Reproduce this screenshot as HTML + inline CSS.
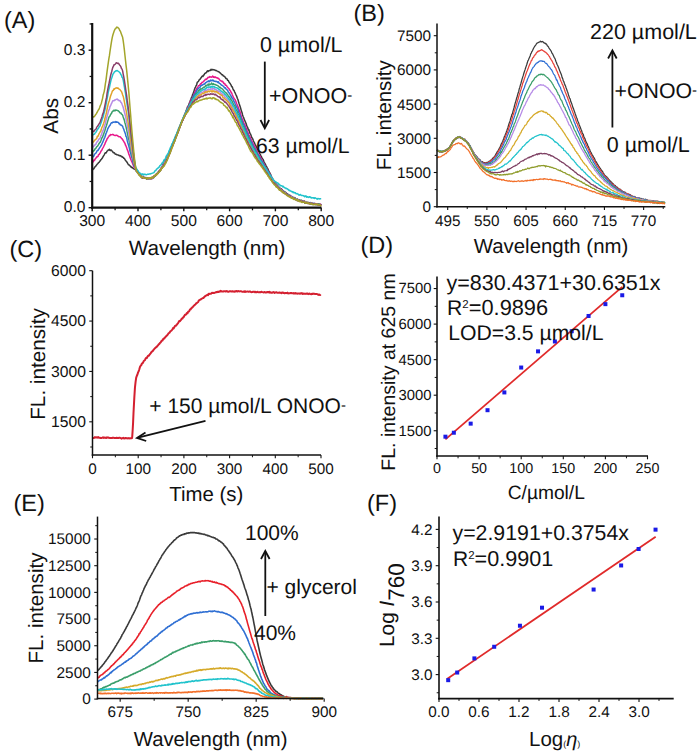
<!DOCTYPE html><html><head><meta charset="utf-8"><style>html,body{margin:0;padding:0;background:#fff;}svg{display:block;font-family:"Liberation Sans",sans-serif;}</style></head><body><svg width="700" height="756" viewBox="0 0 700 756" font-family="&quot;Liberation Sans&quot;, sans-serif" fill="#111" text-rendering="geometricPrecision">
<rect width="700" height="756" fill="#fff"/>
<path d="M92.2,170.32 L92.77,169.47 L93.35,168.93 L93.92,168.75 L94.5,167.36 L95.07,166.81 L95.64,166.42 L96.22,165.38 L96.79,164.75 L97.37,164.08 L97.94,163.47 L98.51,162.61 L99.09,162.32 L99.66,161.45 L100.24,160.85 L100.81,159.8 L101.38,159.19 L101.96,158.45 L102.53,157.72 L103.1,156.64 L103.68,155.63 L104.25,154.81 L104.83,153.43 L105.4,152.68 L105.97,153.08 L106.55,152.14 L107.12,151.01 L107.7,150.62 L108.27,150.08 L108.84,149.91 L109.42,149.3 L109.99,150.43 L110.57,150.41 L111.14,149.95 L111.71,150.75 L112.29,151.16 L112.86,151.99 L113.44,152.81 L114.01,152.7 L114.58,153.17 L115.16,154.01 L115.73,154.21 L116.31,154.32 L116.88,154.87 L117.45,154.85 L118.03,155.02 L118.6,155.26 L119.17,155.65 L119.75,155.53 L120.32,155.67 L120.9,156.1 L121.47,156.74 L122.04,156.55 L122.62,157.28 L123.19,157.25 L123.77,158.37 L124.34,158.36 L124.91,159.35 L125.49,160.5 L126.06,161 L126.64,161.71 L127.21,162.47 L127.78,163.67 L128.36,164.47 L128.93,164.77 L129.51,165.6 L130.08,165.92 L130.65,166.24 L131.23,167.46 L131.8,167.29 L132.38,167.39 L132.95,168.26 L133.52,168.82 L134.1,168.72 L134.67,169.27 L135.25,169.49 L135.82,170.32 L136.39,171.15 L136.97,171.25 L137.54,171.95 L138.11,172.22 L138.69,173.08 L139.26,174.34 L139.84,174.88 L140.41,174.88 L140.98,175.55 L141.56,176.5 L142.13,176.76 L142.71,176.96 L143.28,177.19 L143.85,177.27 L144.43,177.67 L145,177.97 L145.58,178.19 L146.15,177.94 L146.72,179.13 L147.3,178.59 L147.87,178.64 L148.45,179.18 L149.02,178.69 L149.59,179.03 L150.17,178.54 L150.74,178.77 L151.32,178.35 L151.89,177.92 L152.46,177.87 L153.04,177.88 L153.61,177.64 L154.18,176.12 L154.76,176.18 L155.33,175.79 L155.91,174.94 L156.48,174.42 L157.05,173.46 L157.63,173.08 L158.2,172.45 L158.78,172.04 L159.35,170.95 L159.92,170.62 L160.5,169.2 L161.07,167.98 L161.65,167.92 L162.22,167.15 L162.79,165.08 L163.37,163.34 L163.94,163.31 L164.52,162.24 L165.09,160.51 L165.66,159.83 L166.24,158.57 L166.81,157.34 L167.39,155.85 L167.96,154.91 L168.53,153.44 L169.11,152.3 L169.68,151.21 L170.26,149.73 L170.83,148.6 L171.4,146.96 L171.98,145.96 L172.55,144.58 L173.12,142.41 L173.7,141.51 L174.27,140.12 L174.85,138.56 L175.42,137.47 L175.99,136.03 L176.57,134.45 L177.14,133.12 L177.72,132.21 L178.29,130.2 L178.86,129.26 L179.44,128 L180.01,126.53 L180.59,124.95 L181.16,122.88 L181.73,122.33 L182.31,120.47 L182.88,119.75 L183.46,117.64 L184.03,115.91 L184.6,114.83 L185.18,113.51 L185.75,111.81 L186.33,110.23 L186.9,108.83 L187.47,107 L188.05,106.16 L188.62,105.03 L189.19,103.5 L189.77,102.1 L190.34,100.61 L190.92,99.18 L191.49,97.61 L192.06,96.66 L192.64,94.33 L193.21,93.24 L193.79,91.9 L194.36,89.84 L194.93,88.16 L195.51,87 L196.08,85.74 L196.66,84.79 L197.23,82.38 L197.8,81.89 L198.38,81.5 L198.95,80.47 L199.53,79.41 L200.1,79.26 L200.67,78.07 L201.25,77.63 L201.82,76.46 L202.4,75.93 L202.97,76.48 L203.54,75.02 L204.12,74.97 L204.69,73.56 L205.27,73.32 L205.84,72.7 L206.41,72.73 L206.99,71.37 L207.56,70.89 L208.13,71.48 L208.71,70.69 L209.28,70.71 L209.86,70.24 L210.43,70.42 L211,69.26 L211.58,70.02 L212.15,69.74 L212.73,69.47 L213.3,69.86 L213.87,69.81 L214.45,70.03 L215.02,70.05 L215.6,70.57 L216.17,70.58 L216.74,70.78 L217.32,71.12 L217.89,71.33 L218.47,71.8 L219.04,71.85 L219.61,72.6 L220.19,72.97 L220.76,73.59 L221.34,74.01 L221.91,74.72 L222.48,74.65 L223.06,75.68 L223.63,76.06 L224.21,76.23 L224.78,76.74 L225.35,77.51 L225.93,78.56 L226.5,78.39 L227.07,79.09 L227.65,80.33 L228.22,80.4 L228.8,81.67 L229.37,82.66 L229.94,83.18 L230.52,84.2 L231.09,85.07 L231.67,86.65 L232.24,86.63 L232.81,88.48 L233.39,89.89 L233.96,90.35 L234.54,91.83 L235.11,92.81 L235.68,94.23 L236.26,95.39 L236.83,96.67 L237.41,98.49 L237.98,99.67 L238.55,101.75 L239.13,103.67 L239.7,105.21 L240.28,106.97 L240.85,109.06 L241.42,111.12 L242,112.48 L242.57,114.99 L243.14,116.45 L243.72,117.7 L244.29,119.65 L244.87,120.69 L245.44,122.18 L246.01,123.32 L246.59,125.32 L247.16,126.63 L247.74,127.71 L248.31,129.96 L248.88,129.56 L249.46,132.09 L250.03,133.42 L250.61,134.23 L251.18,135.8 L251.75,137.63 L252.33,138.14 L252.9,139.32 L253.48,140.98 L254.05,142.16 L254.62,143.14 L255.2,144.8 L255.77,145.57 L256.35,146.82 L256.92,148.26 L257.49,149.64 L258.07,150.4 L258.64,151.73 L259.22,152.26 L259.79,153.63 L260.36,154.53 L260.94,155.82 L261.51,156.87 L262.08,158.28 L262.66,158.9 L263.23,159.63 L263.81,161.36 L264.38,162.53 L264.95,163.48 L265.53,164.67 L266.1,165.85 L266.68,166.72 L267.25,168.01 L267.82,168.64 L268.4,170.27 L268.97,171.34 L269.55,172.32 L270.12,173.88 L270.69,174.48 L271.27,176.25 L271.84,177.4 L272.42,178.33 L272.99,179.27 L273.56,180.66 L274.14,181.15 L274.71,182.53 L275.29,182.38 L275.86,183.58 L276.43,184.44 L277.01,185.19 L277.58,185.67 L278.15,186.24 L278.73,187.1 L279.3,187.64 L279.88,187.97 L280.45,188.62 L281.02,188.68 L281.6,189.13 L282.17,189.98 L282.75,190.31 L283.32,191.35 L283.89,191.18 L284.47,191.83 L285.04,192.09 L285.62,192.16 L286.19,193.79 L286.76,193.38 L287.34,194.2 L287.91,194.05 L288.49,195.03 L289.06,195.14 L289.63,195.28 L290.21,195.5 L290.78,196.01 L291.36,196.62 L291.93,196.87 L292.5,196.73 L293.08,197.32 L293.65,198.15 L294.23,197.64 L294.8,198.05 L295.37,198.17 L295.95,198.81 L296.52,198.69 L297.09,199.52 L297.67,199.23 L298.24,199.78 L298.82,199.63 L299.39,199.74 L299.96,200.49 L300.54,200.48 L301.11,200.65 L301.69,200.48 L302.26,200.82 L302.83,201.61 L303.41,201.26 L303.98,201.34 L304.56,201.07 L305.13,202.43 L305.7,202.22 L306.28,201.78 L306.85,202.77 L307.43,202.86 L308,202.45 L308.57,202.42 L309.15,203.07 L309.72,202.8 L310.3,203.04 L310.87,202.7 L311.44,203.29 L312.02,203.07 L312.59,203.77 L313.16,203.64 L313.74,203.71 L314.31,203.41 L314.89,203.67 L315.46,204.18 L316.03,203.81 L316.61,203.86 L317.18,204.21 L317.76,204.32 L318.33,204.37 L318.9,204.9 L319.48,204.36 L320.05,204.39 L320.63,204.78 L321.2,204.32" fill="none" stroke="#3a3a3a" stroke-width="1.5" stroke-linejoin="round"/>
<path d="M92.2,163.01 L92.77,162.15 L93.35,161.49 L93.92,160.07 L94.5,160.53 L95.07,159.16 L95.64,158.34 L96.22,157.8 L96.79,156.82 L97.37,156.78 L97.94,156.44 L98.51,154.73 L99.09,154.6 L99.66,153.56 L100.24,153.03 L100.81,151.47 L101.38,150.59 L101.96,150.06 L102.53,148.46 L103.1,147.58 L103.68,146.5 L104.25,145.27 L104.83,144.13 L105.4,142.6 L105.97,141.43 L106.55,140.4 L107.12,138.82 L107.7,138.28 L108.27,137.11 L108.84,136.37 L109.42,135.47 L109.99,135.62 L110.57,134.53 L111.14,134.73 L111.71,134.65 L112.29,134.71 L112.86,134.33 L113.44,134.62 L114.01,135.18 L114.58,135.38 L115.16,135.39 L115.73,135.6 L116.31,135.2 L116.88,135.3 L117.45,135.68 L118.03,136.09 L118.6,136.61 L119.17,136.76 L119.75,136.84 L120.32,136.82 L120.9,137.61 L121.47,138.44 L122.04,138.83 L122.62,139.58 L123.19,140.5 L123.77,141.36 L124.34,142.48 L124.91,143.3 L125.49,145.24 L126.06,146.24 L126.64,147.59 L127.21,149.65 L127.78,150.71 L128.36,152.54 L128.93,154.42 L129.51,155.77 L130.08,157.4 L130.65,159.02 L131.23,160.48 L131.8,161.73 L132.38,162.9 L132.95,164.6 L133.52,165.61 L134.1,167.34 L134.67,167.95 L135.25,168.89 L135.82,169.93 L136.39,170.59 L136.97,171.11 L137.54,172.17 L138.11,172.72 L138.69,173.19 L139.26,173.73 L139.84,174.59 L140.41,174.55 L140.98,175.96 L141.56,176.13 L142.13,176.47 L142.71,177.24 L143.28,177.67 L143.85,177.97 L144.43,177.73 L145,177.6 L145.58,178.02 L146.15,178.2 L146.72,178.5 L147.3,178.32 L147.87,179.26 L148.45,178.59 L149.02,178.7 L149.59,179.17 L150.17,178.05 L150.74,179.08 L151.32,178.82 L151.89,178.61 L152.46,177.57 L153.04,177.83 L153.61,176.91 L154.18,176.45 L154.76,176.04 L155.33,175.98 L155.91,175.18 L156.48,173.86 L157.05,174.18 L157.63,173.41 L158.2,172.58 L158.78,171.66 L159.35,171.15 L159.92,170.23 L160.5,169.96 L161.07,168.43 L161.65,167.59 L162.22,167.26 L162.79,165.24 L163.37,163.93 L163.94,163.81 L164.52,162.45 L165.09,160.93 L165.66,160.74 L166.24,159.78 L166.81,158.39 L167.39,156.96 L167.96,155.72 L168.53,154.08 L169.11,152.88 L169.68,152.03 L170.26,150.11 L170.83,148.34 L171.4,147.17 L171.98,145.85 L172.55,144.76 L173.12,143.06 L173.7,142.29 L174.27,140.36 L174.85,139.22 L175.42,137.43 L175.99,136.23 L176.57,135.3 L177.14,133.49 L177.72,131.73 L178.29,131.04 L178.86,129.42 L179.44,128.05 L180.01,126.83 L180.59,124.62 L181.16,123.08 L181.73,121.81 L182.31,120.57 L182.88,119.27 L183.46,117.8 L184.03,116.75 L184.6,114.91 L185.18,113.54 L185.75,112.26 L186.33,111.41 L186.9,109.91 L187.47,108.7 L188.05,106.81 L188.62,106.05 L189.19,105.45 L189.77,103.48 L190.34,101.74 L190.92,100.81 L191.49,99.44 L192.06,98.38 L192.64,97.7 L193.21,96.35 L193.79,94.89 L194.36,93.29 L194.93,91.95 L195.51,90.67 L196.08,89.9 L196.66,88.46 L197.23,87.88 L197.8,87.11 L198.38,85.8 L198.95,85.62 L199.53,85.55 L200.1,84.47 L200.67,83.57 L201.25,84.04 L201.82,82.67 L202.4,82.15 L202.97,82 L203.54,81.53 L204.12,80.74 L204.69,80.32 L205.27,79.32 L205.84,79.19 L206.41,79.42 L206.99,78.83 L207.56,78 L208.13,77.32 L208.71,77.52 L209.28,77.3 L209.86,76.6 L210.43,77.02 L211,76.98 L211.58,77.23 L212.15,76.89 L212.73,76.04 L213.3,77.22 L213.87,76.85 L214.45,77.43 L215.02,77.12 L215.6,77.09 L216.17,77.69 L216.74,77.66 L217.32,77.97 L217.89,78.4 L218.47,78.37 L219.04,79.05 L219.61,79.81 L220.19,80.36 L220.76,80.87 L221.34,80.92 L221.91,81.66 L222.48,81.19 L223.06,81.97 L223.63,83.13 L224.21,83.69 L224.78,83.57 L225.35,85.22 L225.93,85.31 L226.5,85.46 L227.07,86.69 L227.65,87.26 L228.22,87.98 L228.8,88.46 L229.37,89.48 L229.94,90.29 L230.52,91.16 L231.09,92.31 L231.67,92.97 L232.24,94.59 L232.81,95.89 L233.39,97.09 L233.96,98.16 L234.54,98.96 L235.11,99.63 L235.68,101.08 L236.26,102.52 L236.83,103.97 L237.41,105.2 L237.98,106.64 L238.55,108.24 L239.13,110.12 L239.7,111.45 L240.28,112.64 L240.85,115.31 L241.42,116.37 L242,118.6 L242.57,119.48 L243.14,121.31 L243.72,123.21 L244.29,123.93 L244.87,124.79 L245.44,126.71 L246.01,127.74 L246.59,129.48 L247.16,131.47 L247.74,131.96 L248.31,133.55 L248.88,135.16 L249.46,135.73 L250.03,137.14 L250.61,138.63 L251.18,139.42 L251.75,141.17 L252.33,141.89 L252.9,143.56 L253.48,144.26 L254.05,145.92 L254.62,146.25 L255.2,147.76 L255.77,148.5 L256.35,150.31 L256.92,151.28 L257.49,151.93 L258.07,154.12 L258.64,154.63 L259.22,155.01 L259.79,156.21 L260.36,157.07 L260.94,158.49 L261.51,159.23 L262.08,160.64 L262.66,161.85 L263.23,162.96 L263.81,163.6 L264.38,164.61 L264.95,165.64 L265.53,167.57 L266.1,168.12 L266.68,168.72 L267.25,169.53 L267.82,170.89 L268.4,172.08 L268.97,173.62 L269.55,173.35 L270.12,175.41 L270.69,175.6 L271.27,176.68 L271.84,178.11 L272.42,179.36 L272.99,180.1 L273.56,181.42 L274.14,181.84 L274.71,182.74 L275.29,183.34 L275.86,183.91 L276.43,184.32 L277.01,185.63 L277.58,185.8 L278.15,186.98 L278.73,187.59 L279.3,188.07 L279.88,188.73 L280.45,188.64 L281.02,189.17 L281.6,189.56 L282.17,190.46 L282.75,190.83 L283.32,191.56 L283.89,192.18 L284.47,192.11 L285.04,192.58 L285.62,193.42 L286.19,193.29 L286.76,194.41 L287.34,194.3 L287.91,194.81 L288.49,195.15 L289.06,195.68 L289.63,195.39 L290.21,195.86 L290.78,196 L291.36,196.66 L291.93,197.43 L292.5,197.45 L293.08,198.01 L293.65,197.78 L294.23,197.83 L294.8,198.37 L295.37,198.93 L295.95,199.11 L296.52,199.16 L297.09,199.91 L297.67,199.63 L298.24,199.82 L298.82,200.27 L299.39,200.43 L299.96,200.44 L300.54,200.95 L301.11,201.14 L301.69,200.82 L302.26,201.17 L302.83,200.89 L303.41,201.9 L303.98,202.32 L304.56,201.62 L305.13,201.77 L305.7,202.45 L306.28,202.83 L306.85,202.52 L307.43,203.19 L308,202.87 L308.57,203.57 L309.15,203.08 L309.72,203.78 L310.3,203.29 L310.87,202.84 L311.44,203.51 L312.02,203.28 L312.59,203.82 L313.16,204 L313.74,204.28 L314.31,203.57 L314.89,204.01 L315.46,203.56 L316.03,204.53 L316.61,204.3 L317.18,204.28 L317.76,203.93 L318.33,203.87 L318.9,204.71 L319.48,204.92 L320.05,205.16 L320.63,204.23 L321.2,204.72" fill="none" stroke="#e8198b" stroke-width="1.5" stroke-linejoin="round"/>
<path d="M92.2,157.18 L92.77,156.45 L93.35,156.66 L93.92,155.78 L94.5,154.29 L95.07,153.78 L95.64,153.15 L96.22,152.78 L96.79,151.53 L97.37,150.4 L97.94,150.57 L98.51,149.4 L99.09,148.75 L99.66,147.68 L100.24,146.9 L100.81,146 L101.38,145.17 L101.96,143.75 L102.53,142.71 L103.1,141.27 L103.68,139.92 L104.25,138.34 L104.83,137.27 L105.4,135.61 L105.97,133.54 L106.55,132.32 L107.12,130.77 L107.7,128.96 L108.27,127.86 L108.84,126.84 L109.42,125.84 L109.99,125.4 L110.57,124.05 L111.14,123.06 L111.71,122.7 L112.29,122.92 L112.86,122.04 L113.44,122.3 L114.01,122.08 L114.58,121.98 L115.16,122.41 L115.73,121.65 L116.31,122.16 L116.88,122.01 L117.45,122.26 L118.03,122.29 L118.6,122.65 L119.17,123.86 L119.75,123.8 L120.32,124.95 L120.9,124.94 L121.47,125.15 L122.04,125.72 L122.62,126.37 L123.19,128.01 L123.77,129.24 L124.34,130.98 L124.91,132.41 L125.49,134.13 L126.06,136.6 L126.64,137.25 L127.21,140.46 L127.78,142.65 L128.36,144.45 L128.93,146.52 L129.51,148.82 L130.08,151.49 L130.65,153.11 L131.23,155.75 L131.8,157.3 L132.38,159.22 L132.95,161.98 L133.52,163.82 L134.1,165.69 L134.67,167.02 L135.25,168.58 L135.82,169.74 L136.39,170.95 L136.97,171.23 L137.54,171.63 L138.11,173.21 L138.69,173.56 L139.26,174.12 L139.84,174.91 L140.41,175.56 L140.98,175.5 L141.56,176.15 L142.13,176.69 L142.71,177.51 L143.28,176.76 L143.85,177.53 L144.43,177.99 L145,178.07 L145.58,178.26 L146.15,177.57 L146.72,178.3 L147.3,178.44 L147.87,179.23 L148.45,178.38 L149.02,179 L149.59,179.04 L150.17,178.49 L150.74,178.87 L151.32,178.17 L151.89,177.84 L152.46,178.45 L153.04,177.56 L153.61,177.58 L154.18,176.64 L154.76,175.82 L155.33,175.99 L155.91,174.43 L156.48,174.5 L157.05,174.17 L157.63,173.23 L158.2,172.34 L158.78,172.42 L159.35,171.32 L159.92,171.01 L160.5,169.38 L161.07,168.84 L161.65,168.1 L162.22,166.67 L162.79,166.4 L163.37,165.08 L163.94,163.32 L164.52,162.88 L165.09,161.34 L165.66,160.63 L166.24,159.8 L166.81,158.5 L167.39,157.19 L167.96,156.09 L168.53,154.94 L169.11,153.61 L169.68,152.49 L170.26,150.62 L170.83,149.15 L171.4,147.64 L171.98,147.04 L172.55,144.8 L173.12,143.66 L173.7,142.7 L174.27,140.83 L174.85,139.2 L175.42,137.87 L175.99,136.37 L176.57,134.86 L177.14,133.43 L177.72,132.27 L178.29,131.46 L178.86,129.59 L179.44,127.77 L180.01,126.58 L180.59,124.76 L181.16,123.29 L181.73,122.11 L182.31,120.13 L182.88,119.66 L183.46,117.71 L184.03,116.85 L184.6,115.67 L185.18,113.98 L185.75,113.1 L186.33,111.38 L186.9,110.78 L187.47,109.17 L188.05,108.23 L188.62,106.84 L189.19,105.7 L189.77,104.76 L190.34,103 L190.92,102.38 L191.49,101.08 L192.06,99.28 L192.64,98.05 L193.21,96.96 L193.79,95.91 L194.36,94.18 L194.93,94.21 L195.51,93.04 L196.08,92.15 L196.66,90.66 L197.23,90.01 L197.8,88.97 L198.38,88.29 L198.95,88.02 L199.53,87.64 L200.1,87.2 L200.67,85.71 L201.25,85.64 L201.82,85.29 L202.4,85.13 L202.97,84.65 L203.54,84.27 L204.12,83.85 L204.69,84.11 L205.27,82.99 L205.84,82.73 L206.41,82.18 L206.99,81.89 L207.56,81.39 L208.13,81.4 L208.71,80.9 L209.28,81.74 L209.86,81.1 L210.43,80.06 L211,80.87 L211.58,80.49 L212.15,80.14 L212.73,80.64 L213.3,80.19 L213.87,80.96 L214.45,81.25 L215.02,81.24 L215.6,81.56 L216.17,81.29 L216.74,81.67 L217.32,81.78 L217.89,82.55 L218.47,81.8 L219.04,83.02 L219.61,83.43 L220.19,83.71 L220.76,84.38 L221.34,84.97 L221.91,85.23 L222.48,85.47 L223.06,86.05 L223.63,86.48 L224.21,87.47 L224.78,88.06 L225.35,87.71 L225.93,88.95 L226.5,89.31 L227.07,89.88 L227.65,90.37 L228.22,91.99 L228.8,92.52 L229.37,93.35 L229.94,94.2 L230.52,95.8 L231.09,96.03 L231.67,97.91 L232.24,97.94 L232.81,98.92 L233.39,99.99 L233.96,101.67 L234.54,102.12 L235.11,103.83 L235.68,105.11 L236.26,106.21 L236.83,107.43 L237.41,108.45 L237.98,109.65 L238.55,112.04 L239.13,113.05 L239.7,114.12 L240.28,115.89 L240.85,117.36 L241.42,119.55 L242,120.33 L242.57,122.64 L243.14,123.55 L243.72,124.6 L244.29,125.8 L244.87,127.58 L245.44,128.81 L246.01,130.6 L246.59,131.88 L247.16,132.66 L247.74,134.31 L248.31,135.62 L248.88,137.28 L249.46,138.03 L250.03,139.09 L250.61,140.75 L251.18,141.85 L251.75,142.36 L252.33,143.95 L252.9,145.23 L253.48,146.62 L254.05,147.56 L254.62,148.54 L255.2,149.12 L255.77,150.81 L256.35,151.1 L256.92,153 L257.49,153.85 L258.07,154.48 L258.64,155.83 L259.22,157.01 L259.79,157.78 L260.36,158.58 L260.94,160.23 L261.51,160.74 L262.08,161.67 L262.66,162.73 L263.23,163.34 L263.81,164.71 L264.38,165.62 L264.95,166.46 L265.53,167.22 L266.1,168.52 L266.68,168.99 L267.25,170.78 L267.82,171.13 L268.4,172.86 L268.97,173.69 L269.55,174.57 L270.12,175.07 L270.69,176.46 L271.27,177.87 L271.84,178.32 L272.42,179.75 L272.99,180.85 L273.56,181.34 L274.14,182.29 L274.71,182.82 L275.29,184.03 L275.86,184.42 L276.43,184.99 L277.01,185.73 L277.58,186.43 L278.15,187.23 L278.73,187.3 L279.3,188.1 L279.88,188.52 L280.45,189.31 L281.02,189.71 L281.6,190.53 L282.17,190.66 L282.75,190.91 L283.32,191.57 L283.89,191.77 L284.47,192.37 L285.04,192.45 L285.62,193.35 L286.19,194.2 L286.76,193.93 L287.34,194.49 L287.91,195.11 L288.49,194.96 L289.06,195.44 L289.63,195.73 L290.21,196.32 L290.78,196.48 L291.36,196.79 L291.93,196.63 L292.5,197.71 L293.08,197.79 L293.65,197.96 L294.23,198.9 L294.8,199.13 L295.37,198.2 L295.95,199.69 L296.52,199.18 L297.09,199.86 L297.67,200.04 L298.24,200.63 L298.82,200.5 L299.39,200.17 L299.96,201.05 L300.54,200.61 L301.11,200.88 L301.69,200.53 L302.26,201.49 L302.83,201.11 L303.41,201.4 L303.98,201.93 L304.56,202.52 L305.13,201.67 L305.7,202.72 L306.28,202.58 L306.85,202.29 L307.43,202.35 L308,203.09 L308.57,202.96 L309.15,203.14 L309.72,202.8 L310.3,202.48 L310.87,203.95 L311.44,203.19 L312.02,204.48 L312.59,203.67 L313.16,204.12 L313.74,203.24 L314.31,203.9 L314.89,204.27 L315.46,204.28 L316.03,204.39 L316.61,204.22 L317.18,204.4 L317.76,204.22 L318.33,204 L318.9,204.33 L319.48,204.99 L320.05,205.17 L320.63,204.94 L321.2,204.42" fill="none" stroke="#2f6fd3" stroke-width="1.5" stroke-linejoin="round"/>
<path d="M92.2,152.08 L92.77,151.7 L93.35,150.91 L93.92,150.81 L94.5,150.09 L95.07,148.89 L95.64,148.44 L96.22,147.74 L96.79,146.73 L97.37,146.23 L97.94,145.45 L98.51,144.57 L99.09,143.41 L99.66,142.72 L100.24,142.16 L100.81,140.84 L101.38,139.37 L101.96,137.72 L102.53,137.32 L103.1,135.42 L103.68,134.14 L104.25,132.28 L104.83,130.72 L105.4,128.55 L105.97,126.9 L106.55,125.27 L107.12,123.33 L107.7,121.21 L108.27,119.57 L108.84,117.54 L109.42,116.45 L109.99,116.09 L110.57,114.41 L111.14,113.85 L111.71,112.99 L112.29,111.46 L112.86,110.94 L113.44,111.11 L114.01,110.1 L114.58,110.77 L115.16,110.7 L115.73,110.04 L116.31,110.14 L116.88,110.33 L117.45,110.49 L118.03,110.66 L118.6,111.12 L119.17,111.55 L119.75,112.58 L120.32,112.97 L120.9,112.97 L121.47,114.07 L122.04,114.43 L122.62,115.14 L123.19,117.03 L123.77,118.62 L124.34,120.12 L124.91,122.76 L125.49,124.62 L126.06,126.95 L126.64,129.57 L127.21,132.31 L127.78,135.09 L128.36,137.77 L128.93,139.91 L129.51,142.74 L130.08,145.88 L130.65,148.51 L131.23,151.81 L131.8,153.88 L132.38,156.63 L132.95,159.14 L133.52,161.63 L134.1,164.07 L134.67,165.46 L135.25,168.67 L135.82,169.62 L136.39,170.29 L136.97,171.19 L137.54,172.25 L138.11,172.35 L138.69,173.96 L139.26,174.74 L139.84,174.82 L140.41,176.07 L140.98,176.91 L141.56,176.36 L142.13,176.79 L142.71,177.09 L143.28,177.66 L143.85,177.61 L144.43,178.13 L145,177.42 L145.58,177.85 L146.15,177.99 L146.72,178.95 L147.3,178.17 L147.87,178.04 L148.45,178.19 L149.02,178.36 L149.59,178.63 L150.17,178.73 L150.74,178.35 L151.32,178.26 L151.89,178.07 L152.46,177.93 L153.04,176.94 L153.61,177.42 L154.18,176.6 L154.76,176.27 L155.33,175.23 L155.91,174.54 L156.48,174.02 L157.05,173.58 L157.63,173.66 L158.2,171.97 L158.78,171.87 L159.35,171.42 L159.92,170.66 L160.5,169.99 L161.07,168.9 L161.65,168.05 L162.22,167.32 L162.79,167.05 L163.37,165.25 L163.94,164.06 L164.52,163.01 L165.09,162.18 L165.66,160.93 L166.24,159.65 L166.81,158.97 L167.39,157.15 L167.96,156.98 L168.53,155.47 L169.11,154.03 L169.68,153.15 L170.26,151.31 L170.83,149.2 L171.4,147.79 L171.98,146.72 L172.55,144.79 L173.12,143.83 L173.7,142.66 L174.27,141.03 L174.85,139.74 L175.42,138.03 L175.99,137.28 L176.57,135.03 L177.14,134.02 L177.72,132.13 L178.29,131.4 L178.86,129.57 L179.44,127.93 L180.01,126.2 L180.59,125.41 L181.16,123.06 L181.73,122.02 L182.31,120.95 L182.88,119.05 L183.46,118.09 L184.03,116.49 L184.6,114.91 L185.18,114.2 L185.75,113.41 L186.33,112.18 L186.9,110.68 L187.47,109.61 L188.05,108.81 L188.62,107.62 L189.19,106.08 L189.77,104.44 L190.34,104.89 L190.92,102.71 L191.49,101.89 L192.06,100.47 L192.64,99.35 L193.21,98.54 L193.79,97.85 L194.36,96.98 L194.93,96.19 L195.51,94.32 L196.08,93.95 L196.66,93.29 L197.23,92.49 L197.8,92.15 L198.38,91.02 L198.95,90.14 L199.53,89.7 L200.1,90.12 L200.67,88.78 L201.25,89.04 L201.82,89 L202.4,88.39 L202.97,87.92 L203.54,87.25 L204.12,87.21 L204.69,87.02 L205.27,86.3 L205.84,85.3 L206.41,85.83 L206.99,85.19 L207.56,85.06 L208.13,84.02 L208.71,85.25 L209.28,84.12 L209.86,84.72 L210.43,84.37 L211,84.12 L211.58,83.01 L212.15,84.22 L212.73,84.59 L213.3,83.64 L213.87,84.42 L214.45,84.37 L215.02,84.49 L215.6,84.67 L216.17,85.01 L216.74,85.16 L217.32,85.44 L217.89,85.64 L218.47,86.42 L219.04,86.92 L219.61,87.44 L220.19,87.35 L220.76,88.01 L221.34,88.3 L221.91,88.79 L222.48,88.93 L223.06,89.9 L223.63,90.24 L224.21,91.38 L224.78,91.86 L225.35,92.14 L225.93,92.96 L226.5,92.95 L227.07,94.23 L227.65,94.49 L228.22,96.04 L228.8,96.41 L229.37,97.01 L229.94,97.87 L230.52,99.28 L231.09,99.65 L231.67,100.37 L232.24,101.49 L232.81,102.96 L233.39,104.01 L233.96,105.29 L234.54,105.84 L235.11,106.71 L235.68,108.47 L236.26,110 L236.83,110.62 L237.41,111.75 L237.98,114.16 L238.55,114.64 L239.13,115.4 L239.7,117.24 L240.28,118.77 L240.85,120.28 L241.42,121.53 L242,123.62 L242.57,125.02 L243.14,126.02 L243.72,127.72 L244.29,128.74 L244.87,130.73 L245.44,131.19 L246.01,132.45 L246.59,133.98 L247.16,135.2 L247.74,136 L248.31,138.09 L248.88,139.26 L249.46,140.52 L250.03,141.5 L250.61,142.85 L251.18,143.68 L251.75,145.02 L252.33,146.39 L252.9,147.51 L253.48,147.72 L254.05,149.18 L254.62,150.29 L255.2,151.25 L255.77,152.3 L256.35,153.05 L256.92,154.11 L257.49,155.45 L258.07,156.5 L258.64,157.55 L259.22,158.56 L259.79,158.67 L260.36,160.34 L260.94,161.63 L261.51,162.19 L262.08,163.1 L262.66,163.68 L263.23,164.99 L263.81,165.47 L264.38,166.45 L264.95,167.11 L265.53,167.76 L266.1,168.51 L266.68,169.95 L267.25,171.74 L267.82,172.5 L268.4,173.3 L268.97,173.73 L269.55,175.17 L270.12,175.99 L270.69,177.41 L271.27,178.13 L271.84,179.03 L272.42,180.32 L272.99,180.82 L273.56,181.57 L274.14,182.77 L274.71,183.17 L275.29,183.69 L275.86,184.86 L276.43,185.51 L277.01,186.22 L277.58,186.92 L278.15,187.25 L278.73,187.99 L279.3,188.51 L279.88,189.19 L280.45,189.94 L281.02,190.25 L281.6,190.34 L282.17,191.29 L282.75,191.59 L283.32,191.31 L283.89,191.91 L284.47,192.9 L285.04,192.91 L285.62,193.7 L286.19,193.37 L286.76,194.45 L287.34,194.61 L287.91,194.56 L288.49,195.62 L289.06,195.3 L289.63,196.31 L290.21,196.32 L290.78,196.81 L291.36,197.07 L291.93,197.3 L292.5,197.68 L293.08,198.27 L293.65,197.96 L294.23,198.28 L294.8,198.37 L295.37,198.59 L295.95,199.69 L296.52,199.1 L297.09,199.32 L297.67,200.1 L298.24,199.81 L298.82,199.88 L299.39,200.7 L299.96,201.16 L300.54,201.02 L301.11,200.21 L301.69,201.2 L302.26,201.82 L302.83,201.69 L303.41,202.09 L303.98,202.06 L304.56,202.05 L305.13,203.04 L305.7,202.26 L306.28,202.07 L306.85,202.71 L307.43,202.89 L308,202.55 L308.57,203.41 L309.15,203.52 L309.72,203.67 L310.3,203.39 L310.87,203.32 L311.44,203.57 L312.02,203.47 L312.59,203.48 L313.16,203.68 L313.74,204.18 L314.31,204.1 L314.89,203.71 L315.46,204.52 L316.03,204.35 L316.61,204.47 L317.18,204.47 L317.76,204.83 L318.33,204.98 L318.9,203.81 L319.48,204.37 L320.05,204.95 L320.63,204.79 L321.2,204.6" fill="none" stroke="#3a9e6a" stroke-width="1.5" stroke-linejoin="round"/>
<path d="M92.2,147.52 L92.77,146.79 L93.35,146.68 L93.92,146.03 L94.5,145.33 L95.07,144.77 L95.64,144.69 L96.22,143.15 L96.79,142.29 L97.37,141.41 L97.94,141.04 L98.51,139.78 L99.09,138.97 L99.66,138.68 L100.24,137.8 L100.81,135.83 L101.38,135.03 L101.96,133.04 L102.53,131.21 L103.1,130.52 L103.68,128.94 L104.25,127.06 L104.83,124.97 L105.4,123.44 L105.97,120.46 L106.55,118.25 L107.12,116.09 L107.7,114.31 L108.27,111.88 L108.84,110.19 L109.42,109.21 L109.99,106.56 L110.57,105.77 L111.14,104.13 L111.71,103.13 L112.29,101.76 L112.86,100.69 L113.44,100.78 L114.01,100.72 L114.58,100.03 L115.16,100.04 L115.73,99.67 L116.31,99.36 L116.88,99.36 L117.45,99.1 L118.03,100.1 L118.6,100.04 L119.17,100.78 L119.75,100.75 L120.32,101.02 L120.9,102.43 L121.47,102.79 L122.04,104.33 L122.62,105.74 L123.19,107.28 L123.77,109.48 L124.34,111.71 L124.91,114.07 L125.49,116.2 L126.06,118.94 L126.64,121.76 L127.21,124.92 L127.78,127.99 L128.36,130.81 L128.93,133.89 L129.51,137.22 L130.08,140.72 L130.65,144.43 L131.23,148.44 L131.8,151.33 L132.38,154.14 L132.95,156.36 L133.52,160.05 L134.1,162.61 L134.67,165.02 L135.25,167.66 L135.82,169.66 L136.39,170.77 L136.97,171.79 L137.54,172.15 L138.11,172.65 L138.69,173.57 L139.26,174.21 L139.84,174.89 L140.41,175.09 L140.98,176.46 L141.56,176.67 L142.13,176.87 L142.71,176.98 L143.28,178.31 L143.85,177.86 L144.43,177.91 L145,178.3 L145.58,177.83 L146.15,178.14 L146.72,178.44 L147.3,178.91 L147.87,178.89 L148.45,178.84 L149.02,178.42 L149.59,178.97 L150.17,179.23 L150.74,178.95 L151.32,178.52 L151.89,177.57 L152.46,177.01 L153.04,177.59 L153.61,176.73 L154.18,176.13 L154.76,175.67 L155.33,175.58 L155.91,175.4 L156.48,174.58 L157.05,174.43 L157.63,173.18 L158.2,172.43 L158.78,172.69 L159.35,171.49 L159.92,170.68 L160.5,169.63 L161.07,168.78 L161.65,168.1 L162.22,167.67 L162.79,166.64 L163.37,165.19 L163.94,164.78 L164.52,163.6 L165.09,162.08 L165.66,161.51 L166.24,160.91 L166.81,159.42 L167.39,157.93 L167.96,156.93 L168.53,155.21 L169.11,153.82 L169.68,153.06 L170.26,151.6 L170.83,150.05 L171.4,148.96 L171.98,147.02 L172.55,145.75 L173.12,144.01 L173.7,143.03 L174.27,141.72 L174.85,139.44 L175.42,138.84 L175.99,137.28 L176.57,135.83 L177.14,134.19 L177.72,132.87 L178.29,131.09 L178.86,129.78 L179.44,128.18 L180.01,126.45 L180.59,124.87 L181.16,123.5 L181.73,122.47 L182.31,120.75 L182.88,119.59 L183.46,118.32 L184.03,117.63 L184.6,115.74 L185.18,114.87 L185.75,113.17 L186.33,112.4 L186.9,111.85 L187.47,110.84 L188.05,108.98 L188.62,108.56 L189.19,107.04 L189.77,106.34 L190.34,104.57 L190.92,104.21 L191.49,102.77 L192.06,101.87 L192.64,101.5 L193.21,100.56 L193.79,99.12 L194.36,98.77 L194.93,98.28 L195.51,96.92 L196.08,95.85 L196.66,96.09 L197.23,95.09 L197.8,95.07 L198.38,94.11 L198.95,94.17 L199.53,93.28 L200.1,93.18 L200.67,93.07 L201.25,92.6 L201.82,92.52 L202.4,92.39 L202.97,92.06 L203.54,91.45 L204.12,91.48 L204.69,90.73 L205.27,90.44 L205.84,90.22 L206.41,90.29 L206.99,89.9 L207.56,89.73 L208.13,89.13 L208.71,89.64 L209.28,89.37 L209.86,89.2 L210.43,89.08 L211,89.2 L211.58,89.11 L212.15,88.57 L212.73,89.11 L213.3,88.69 L213.87,88.45 L214.45,88.84 L215.02,90 L215.6,89.42 L216.17,89.77 L216.74,90.05 L217.32,91.05 L217.89,90.66 L218.47,91.62 L219.04,91.27 L219.61,91.76 L220.19,91.74 L220.76,93.13 L221.34,93.96 L221.91,93.64 L222.48,94.2 L223.06,95.1 L223.63,95.07 L224.21,95.8 L224.78,96.94 L225.35,97.17 L225.93,97.73 L226.5,98.21 L227.07,98.76 L227.65,99.74 L228.22,100.33 L228.8,100.88 L229.37,101.93 L229.94,102.88 L230.52,103.81 L231.09,104.7 L231.67,106.25 L232.24,106.61 L232.81,108.03 L233.39,108.73 L233.96,110.31 L234.54,110.65 L235.11,111.97 L235.68,113.59 L236.26,114.22 L236.83,115.7 L237.41,116.1 L237.98,117.75 L238.55,119.41 L239.13,120.36 L239.7,121.71 L240.28,122.62 L240.85,124.2 L241.42,125.47 L242,127.31 L242.57,128.03 L243.14,128.91 L243.72,130.65 L244.29,132.11 L244.87,133.3 L245.44,134.89 L246.01,135.77 L246.59,137.4 L247.16,138.26 L247.74,139.6 L248.31,140.93 L248.88,141.66 L249.46,143.48 L250.03,144.16 L250.61,145.69 L251.18,145.8 L251.75,146.84 L252.33,148.25 L252.9,148.96 L253.48,150.39 L254.05,151.41 L254.62,152.71 L255.2,153.83 L255.77,154.48 L256.35,155.64 L256.92,156.54 L257.49,157.11 L258.07,158.29 L258.64,159.65 L259.22,160.13 L259.79,161.2 L260.36,161.94 L260.94,163.08 L261.51,163.23 L262.08,163.89 L262.66,165.72 L263.23,166.04 L263.81,166.94 L264.38,168.34 L264.95,168.86 L265.53,169.33 L266.1,170.42 L266.68,171.09 L267.25,172.91 L267.82,173.71 L268.4,174.33 L268.97,175.26 L269.55,176.3 L270.12,177.37 L270.69,178.3 L271.27,179.27 L271.84,179.82 L272.42,181.7 L272.99,181.17 L273.56,182.64 L274.14,183.7 L274.71,183.81 L275.29,185.12 L275.86,185.2 L276.43,186.06 L277.01,186.34 L277.58,186.86 L278.15,187.27 L278.73,188.38 L279.3,188.85 L279.88,189.29 L280.45,190.24 L281.02,190.1 L281.6,190.72 L282.17,191.65 L282.75,191.3 L283.32,191.7 L283.89,192.97 L284.47,192.79 L285.04,192.98 L285.62,193.51 L286.19,194.47 L286.76,194.97 L287.34,194.93 L287.91,195.41 L288.49,195.61 L289.06,195.98 L289.63,196.12 L290.21,196.8 L290.78,197 L291.36,196.33 L291.93,197.61 L292.5,197.64 L293.08,198.07 L293.65,198.37 L294.23,199 L294.8,198.8 L295.37,199.23 L295.95,199.2 L296.52,199.04 L297.09,199.84 L297.67,199.87 L298.24,200.63 L298.82,200.46 L299.39,200.2 L299.96,200.9 L300.54,201.26 L301.11,201.17 L301.69,201.46 L302.26,201.65 L302.83,201.85 L303.41,201.27 L303.98,202.32 L304.56,202.32 L305.13,202.52 L305.7,202.09 L306.28,202.7 L306.85,202.33 L307.43,202.81 L308,202.99 L308.57,203.56 L309.15,202.83 L309.72,203.15 L310.3,203.3 L310.87,203.56 L311.44,203.76 L312.02,204.12 L312.59,203.52 L313.16,203.83 L313.74,204.12 L314.31,204.29 L314.89,204.14 L315.46,204.29 L316.03,203.83 L316.61,204.18 L317.18,204.68 L317.76,204.91 L318.33,204.7 L318.9,204.98 L319.48,204.73 L320.05,204.68 L320.63,204.65 L321.2,204.77" fill="none" stroke="#b58ae6" stroke-width="1.5" stroke-linejoin="round"/>
<path d="M92.2,142.64 L92.77,142.02 L93.35,142.03 L93.92,141.23 L94.5,140.35 L95.07,139.85 L95.64,139.62 L96.22,138.82 L96.79,138.16 L97.37,136.24 L97.94,136.44 L98.51,135.12 L99.09,133.61 L99.66,132.89 L100.24,131.73 L100.81,131.09 L101.38,129.35 L101.96,127.14 L102.53,126.52 L103.1,124.7 L103.68,123.17 L104.25,121.25 L104.83,119.04 L105.4,116.36 L105.97,114.54 L106.55,112.08 L107.12,109.01 L107.7,106.44 L108.27,103.75 L108.84,101.94 L109.42,100.39 L109.99,98.05 L110.57,95.96 L111.14,94.42 L111.71,93 L112.29,91.29 L112.86,90.51 L113.44,90.25 L114.01,88.75 L114.58,89.11 L115.16,88.4 L115.73,88.08 L116.31,87.89 L116.88,87.84 L117.45,88.35 L118.03,88.02 L118.6,88.58 L119.17,89.1 L119.75,89.4 L120.32,90.11 L120.9,90.85 L121.47,91.58 L122.04,92.99 L122.62,94.84 L123.19,96.19 L123.77,98.69 L124.34,101.48 L124.91,104.67 L125.49,107.71 L126.06,110.16 L126.64,113.26 L127.21,117.22 L127.78,120.13 L128.36,123.89 L128.93,127.58 L129.51,131.19 L130.08,135.58 L130.65,139.94 L131.23,143.81 L131.8,148.17 L132.38,151.15 L132.95,154.67 L133.52,158.54 L134.1,161.48 L134.67,164.58 L135.25,167.52 L135.82,169.44 L136.39,170.46 L136.97,171.18 L137.54,172.57 L138.11,173.01 L138.69,173.55 L139.26,174.59 L139.84,175.48 L140.41,176.08 L140.98,176.46 L141.56,177.13 L142.13,176.53 L142.71,177.6 L143.28,177.47 L143.85,177.67 L144.43,177.66 L145,178.1 L145.58,178.5 L146.15,177.68 L146.72,178.32 L147.3,178.33 L147.87,178.37 L148.45,178.09 L149.02,178.28 L149.59,178.17 L150.17,178.27 L150.74,178.4 L151.32,178.21 L151.89,178.29 L152.46,178.37 L153.04,177.48 L153.61,177.34 L154.18,175.73 L154.76,175.57 L155.33,175.17 L155.91,175.17 L156.48,173.79 L157.05,174.4 L157.63,173.67 L158.2,172.96 L158.78,172.45 L159.35,171.49 L159.92,170.79 L160.5,169.51 L161.07,169.01 L161.65,168.11 L162.22,167.49 L162.79,166.76 L163.37,165.99 L163.94,165.29 L164.52,164.1 L165.09,162.95 L165.66,161.58 L166.24,161.28 L166.81,160.03 L167.39,158.33 L167.96,157.47 L168.53,155.72 L169.11,154.6 L169.68,153.32 L170.26,152.08 L170.83,150.25 L171.4,149 L171.98,147.51 L172.55,146.06 L173.12,144.35 L173.7,142.94 L174.27,142.13 L174.85,140.21 L175.42,138.58 L175.99,136.89 L176.57,135.46 L177.14,134.12 L177.72,133.03 L178.29,131.38 L178.86,129.32 L179.44,128.31 L180.01,126.27 L180.59,124.72 L181.16,124.01 L181.73,122.13 L182.31,120.94 L182.88,118.96 L183.46,118.09 L184.03,117.34 L184.6,115.94 L185.18,115.27 L185.75,113.94 L186.33,112.75 L186.9,111.71 L187.47,110.6 L188.05,109.95 L188.62,109.23 L189.19,107.76 L189.77,106.95 L190.34,105.93 L190.92,104.08 L191.49,103.46 L192.06,102.98 L192.64,102.5 L193.21,101.62 L193.79,100.31 L194.36,99.34 L194.93,99.08 L195.51,98.31 L196.08,97.7 L196.66,96.94 L197.23,97.39 L197.8,96.3 L198.38,95.8 L198.95,95.24 L199.53,95.06 L200.1,95.21 L200.67,94.74 L201.25,94.74 L201.82,93.9 L202.4,93.62 L202.97,93.24 L203.54,93.44 L204.12,93.24 L204.69,92.16 L205.27,92.35 L205.84,91.64 L206.41,91.84 L206.99,92.25 L207.56,91.37 L208.13,91.07 L208.71,91.47 L209.28,91.81 L209.86,90.89 L210.43,91.06 L211,90.87 L211.58,91.76 L212.15,90.75 L212.73,91.79 L213.3,91.27 L213.87,90.83 L214.45,91.84 L215.02,92.04 L215.6,91.83 L216.17,91.43 L216.74,91.74 L217.32,92.77 L217.89,92.62 L218.47,93.13 L219.04,93.63 L219.61,94.03 L220.19,94.82 L220.76,94.8 L221.34,95.19 L221.91,95.17 L222.48,96.23 L223.06,97.8 L223.63,97.92 L224.21,97.96 L224.78,98.56 L225.35,99.69 L225.93,99.68 L226.5,100.34 L227.07,100.89 L227.65,101.61 L228.22,102.03 L228.8,102.65 L229.37,103.73 L229.94,105.18 L230.52,106.02 L231.09,106.91 L231.67,107.7 L232.24,108.82 L232.81,109.83 L233.39,111.07 L233.96,111.55 L234.54,112.67 L235.11,113.74 L235.68,115.17 L236.26,116.12 L236.83,117.7 L237.41,118.9 L237.98,119.95 L238.55,120.8 L239.13,122.25 L239.7,123.78 L240.28,124.63 L240.85,125.78 L241.42,127.13 L242,128.66 L242.57,129.7 L243.14,131.11 L243.72,132.33 L244.29,133.48 L244.87,134.44 L245.44,135.32 L246.01,136.62 L246.59,138.12 L247.16,139.64 L247.74,140.8 L248.31,141.96 L248.88,142.67 L249.46,145.05 L250.03,145.22 L250.61,147.04 L251.18,147.5 L251.75,148.14 L252.33,149.88 L252.9,151.32 L253.48,151.19 L254.05,152.11 L254.62,153.39 L255.2,154.11 L255.77,155.7 L256.35,156.01 L256.92,156.76 L257.49,157.99 L258.07,159 L258.64,159.57 L259.22,160.5 L259.79,161.97 L260.36,162.17 L260.94,163.23 L261.51,164.27 L262.08,164.77 L262.66,165.74 L263.23,166.66 L263.81,167.91 L264.38,168.35 L264.95,169.82 L265.53,170.38 L266.1,171.76 L266.68,172.66 L267.25,172.89 L267.82,173.98 L268.4,174.85 L268.97,175.61 L269.55,176.6 L270.12,177.9 L270.69,178.5 L271.27,179.43 L271.84,180.44 L272.42,181.16 L272.99,182.06 L273.56,182.93 L274.14,183.59 L274.71,184.13 L275.29,184.24 L275.86,185.78 L276.43,185.96 L277.01,187.17 L277.58,186.79 L278.15,187.95 L278.73,188.35 L279.3,188.52 L279.88,189.13 L280.45,190.41 L281.02,190.26 L281.6,190.98 L282.17,191.18 L282.75,191.78 L283.32,192.03 L283.89,192.6 L284.47,193.15 L285.04,193.14 L285.62,194.39 L286.19,194.42 L286.76,194.95 L287.34,195.06 L287.91,195.5 L288.49,195.77 L289.06,196.22 L289.63,196.55 L290.21,197.25 L290.78,197.06 L291.36,197.27 L291.93,197.86 L292.5,198.17 L293.08,198.46 L293.65,198 L294.23,198.74 L294.8,198.94 L295.37,199.4 L295.95,199.7 L296.52,200.05 L297.09,199.5 L297.67,200.72 L298.24,200.29 L298.82,200.58 L299.39,200.85 L299.96,201.44 L300.54,201.52 L301.11,200.99 L301.69,201.69 L302.26,201.36 L302.83,201.59 L303.41,201.77 L303.98,201.86 L304.56,202.63 L305.13,202.54 L305.7,202.31 L306.28,203.06 L306.85,202.27 L307.43,203.09 L308,203.05 L308.57,203.47 L309.15,203.14 L309.72,203.59 L310.3,203.54 L310.87,203.93 L311.44,203.29 L312.02,204.28 L312.59,203.72 L313.16,203.88 L313.74,203.91 L314.31,204.46 L314.89,203.89 L315.46,204 L316.03,204.33 L316.61,204.36 L317.18,204.58 L317.76,204.4 L318.33,204.93 L318.9,204.56 L319.48,204.66 L320.05,205.29 L320.63,205.72 L321.2,204.98" fill="none" stroke="#e0a22a" stroke-width="1.5" stroke-linejoin="round"/>
<path d="M92.2,135.48 L92.77,134.75 L93.35,134.72 L93.92,134.4 L94.5,134.09 L95.07,133.03 L95.64,132.46 L96.22,131.84 L96.79,130.7 L97.37,129.45 L97.94,128.86 L98.51,128.29 L99.09,126.92 L99.66,126.35 L100.24,125.31 L100.81,123.32 L101.38,122.15 L101.96,119.98 L102.53,118.46 L103.1,116.93 L103.68,114.64 L104.25,112.24 L104.83,110.31 L105.4,107.83 L105.97,104.7 L106.55,101.63 L107.12,98.6 L107.7,95.6 L108.27,92.24 L108.84,89.51 L109.42,87.5 L109.99,84.63 L110.57,82.13 L111.14,79.54 L111.71,77.99 L112.29,76.18 L112.86,74.44 L113.44,73.48 L114.01,72.67 L114.58,71.65 L115.16,71.57 L115.73,70.86 L116.31,70.9 L116.88,70.52 L117.45,70.79 L118.03,71.1 L118.6,71.37 L119.17,72.02 L119.75,72.47 L120.32,73.17 L120.9,74.83 L121.47,75.07 L122.04,77.2 L122.62,77.85 L123.19,79.96 L123.77,83.3 L124.34,86.5 L124.91,90.2 L125.49,93.15 L126.06,97.92 L126.64,100.94 L127.21,105.14 L127.78,108.53 L128.36,112.37 L128.93,116.73 L129.51,121.62 L130.08,126.78 L130.65,132.19 L131.23,136.48 L131.8,141.16 L132.38,145.74 L132.95,150.16 L133.52,154.26 L134.1,157.84 L134.67,161.52 L135.25,164.56 L135.82,167.68 L136.39,168.94 L136.97,169.2 L137.54,170.33 L138.11,170.88 L138.69,172.2 L139.26,172.51 L139.84,172.94 L140.41,173.52 L140.98,173.93 L141.56,174.62 L142.13,173.81 L142.71,174.4 L143.28,174.94 L143.85,174.15 L144.43,174.48 L145,174.27 L145.58,174.55 L146.15,174.72 L146.72,174.69 L147.3,174.32 L147.87,174.15 L148.45,174.19 L149.02,174.09 L149.59,173.85 L150.17,174.05 L150.74,173.68 L151.32,173.43 L151.89,173.4 L152.46,173.17 L153.04,172.89 L153.61,172.7 L154.18,172.33 L154.76,170.93 L155.33,170.81 L155.91,170.44 L156.48,169.21 L157.05,168.84 L157.63,168.57 L158.2,167.72 L158.78,167.56 L159.35,166.81 L159.92,165.71 L160.5,165.26 L161.07,164.94 L161.65,163.86 L162.22,162.89 L162.79,162.44 L163.37,161.66 L163.94,160.03 L164.52,159.79 L165.09,159.18 L165.66,157.77 L166.24,156.09 L166.81,155.55 L167.39,154.32 L167.96,154.13 L168.53,152.4 L169.11,150.59 L169.68,149.81 L170.26,147.96 L170.83,146.9 L171.4,145.59 L171.98,143.85 L172.55,143.2 L173.12,141.85 L173.7,140.36 L174.27,139.02 L174.85,138.31 L175.42,136.04 L175.99,134.99 L176.57,133.72 L177.14,132.08 L177.72,130.99 L178.29,129.07 L178.86,128.02 L179.44,126.4 L180.01,125.5 L180.59,123.93 L181.16,122.36 L181.73,121.43 L182.31,120.04 L182.88,118.58 L183.46,116.99 L184.03,115.93 L184.6,114.77 L185.18,113.86 L185.75,112.56 L186.33,111.26 L186.9,110.6 L187.47,109.44 L188.05,108.32 L188.62,108.08 L189.19,106.44 L189.77,105.26 L190.34,104.12 L190.92,103.43 L191.49,102 L192.06,101.51 L192.64,100.38 L193.21,98.84 L193.79,98.87 L194.36,97.59 L194.93,96.78 L195.51,95.99 L196.08,95.41 L196.66,94.39 L197.23,94.32 L197.8,93.82 L198.38,92.72 L198.95,92.76 L199.53,91.84 L200.1,91.56 L200.67,91.42 L201.25,90.95 L201.82,90.51 L202.4,89.99 L202.97,89.99 L203.54,89.53 L204.12,89.6 L204.69,88.94 L205.27,89.17 L205.84,88.3 L206.41,88.18 L206.99,87.14 L207.56,87.17 L208.13,87.42 L208.71,86.9 L209.28,86.95 L209.86,87.27 L210.43,87.56 L211,86.36 L211.58,86.53 L212.15,87.24 L212.73,86.45 L213.3,86.42 L213.87,87.03 L214.45,86.72 L215.02,87.7 L215.6,87.45 L216.17,87.63 L216.74,87.68 L217.32,88.13 L217.89,88.53 L218.47,88.81 L219.04,89.59 L219.61,89.34 L220.19,90.35 L220.76,90.46 L221.34,91.18 L221.91,91.75 L222.48,91.98 L223.06,92.54 L223.63,92.77 L224.21,93.37 L224.78,94.41 L225.35,94.6 L225.93,95.26 L226.5,96.13 L227.07,96.87 L227.65,97.14 L228.22,98.14 L228.8,99.21 L229.37,99.64 L229.94,100.43 L230.52,101.39 L231.09,102.75 L231.67,103.55 L232.24,103.95 L232.81,105.67 L233.39,106.6 L233.96,106.86 L234.54,108.58 L235.11,109.96 L235.68,111.55 L236.26,111.98 L236.83,113.7 L237.41,114.52 L237.98,116.07 L238.55,117.63 L239.13,117.91 L239.7,119.81 L240.28,120.85 L240.85,122.29 L241.42,124.14 L242,125.26 L242.57,126.77 L243.14,127.7 L243.72,129.18 L244.29,130.71 L244.87,131.35 L245.44,132.97 L246.01,134.25 L246.59,135.89 L247.16,136.75 L247.74,138.57 L248.31,139.17 L248.88,140.81 L249.46,141.64 L250.03,142.94 L250.61,143.93 L251.18,145.01 L251.75,146.24 L252.33,147.32 L252.9,148.83 L253.48,150 L254.05,150.03 L254.62,151.25 L255.2,152.9 L255.77,152.82 L256.35,154.61 L256.92,155.18 L257.49,156.14 L258.07,157.17 L258.64,157.93 L259.22,159.46 L259.79,159.94 L260.36,160.9 L260.94,161.67 L261.51,162.66 L262.08,163.64 L262.66,164.53 L263.23,164.88 L263.81,166.28 L264.38,166.74 L264.95,167.59 L265.53,168.58 L266.1,169.27 L266.68,170.1 L267.25,171.31 L267.82,171.9 L268.4,172.28 L268.97,174.07 L269.55,174.67 L270.12,175.65 L270.69,175.59 L271.27,177.44 L271.84,177.75 L272.42,178.18 L272.99,179.43 L273.56,179.85 L274.14,180.64 L274.71,181.4 L275.29,181.51 L275.86,181.8 L276.43,182.51 L277.01,182.76 L277.58,183 L278.15,183.23 L278.73,184.39 L279.3,184.18 L279.88,184.94 L280.45,185.71 L281.02,185.72 L281.6,185.63 L282.17,186.08 L282.75,186.87 L283.32,186.36 L283.89,187.08 L284.47,187.56 L285.04,188.04 L285.62,188.07 L286.19,188.65 L286.76,188.49 L287.34,189.06 L287.91,189.28 L288.49,189.88 L289.06,190.56 L289.63,190.24 L290.21,191.03 L290.78,191.05 L291.36,191.31 L291.93,191.84 L292.5,191.6 L293.08,192.6 L293.65,191.95 L294.23,192.87 L294.8,192.63 L295.37,192.77 L295.95,193.68 L296.52,193.86 L297.09,193.54 L297.67,193.98 L298.24,194.21 L298.82,195 L299.39,195.13 L299.96,194.63 L300.54,194.53 L301.11,195.38 L301.69,195.6 L302.26,195.43 L302.83,195.51 L303.41,195.64 L303.98,196.11 L304.56,196.73 L305.13,195.81 L305.7,196.56 L306.28,196.15 L306.85,197.29 L307.43,196.68 L308,197.07 L308.57,197.37 L309.15,196.84 L309.72,196.85 L310.3,197.54 L310.87,197.25 L311.44,197.89 L312.02,197.85 L312.59,197.83 L313.16,197.95 L313.74,197.74 L314.31,198.4 L314.89,197.81 L315.46,197.89 L316.03,198.34 L316.61,198.72 L317.18,199.17 L317.76,198.51 L318.33,198.78 L318.9,198.59 L319.48,199.01 L320.05,198.73 L320.63,198.8 L321.2,198.82" fill="none" stroke="#22c3cc" stroke-width="1.5" stroke-linejoin="round"/>
<path d="M92.2,132.1 L92.77,131.85 L93.35,131.27 L93.92,131.34 L94.5,130.3 L95.07,129.82 L95.64,129.27 L96.22,128.66 L96.79,127.04 L97.37,126.54 L97.94,125.85 L98.51,124.72 L99.09,123.79 L99.66,122.9 L100.24,121.93 L100.81,120.06 L101.38,118.59 L101.96,116.91 L102.53,114.66 L103.1,113.4 L103.68,111.22 L104.25,108.71 L104.83,105.97 L105.4,103.11 L105.97,99.87 L106.55,97.43 L107.12,93.22 L107.7,89.97 L108.27,86.84 L108.84,84.55 L109.42,81.47 L109.99,78.57 L110.57,75.68 L111.14,73.51 L111.71,71.64 L112.29,69.14 L112.86,67.29 L113.44,66.14 L114.01,64.85 L114.58,64.7 L115.16,64.24 L115.73,63.55 L116.31,62.76 L116.88,63.07 L117.45,63.26 L118.03,63.5 L118.6,63.33 L119.17,64.27 L119.75,65.22 L120.32,65.76 L120.9,66.83 L121.47,68.47 L122.04,69.13 L122.62,70.87 L123.19,74.04 L123.77,76.94 L124.34,80.11 L124.91,83.87 L125.49,87.89 L126.06,91.89 L126.64,95.53 L127.21,100.41 L127.78,104.08 L128.36,108.87 L128.93,113.55 L129.51,118.92 L130.08,123.97 L130.65,130.55 L131.23,135.5 L131.8,139.99 L132.38,144.94 L132.95,149 L133.52,154.09 L134.1,159.02 L134.67,162.58 L135.25,166.46 L135.82,168.91 L136.39,170.86 L136.97,171.8 L137.54,172.29 L138.11,173.32 L138.69,174.37 L139.26,175.13 L139.84,175.3 L140.41,175.53 L140.98,176.84 L141.56,176.77 L142.13,178.21 L142.71,177.96 L143.28,177.46 L143.85,177.29 L144.43,177.87 L145,177.82 L145.58,177.99 L146.15,177.84 L146.72,178.57 L147.3,178.09 L147.87,178.48 L148.45,178.49 L149.02,178.41 L149.59,178.49 L150.17,178.65 L150.74,178.42 L151.32,178.48 L151.89,177.5 L152.46,177.45 L153.04,177.45 L153.61,176.43 L154.18,176.09 L154.76,175.87 L155.33,175.68 L155.91,174.9 L156.48,174.26 L157.05,173.45 L157.63,173.38 L158.2,172.95 L158.78,171.51 L159.35,171.2 L159.92,170.89 L160.5,170.57 L161.07,169.39 L161.65,168.4 L162.22,167.68 L162.79,166.79 L163.37,166.13 L163.94,164.86 L164.52,164.45 L165.09,163.42 L165.66,162.44 L166.24,161.42 L166.81,159.47 L167.39,159.39 L167.96,157.51 L168.53,156.56 L169.11,155.27 L169.68,153.43 L170.26,152.51 L170.83,150.58 L171.4,148.36 L171.98,147.63 L172.55,145.98 L173.12,144.93 L173.7,143.08 L174.27,142.28 L174.85,140.32 L175.42,138.95 L175.99,136.73 L176.57,135.91 L177.14,134.45 L177.72,132.96 L178.29,131.61 L178.86,129.45 L179.44,127.7 L180.01,126.75 L180.59,124.93 L181.16,123.82 L181.73,122.18 L182.31,120.82 L182.88,120.12 L183.46,118.7 L184.03,117.03 L184.6,116.86 L185.18,115.22 L185.75,114.3 L186.33,113.46 L186.9,112.14 L187.47,111.06 L188.05,110 L188.62,110.03 L189.19,107.74 L189.77,107.5 L190.34,106.12 L190.92,105.61 L191.49,104.91 L192.06,103.94 L192.64,102.15 L193.21,101.92 L193.79,101.84 L194.36,101.02 L194.93,100.16 L195.51,99.81 L196.08,99.52 L196.66,99.21 L197.23,99.12 L197.8,98.19 L198.38,97.75 L198.95,97.08 L199.53,97.67 L200.1,97.02 L200.67,96.98 L201.25,96.32 L201.82,96.5 L202.4,96.44 L202.97,96.54 L203.54,95.57 L204.12,95.53 L204.69,95.03 L205.27,95.37 L205.84,94.2 L206.41,95.08 L206.99,94.54 L207.56,94.44 L208.13,94.09 L208.71,94.38 L209.28,94.53 L209.86,94.47 L210.43,93.84 L211,94.02 L211.58,93.91 L212.15,94.27 L212.73,94 L213.3,94.05 L213.87,94.05 L214.45,94.86 L215.02,94.84 L215.6,94.29 L216.17,95.23 L216.74,95.44 L217.32,95.87 L217.89,96.57 L218.47,96.82 L219.04,96.77 L219.61,97.53 L220.19,97.13 L220.76,98.7 L221.34,99.32 L221.91,99.32 L222.48,100.08 L223.06,99.78 L223.63,100.86 L224.21,101.09 L224.78,102.22 L225.35,102.08 L225.93,102.62 L226.5,103.02 L227.07,103.98 L227.65,104.59 L228.22,105.44 L228.8,106 L229.37,107.25 L229.94,107.83 L230.52,109.09 L231.09,109.64 L231.67,110.93 L232.24,112.05 L232.81,113.08 L233.39,113.45 L233.96,115.47 L234.54,116.52 L235.11,116.94 L235.68,118.55 L236.26,119.47 L236.83,120.6 L237.41,120.85 L237.98,122.91 L238.55,124.06 L239.13,125.09 L239.7,126.01 L240.28,127.07 L240.85,128.86 L241.42,129.44 L242,130.15 L242.57,132.53 L243.14,132.98 L243.72,134.11 L244.29,135.49 L244.87,136.78 L245.44,138.65 L246.01,138.71 L246.59,140.37 L247.16,141.5 L247.74,142.2 L248.31,144.47 L248.88,144.89 L249.46,145.8 L250.03,146.86 L250.61,147.97 L251.18,148.57 L251.75,150.15 L252.33,150.92 L252.9,151.98 L253.48,153.65 L254.05,154.37 L254.62,154.4 L255.2,156.06 L255.77,156.9 L256.35,158.18 L256.92,158.75 L257.49,159.93 L258.07,160.57 L258.64,161.05 L259.22,162.34 L259.79,163.11 L260.36,163.32 L260.94,164.43 L261.51,165.24 L262.08,165.91 L262.66,167.22 L263.23,168 L263.81,169.35 L264.38,169.3 L264.95,170.43 L265.53,171.2 L266.1,172.39 L266.68,172.72 L267.25,173.59 L267.82,174.61 L268.4,176.05 L268.97,176.7 L269.55,177.33 L270.12,178.45 L270.69,178.93 L271.27,179.58 L271.84,180.97 L272.42,181.6 L272.99,182.55 L273.56,182.77 L274.14,183.55 L274.71,183.69 L275.29,185.19 L275.86,186.1 L276.43,186.27 L277.01,187.05 L277.58,187.48 L278.15,187.7 L278.73,188.72 L279.3,188.92 L279.88,190.33 L280.45,189.83 L281.02,190.6 L281.6,191.19 L282.17,191.73 L282.75,191.58 L283.32,192.62 L283.89,192.48 L284.47,193.45 L285.04,193.68 L285.62,193.97 L286.19,193.82 L286.76,194.74 L287.34,195.11 L287.91,195.55 L288.49,195.97 L289.06,196.41 L289.63,195.98 L290.21,196.41 L290.78,197.41 L291.36,197.45 L291.93,198.18 L292.5,197.8 L293.08,198.17 L293.65,198.63 L294.23,199.18 L294.8,198.94 L295.37,199.23 L295.95,199.72 L296.52,199.65 L297.09,200.52 L297.67,200.48 L298.24,200.79 L298.82,200.64 L299.39,200.34 L299.96,201.03 L300.54,200.86 L301.11,201.4 L301.69,201.69 L302.26,201.4 L302.83,201.71 L303.41,201.58 L303.98,201.87 L304.56,202.58 L305.13,203.26 L305.7,202.55 L306.28,203.1 L306.85,203.3 L307.43,203.44 L308,203.29 L308.57,203.27 L309.15,203.31 L309.72,202.77 L310.3,203.9 L310.87,203.63 L311.44,204.11 L312.02,204.13 L312.59,203.89 L313.16,203.87 L313.74,204.5 L314.31,203.83 L314.89,204.56 L315.46,204.05 L316.03,204.45 L316.61,204.23 L317.18,204.41 L317.76,204.75 L318.33,204.57 L318.9,205.21 L319.48,205.26 L320.05,205.01 L320.63,204.52 L321.2,205.24" fill="none" stroke="#8a3f6a" stroke-width="1.5" stroke-linejoin="round"/>
<path d="M92.2,117.59 L92.77,116.79 L93.35,117.06 L93.92,116.68 L94.5,116.49 L95.07,115.5 L95.64,114.59 L96.22,113.96 L96.79,112.8 L97.37,111.97 L97.94,110.74 L98.51,109.76 L99.09,109.01 L99.66,107.5 L100.24,105.76 L100.81,104.57 L101.38,103.19 L101.96,100.68 L102.53,98.58 L103.1,95.32 L103.68,93.39 L104.25,91.33 L104.83,87.86 L105.4,83.6 L105.97,80.29 L106.55,75.7 L107.12,71.1 L107.7,66.79 L108.27,62.83 L108.84,58.89 L109.42,55.64 L109.99,51.52 L110.57,47.69 L111.14,43.9 L111.71,40.47 L112.29,37.36 L112.86,34.97 L113.44,33.16 L114.01,31.55 L114.58,30.09 L115.16,28.92 L115.73,28.65 L116.31,27.56 L116.88,27.09 L117.45,27.48 L118.03,27.58 L118.6,28.36 L119.17,28.97 L119.75,30.55 L120.32,31.1 L120.9,32.72 L121.47,34.25 L122.04,35.69 L122.62,37.31 L123.19,40.58 L123.77,45 L124.34,49.59 L124.91,55.03 L125.49,60.24 L126.06,65.38 L126.64,70.07 L127.21,75.66 L127.78,81.41 L128.36,87.44 L128.93,93.35 L129.51,100.96 L130.08,108.36 L130.65,115.08 L131.23,122.75 L131.8,129.79 L132.38,136.48 L132.95,142.52 L133.52,148.82 L134.1,154.9 L134.67,160.4 L135.25,165.23 L135.82,168.31 L136.39,171.06 L136.97,171.89 L137.54,173.02 L138.11,173.48 L138.69,174.49 L139.26,175.03 L139.84,175.89 L140.41,175.28 L140.98,176.69 L141.56,177.51 L142.13,177.55 L142.71,177.85 L143.28,177.58 L143.85,177.59 L144.43,177.85 L145,178.09 L145.58,178.3 L146.15,177.64 L146.72,177.84 L147.3,179.15 L147.87,178.24 L148.45,178.55 L149.02,178.42 L149.59,177.77 L150.17,178.65 L150.74,178.55 L151.32,177.3 L151.89,178.01 L152.46,177.65 L153.04,176.89 L153.61,177.03 L154.18,176.44 L154.76,175.92 L155.33,175.07 L155.91,175.52 L156.48,174.75 L157.05,174 L157.63,173.14 L158.2,173.1 L158.78,172.23 L159.35,171.98 L159.92,171.34 L160.5,170.16 L161.07,169.94 L161.65,168.2 L162.22,168.24 L162.79,167.19 L163.37,166.46 L163.94,166.3 L164.52,165.38 L165.09,163.79 L165.66,163.31 L166.24,162.08 L166.81,160.86 L167.39,159.82 L167.96,157.85 L168.53,156.62 L169.11,155.4 L169.68,153.83 L170.26,152.81 L170.83,150.75 L171.4,149.78 L171.98,147.51 L172.55,146.71 L173.12,145.2 L173.7,143.2 L174.27,141.95 L174.85,141 L175.42,139.02 L175.99,137.68 L176.57,136.12 L177.14,134.35 L177.72,132.77 L178.29,131.06 L178.86,129.65 L179.44,128.14 L180.01,126.74 L180.59,124.75 L181.16,124.01 L181.73,121.77 L182.31,120.35 L182.88,119.1 L183.46,118.65 L184.03,116.85 L184.6,116.16 L185.18,115.21 L185.75,113.54 L186.33,113.56 L186.9,112.49 L187.47,112.13 L188.05,111.52 L188.62,109.83 L189.19,108.92 L189.77,107.99 L190.34,107.31 L190.92,107.26 L191.49,105.77 L192.06,104.84 L192.64,104.05 L193.21,104.24 L193.79,103.68 L194.36,103.12 L194.93,102.67 L195.51,102.61 L196.08,102 L196.66,101.04 L197.23,101.64 L197.8,101.67 L198.38,100.95 L198.95,100.81 L199.53,100.23 L200.1,100.47 L200.67,100.1 L201.25,100.12 L201.82,99.98 L202.4,99.38 L202.97,99.3 L203.54,99.19 L204.12,98.86 L204.69,99.15 L205.27,98.75 L205.84,98.57 L206.41,98.14 L206.99,99.01 L207.56,98.43 L208.13,98.1 L208.71,98.35 L209.28,98.08 L209.86,97.84 L210.43,97.87 L211,98.54 L211.58,98.36 L212.15,98.87 L212.73,97.82 L213.3,98.04 L213.87,97.81 L214.45,98.39 L215.02,98.97 L215.6,98.51 L216.17,99.54 L216.74,99.43 L217.32,99.83 L217.89,99.88 L218.47,100.23 L219.04,101.06 L219.61,101.59 L220.19,101.83 L220.76,102.46 L221.34,102.46 L221.91,103.13 L222.48,103.31 L223.06,103.44 L223.63,105.06 L224.21,105.49 L224.78,105.67 L225.35,106.22 L225.93,106.99 L226.5,108 L227.07,107.3 L227.65,108.77 L228.22,109.91 L228.8,111.09 L229.37,110.72 L229.94,111.93 L230.52,112.94 L231.09,114.22 L231.67,114.89 L232.24,115.97 L232.81,117.66 L233.39,117.06 L233.96,118.81 L234.54,120.12 L235.11,121.39 L235.68,122.35 L236.26,122.46 L236.83,124.17 L237.41,125.78 L237.98,126.13 L238.55,127.29 L239.13,128.31 L239.7,129.52 L240.28,130.56 L240.85,131.49 L241.42,132.69 L242,134.16 L242.57,135.14 L243.14,135.93 L243.72,137.57 L244.29,138.24 L244.87,139.43 L245.44,140.24 L246.01,141.56 L246.59,142.84 L247.16,143.97 L247.74,144.86 L248.31,145.81 L248.88,147.54 L249.46,148.77 L250.03,149.58 L250.61,151.12 L251.18,151.65 L251.75,152.12 L252.33,153.04 L252.9,153.79 L253.48,155.17 L254.05,156.04 L254.62,157.16 L255.2,158.01 L255.77,158.61 L256.35,159.25 L256.92,160.24 L257.49,161.84 L258.07,161.86 L258.64,162.82 L259.22,163.81 L259.79,164.37 L260.36,164.93 L260.94,165.95 L261.51,167.01 L262.08,166.5 L262.66,168.55 L263.23,168.98 L263.81,169.52 L264.38,170.98 L264.95,171.32 L265.53,172.56 L266.1,173.18 L266.68,174.16 L267.25,174.19 L267.82,176.02 L268.4,176.25 L268.97,177.24 L269.55,178.71 L270.12,178.36 L270.69,179.91 L271.27,180.62 L271.84,181.26 L272.42,182.38 L272.99,183.09 L273.56,183.59 L274.14,184.55 L274.71,184.91 L275.29,185.18 L275.86,186.5 L276.43,187.26 L277.01,187.36 L277.58,187.75 L278.15,188.2 L278.73,189.29 L279.3,190.2 L279.88,189.68 L280.45,190.22 L281.02,190.44 L281.6,191.69 L282.17,191.66 L282.75,191.96 L283.32,193.3 L283.89,192.8 L284.47,193.09 L285.04,193.75 L285.62,194.15 L286.19,194.46 L286.76,195.14 L287.34,195.86 L287.91,196.05 L288.49,196.15 L289.06,196.7 L289.63,196.43 L290.21,197.21 L290.78,197.43 L291.36,198.26 L291.93,197.88 L292.5,198.51 L293.08,198.09 L293.65,199.39 L294.23,199 L294.8,199.49 L295.37,199.71 L295.95,199.29 L296.52,199.75 L297.09,200.53 L297.67,200.01 L298.24,200.85 L298.82,200.58 L299.39,201.56 L299.96,201.29 L300.54,201.45 L301.11,201.63 L301.69,202.19 L302.26,202.44 L302.83,202 L303.41,201.95 L303.98,202.28 L304.56,202.53 L305.13,203.04 L305.7,202.78 L306.28,203 L306.85,203.17 L307.43,203.01 L308,203.12 L308.57,203.16 L309.15,203.48 L309.72,203.76 L310.3,203.67 L310.87,203.8 L311.44,204.32 L312.02,204.01 L312.59,204.52 L313.16,204.71 L313.74,204.44 L314.31,204.47 L314.89,204.13 L315.46,204.53 L316.03,204.34 L316.61,204.13 L317.18,204.62 L317.76,204.61 L318.33,205.02 L318.9,204.61 L319.48,204.91 L320.05,204.96 L320.63,205.39 L321.2,205.38" fill="none" stroke="#a3a52a" stroke-width="1.5" stroke-linejoin="round"/>
<line x1="92.2" y1="23" x2="92.2" y2="208.8" stroke="#111" stroke-width="2.2"/>
<line x1="91.1" y1="207.7" x2="321.5" y2="207.7" stroke="#111" stroke-width="2.2"/>
<line x1="92.2" y1="207.7" x2="92.2" y2="211.3" stroke="#111" stroke-width="1.4"/>
<line x1="138" y1="207.7" x2="138" y2="211.3" stroke="#111" stroke-width="1.4"/>
<line x1="183.8" y1="207.7" x2="183.8" y2="211.3" stroke="#111" stroke-width="1.4"/>
<line x1="229.6" y1="207.7" x2="229.6" y2="211.3" stroke="#111" stroke-width="1.4"/>
<line x1="275.4" y1="207.7" x2="275.4" y2="211.3" stroke="#111" stroke-width="1.4"/>
<line x1="321.2" y1="207.7" x2="321.2" y2="211.3" stroke="#111" stroke-width="1.4"/>
<line x1="115.1" y1="207.7" x2="115.1" y2="210.3" stroke="#111" stroke-width="1.26"/>
<line x1="160.9" y1="207.7" x2="160.9" y2="210.3" stroke="#111" stroke-width="1.26"/>
<line x1="206.7" y1="207.7" x2="206.7" y2="210.3" stroke="#111" stroke-width="1.26"/>
<line x1="252.5" y1="207.7" x2="252.5" y2="210.3" stroke="#111" stroke-width="1.26"/>
<line x1="298.3" y1="207.7" x2="298.3" y2="210.3" stroke="#111" stroke-width="1.26"/>
<line x1="92.2" y1="207.7" x2="88.6" y2="207.7" stroke="#111" stroke-width="1.4"/>
<line x1="92.2" y1="155.2" x2="88.6" y2="155.2" stroke="#111" stroke-width="1.4"/>
<line x1="92.2" y1="102.7" x2="88.6" y2="102.7" stroke="#111" stroke-width="1.4"/>
<line x1="92.2" y1="50.2" x2="88.6" y2="50.2" stroke="#111" stroke-width="1.4"/>
<line x1="92.2" y1="181.45" x2="89.6" y2="181.45" stroke="#111" stroke-width="1.26"/>
<line x1="92.2" y1="128.95" x2="89.6" y2="128.95" stroke="#111" stroke-width="1.26"/>
<line x1="92.2" y1="76.45" x2="89.6" y2="76.45" stroke="#111" stroke-width="1.26"/>
<line x1="92.2" y1="23.95" x2="89.6" y2="23.95" stroke="#111" stroke-width="1.26"/>
<text x="85.5" y="212.3" font-size="15.6" text-anchor="end" >0.0</text>
<text x="85.5" y="159.8" font-size="15.6" text-anchor="end" >0.1</text>
<text x="85.5" y="107.3" font-size="15.6" text-anchor="end" >0.2</text>
<text x="85.5" y="54.8" font-size="15.6" text-anchor="end" >0.3</text>
<text x="92.2" y="226.3" font-size="15.6" text-anchor="middle" >300</text>
<text x="138" y="226.3" font-size="15.6" text-anchor="middle" >400</text>
<text x="183.8" y="226.3" font-size="15.6" text-anchor="middle" >500</text>
<text x="229.6" y="226.3" font-size="15.6" text-anchor="middle" >600</text>
<text x="275.4" y="226.3" font-size="15.6" text-anchor="middle" >700</text>
<text x="321.2" y="226.3" font-size="15.6" text-anchor="middle" >800</text>
<text x="207" y="255.2" font-size="20.7" text-anchor="middle" >Wavelength (nm)</text>
<text transform="translate(57.9,115.8) rotate(-90)" font-size="20.7" text-anchor="middle">Abs</text>
<text x="4" y="27.5" font-size="23.5" text-anchor="start" >(A)</text>
<text x="260" y="51.9" font-size="21.4" text-anchor="start" >0 µmol/L</text>
<text x="269" y="103.3" font-size="21.5" text-anchor="start" >+ONOO<tspan font-size="15" dy="-3">-</tspan></text>
<text x="256" y="152.9" font-size="21.2" text-anchor="start" >63 µmol/L</text>
<line x1="264.8" y1="61.6" x2="264.8" y2="127" stroke="#111" stroke-width="1.8"/>
<path d="M260.5,120 L264.8,128.3 L269.1,120" fill="none" stroke="#111" stroke-width="1.8"/>
<path d="M437,150.34 L437.57,150.52 L438.14,150.58 L438.71,151.56 L439.29,151.46 L439.86,151.6 L440.43,150.99 L441,151.71 L441.57,151.8 L442.14,151.4 L442.71,151.8 L443.29,151.21 L443.86,151.63 L444.43,150.39 L445,150.69 L445.57,150.49 L446.14,150.4 L446.71,149.71 L447.29,149.25 L447.86,149.04 L448.43,148.06 L449,148 L449.57,147.3 L450.14,146.42 L450.71,145.13 L451.29,144.52 L451.86,143.29 L452.43,142.2 L453,141.23 L453.57,141.22 L454.14,139.79 L454.71,139.54 L455.29,139.15 L455.86,138.45 L456.43,138.51 L457,137.82 L457.57,137.27 L458.14,136.77 L458.71,137.08 L459.29,136.96 L459.86,137.23 L460.43,137.06 L461,137.61 L461.57,137.65 L462.14,138.18 L462.71,138.7 L463.29,139.1 L463.86,139.42 L464.43,139.35 L465,139.24 L465.57,140.61 L466.14,141.2 L466.71,141.31 L467.29,141.9 L467.86,142.85 L468.43,142.96 L469,144.1 L469.57,145 L470.14,146.22 L470.71,147.21 L471.29,148.02 L471.86,149.71 L472.43,150.6 L473,151.38 L473.57,152.8 L474.14,152.9 L474.71,154.41 L475.29,155.17 L475.86,155.68 L476.43,156.02 L477,157.1 L477.57,157.94 L478.14,158.63 L478.71,158.93 L479.29,159.75 L479.86,159.51 L480.43,160.35 L481,162.05 L481.57,161.88 L482.14,161.92 L482.71,161.71 L483.29,163.15 L483.86,162.91 L484.43,162.56 L485,163.11 L485.57,162.83 L486.14,162.87 L486.71,162.39 L487.29,162.67 L487.86,162.11 L488.43,162.23 L489,161.24 L489.57,160.98 L490.14,160.75 L490.71,160.29 L491.29,159.8 L491.86,159.38 L492.43,158.67 L493,158 L493.57,157.46 L494.14,156.9 L494.71,156.1 L495.29,155.32 L495.86,154.23 L496.43,153.43 L497,152.01 L497.57,151.62 L498.14,150.53 L498.71,149.66 L499.29,148.37 L499.86,147.39 L500.43,146.33 L501,144.84 L501.57,143.2 L502.14,142.59 L502.71,141.21 L503.29,139.68 L503.86,138.2 L504.43,136.47 L505,135.53 L505.57,133.87 L506.14,132.5 L506.71,130.94 L507.29,129.2 L507.86,127.72 L508.43,125.6 L509,123.7 L509.57,122.37 L510.14,120.63 L510.71,118.25 L511.29,116.82 L511.86,114.47 L512.43,113.76 L513,111.08 L513.57,109.35 L514.14,107.24 L514.71,104.88 L515.29,102.8 L515.86,101.12 L516.43,98.8 L517,97.34 L517.57,94.94 L518.14,93.03 L518.71,91.44 L519.29,88.71 L519.86,87.14 L520.43,84.85 L521,83.2 L521.57,80.98 L522.14,78.93 L522.71,77.18 L523.29,75.42 L523.86,73.26 L524.43,71.53 L525,69.91 L525.57,68.02 L526.14,66.33 L526.71,64.71 L527.29,62.73 L527.86,60.91 L528.43,59.99 L529,58.39 L529.57,57.17 L530.14,55.89 L530.71,53.87 L531.29,53.08 L531.86,51.57 L532.43,50.87 L533,49.56 L533.57,48.21 L534.14,47.23 L534.71,46.38 L535.29,45.49 L535.86,44.77 L536.43,43.87 L537,43.06 L537.57,42.83 L538.14,42.55 L538.71,42.42 L539.29,41.97 L539.86,41.71 L540.43,41.1 L541,41.87 L541.57,41.69 L542.14,41.84 L542.71,41.48 L543.29,42.14 L543.86,42.75 L544.43,43.17 L545,42.95 L545.57,43.97 L546.14,43.78 L546.71,44.4 L547.29,45.66 L547.86,46.17 L548.43,46.85 L549,48.09 L549.57,48.9 L550.14,49.67 L550.71,50.48 L551.29,51.42 L551.86,53.07 L552.43,53.6 L553,54.84 L553.57,56.07 L554.14,57.34 L554.72,58.19 L555.29,59.33 L555.86,61.2 L556.43,62.47 L557,64.23 L557.57,65.31 L558.14,66.43 L558.72,68.09 L559.29,69.43 L559.86,71.03 L560.43,72.47 L561,73.83 L561.57,75.32 L562.14,77.6 L562.72,78.67 L563.29,80.97 L563.86,81.74 L564.43,83.48 L565,85.09 L565.57,86.11 L566.14,88.05 L566.72,89.47 L567.29,91.23 L567.86,92.58 L568.43,94.74 L569,96.38 L569.57,97.97 L570.14,98.92 L570.72,101.34 L571.29,102.85 L571.86,104.11 L572.43,105.85 L573,107.86 L573.57,108.86 L574.14,110.81 L574.72,112.14 L575.29,113.95 L575.86,115.48 L576.43,117.46 L577,118.41 L577.57,120.53 L578.14,121.84 L578.72,123.07 L579.29,124.96 L579.86,126.31 L580.43,127.8 L581,129.21 L581.57,130.52 L582.14,132.51 L582.72,133.65 L583.29,134.34 L583.86,136.82 L584.43,137.82 L585,138.78 L585.57,140.84 L586.14,141.89 L586.72,143.18 L587.29,143.82 L587.86,145.76 L588.43,146.6 L589,148.19 L589.57,149.23 L590.14,150.75 L590.72,152.02 L591.29,152.92 L591.86,154.31 L592.43,155.11 L593,156.14 L593.57,157.16 L594.14,157.92 L594.72,159.01 L595.29,160.73 L595.86,161.65 L596.43,161.97 L597,163.42 L597.57,164.47 L598.14,165 L598.72,166.38 L599.29,166.84 L599.86,168.05 L600.43,168.47 L601,169.71 L601.57,170.27 L602.14,171.01 L602.72,171.65 L603.29,173.08 L603.86,173.73 L604.43,174.76 L605,175.58 L605.57,175.96 L606.14,176.48 L606.72,176.86 L607.29,177.99 L607.86,178.01 L608.43,179.13 L609,179.57 L609.57,180.49 L610.14,181.37 L610.72,181.18 L611.29,182.27 L611.86,182.45 L612.43,183.4 L613,183.67 L613.57,184.4 L614.14,184.96 L614.72,185.41 L615.29,185.66 L615.86,186.65 L616.43,187.05 L617,186.97 L617.57,187.87 L618.14,188.05 L618.72,188.89 L619.29,188.98 L619.86,189.02 L620.43,189.69 L621,190.03 L621.57,190.57 L622.14,190.8 L622.72,191.66 L623.29,191.97 L623.86,191.75 L624.43,192.67 L625,192.15 L625.57,192.59 L626.14,193.46 L626.72,194.02 L627.29,194.38 L627.86,193.92 L628.43,194.3 L629,194.18 L629.57,194.68 L630.14,194.64 L630.72,195.07 L631.29,195.81 L631.86,195.84 L632.43,196.25 L633,196.32 L633.57,196.59 L634.14,196.73 L634.72,196.49 L635.29,197.22 L635.86,197.58 L636.43,197.61 L637,197.75 L637.57,197.96 L638.14,198.01 L638.72,198.25 L639.29,197.98 L639.86,198.19 L640.43,198.8 L641,198.47 L641.57,198.5 L642.14,199.02 L642.72,199.39 L643.29,199.17 L643.86,199.44 L644.43,199.45 L645,199.95 L645.57,199.2 L646.14,199.95 L646.72,199.86 L647.29,200.28 L647.86,200.18 L648.43,200.95 L649,200.78 L649.57,201.2 L650.14,200.36 L650.72,201.1 L651.29,201.24 L651.86,200.6 L652.43,201.14 L653,201.14 L653.57,200.88 L654.14,201.13 L654.72,201.26 L655.29,201.25 L655.86,202.04 L656.43,201.23 L657,201.3 L657.57,201.23 L658.14,202.38 L658.72,202.11 L659.29,202.1 L659.86,201.55 L660.43,201.93 L661,201.67 L661.57,202.09 L662.14,202.45 L662.72,202.69 L663.29,202.56 L663.86,202.08 L664.43,202.75 L665,203.06" fill="none" stroke="#3a3a3a" stroke-width="1.25" stroke-linejoin="round"/>
<path d="M437,150.06 L437.57,150.16 L438.14,150.2 L438.71,150.79 L439.29,151.08 L439.86,151.99 L440.43,151.7 L441,151.75 L441.57,151.6 L442.14,151.84 L442.71,151.27 L443.29,151 L443.86,151.13 L444.43,151.01 L445,150.61 L445.57,150.26 L446.14,149.81 L446.71,149.89 L447.29,148.86 L447.86,148.82 L448.43,148.43 L449,147.71 L449.57,147.51 L450.14,146.25 L450.71,144.91 L451.29,144.29 L451.86,143.25 L452.43,142.41 L453,140.98 L453.57,140.4 L454.14,140.52 L454.71,139.24 L455.29,139.14 L455.86,138.77 L456.43,138.01 L457,137.8 L457.57,137.02 L458.14,137.5 L458.71,137.43 L459.29,137.34 L459.86,137.2 L460.43,137.15 L461,137.83 L461.57,138 L462.14,138.55 L462.71,138.53 L463.29,139.14 L463.86,138.68 L464.43,139.19 L465,140.42 L465.57,140.57 L466.14,140.94 L466.71,141.67 L467.29,142.2 L467.86,142.61 L468.43,143.64 L469,144.5 L469.57,145.36 L470.14,145.99 L470.71,147.43 L471.29,148.29 L471.86,149.39 L472.43,150.32 L473,151.6 L473.57,152.69 L474.14,153.7 L474.71,154.35 L475.29,155.2 L475.86,156.04 L476.43,156.58 L477,156.67 L477.57,157.76 L478.14,159.14 L478.71,158.92 L479.29,159.85 L479.86,160.75 L480.43,160.66 L481,161.56 L481.57,161.73 L482.14,162.58 L482.71,162.48 L483.29,163.13 L483.86,163.01 L484.43,163.18 L485,163.77 L485.57,163.32 L486.14,163.21 L486.71,163.23 L487.29,163.53 L487.86,162.76 L488.43,162.68 L489,161.98 L489.57,162.28 L490.14,161.36 L490.71,161.19 L491.29,160.1 L491.86,160.59 L492.43,159.54 L493,159.38 L493.57,158.9 L494.14,157.7 L494.71,157.14 L495.29,156.29 L495.86,156.25 L496.43,155.32 L497,153.97 L497.57,153.46 L498.14,151.92 L498.71,150.85 L499.29,150.32 L499.86,149.23 L500.43,148.14 L501,147.11 L501.57,145.88 L502.14,144.74 L502.71,143.33 L503.29,142.27 L503.86,141.02 L504.43,139.62 L505,138.33 L505.57,136.78 L506.14,135.16 L506.71,133.27 L507.29,132.76 L507.86,131.15 L508.43,129.21 L509,127.57 L509.57,125.95 L510.14,123.75 L510.71,123.06 L511.29,120.87 L511.86,119.42 L512.43,117.37 L513,115.33 L513.57,114.04 L514.14,111.51 L514.71,110.16 L515.29,108.34 L515.86,106.62 L516.43,104.47 L517,102.59 L517.57,100.26 L518.14,99.03 L518.71,96.65 L519.29,94.6 L519.86,93.03 L520.43,90.89 L521,89.44 L521.57,87.31 L522.14,85.7 L522.71,83.22 L523.29,82.12 L523.86,80.38 L524.43,78.48 L525,77.05 L525.57,75.31 L526.14,73.55 L526.71,71.83 L527.29,70.7 L527.86,69.03 L528.43,67.65 L529,66.02 L529.57,64.64 L530.14,63.45 L530.71,62.24 L531.29,60.61 L531.86,60.19 L532.43,58.4 L533,57.66 L533.57,57.25 L534.14,55.87 L534.71,55.44 L535.29,54.29 L535.86,54.09 L536.43,52.68 L537,52.52 L537.57,51.34 L538.14,51.55 L538.71,50.98 L539.29,51.08 L539.86,50.54 L540.43,50.37 L541,50.19 L541.57,49.67 L542.14,49.98 L542.71,50.37 L543.29,50.88 L543.86,51.15 L544.43,51.5 L545,52.04 L545.57,52.09 L546.14,52.8 L546.71,53.21 L547.29,54.05 L547.86,54.56 L548.43,54.91 L549,56.07 L549.57,56.74 L550.14,58.1 L550.71,58.83 L551.29,59.85 L551.86,60.61 L552.43,61.71 L553,63.05 L553.57,63.88 L554.14,65.09 L554.72,66.74 L555.29,67.53 L555.86,68.43 L556.43,70.27 L557,71.02 L557.57,72.44 L558.14,73.92 L558.72,75.2 L559.29,76.92 L559.86,77.9 L560.43,79.89 L561,81.22 L561.57,82.2 L562.14,84.09 L562.72,84.7 L563.29,86.62 L563.86,87.94 L564.43,89.42 L565,91.3 L565.57,92.7 L566.14,94.09 L566.72,95.75 L567.29,96.85 L567.86,98.54 L568.43,100.3 L569,101.56 L569.57,103.43 L570.14,104.78 L570.72,106.49 L571.29,108.15 L571.86,109.87 L572.43,111.34 L573,112.65 L573.57,114.07 L574.14,116.28 L574.72,117.32 L575.29,118.54 L575.86,120.23 L576.43,121.96 L577,123.4 L577.57,124.11 L578.14,126.45 L578.72,127.53 L579.29,128.62 L579.86,130.79 L580.43,131.44 L581,133.41 L581.57,134.06 L582.14,134.95 L582.72,137.35 L583.29,138.34 L583.86,139.52 L584.43,141.07 L585,142.04 L585.57,143.65 L586.14,144.86 L586.72,146.16 L587.29,147.17 L587.86,148.23 L588.43,149.28 L589,150.75 L589.57,152.17 L590.14,153.15 L590.72,154.28 L591.29,155.35 L591.86,156.17 L592.43,157.44 L593,158.43 L593.57,159.47 L594.14,160.53 L594.72,161.63 L595.29,162.28 L595.86,163.47 L596.43,164.42 L597,165.62 L597.57,166.41 L598.14,167.26 L598.72,167.81 L599.29,169.29 L599.86,169.44 L600.43,170.41 L601,171.44 L601.57,172.26 L602.14,172.65 L602.72,173.49 L603.29,174.82 L603.86,175.19 L604.43,175.96 L605,176.42 L605.57,177.26 L606.14,177.62 L606.72,178.54 L607.29,179.12 L607.86,179.33 L608.43,180.34 L609,181.01 L609.57,181.45 L610.14,182.39 L610.72,183.03 L611.29,183.15 L611.86,183.83 L612.43,184.58 L613,184.45 L613.57,185.01 L614.14,185.63 L614.72,186.31 L615.29,186.68 L615.86,187.23 L616.43,187.28 L617,188.34 L617.57,188.29 L618.14,188.76 L618.72,189.47 L619.29,189.38 L619.86,190.02 L620.43,189.79 L621,190.34 L621.57,191.03 L622.14,191.46 L622.72,191.88 L623.29,192.22 L623.86,192.26 L624.43,193.05 L625,192.7 L625.57,193.07 L626.14,193.59 L626.72,193.64 L627.29,193.49 L627.86,194.31 L628.43,194.18 L629,194.99 L629.57,195.32 L630.14,195.13 L630.72,196.16 L631.29,195.61 L631.86,196.1 L632.43,196.45 L633,196.5 L633.57,196.7 L634.14,196.59 L634.72,196.9 L635.29,197.26 L635.86,197.56 L636.43,197.94 L637,197.79 L637.57,198.72 L638.14,197.91 L638.72,198.34 L639.29,198.94 L639.86,198.48 L640.43,199.03 L641,199.05 L641.57,199.55 L642.14,199.4 L642.72,199.28 L643.29,199.47 L643.86,199.49 L644.43,199.89 L645,199.65 L645.57,200.32 L646.14,200.18 L646.72,200.86 L647.29,200.33 L647.86,200.5 L648.43,200.5 L649,200.39 L649.57,200.28 L650.14,201.06 L650.72,200.9 L651.29,201.46 L651.86,200.51 L652.43,200.75 L653,201.06 L653.57,200.94 L654.14,201.12 L654.72,201.61 L655.29,201.32 L655.86,201.27 L656.43,201.44 L657,201.76 L657.57,201.92 L658.14,201.23 L658.72,201.88 L659.29,201.87 L659.86,202.47 L660.43,201.96 L661,202.15 L661.57,202.51 L662.14,201.99 L662.72,202.4 L663.29,202.28 L663.86,202.39 L664.43,202.76 L665,202.54" fill="none" stroke="#e8413a" stroke-width="1.25" stroke-linejoin="round"/>
<path d="M437,149.77 L437.57,150.85 L438.14,151.16 L438.71,151.39 L439.29,151.15 L439.86,151.63 L440.43,151.53 L441,151.34 L441.57,151.96 L442.14,151.19 L442.71,151.49 L443.29,151.4 L443.86,150.75 L444.43,150.81 L445,151.03 L445.57,150.39 L446.14,150.25 L446.71,149.6 L447.29,149.4 L447.86,148.94 L448.43,148.13 L449,148.38 L449.57,147.25 L450.14,146.56 L450.71,145.42 L451.29,145.07 L451.86,143.58 L452.43,142.4 L453,140.95 L453.57,141.07 L454.14,140.43 L454.71,139.58 L455.29,138.88 L455.86,138.63 L456.43,137.99 L457,138.09 L457.57,136.89 L458.14,137.27 L458.71,137.07 L459.29,136.37 L459.86,137.35 L460.43,137.69 L461,137.83 L461.57,137.38 L462.14,138.21 L462.71,138.73 L463.29,138.92 L463.86,139.34 L464.43,139.49 L465,140.02 L465.57,140.57 L466.14,140.99 L466.71,141.82 L467.29,142.52 L467.86,142.76 L468.43,143.51 L469,144.48 L469.57,145.38 L470.14,146.28 L470.71,147.79 L471.29,148.63 L471.86,149.84 L472.43,151.18 L473,151.57 L473.57,152.79 L474.14,153.59 L474.71,154.44 L475.29,155.7 L475.86,155.8 L476.43,156.81 L477,157.31 L477.57,157.8 L478.14,159.07 L478.71,159.77 L479.29,160.19 L479.86,160.55 L480.43,161.12 L481,162.5 L481.57,162.06 L482.14,163.02 L482.71,163.15 L483.29,163.96 L483.86,164.09 L484.43,163.92 L485,164.59 L485.57,163.89 L486.14,164.21 L486.71,163.91 L487.29,163.81 L487.86,163.84 L488.43,163.14 L489,162.62 L489.57,162.82 L490.14,163.16 L490.71,162.32 L491.29,162.03 L491.86,161.31 L492.43,161.08 L493,160.02 L493.57,159.89 L494.14,159.34 L494.71,158.99 L495.29,158.48 L495.86,157.57 L496.43,156.76 L497,155.91 L497.57,155.17 L498.14,154.45 L498.71,153.47 L499.29,152.69 L499.86,151.88 L500.43,150.86 L501,149.47 L501.57,148.36 L502.14,147.53 L502.71,146.39 L503.29,145.06 L503.86,144.06 L504.43,141.95 L505,141.52 L505.57,140.41 L506.14,139.45 L506.71,137.55 L507.29,135.95 L507.86,134.83 L508.43,133.04 L509,132.07 L509.57,130.43 L510.14,128.92 L510.71,127.52 L511.29,126.14 L511.86,124.39 L512.43,123.01 L513,120.63 L513.57,119.2 L514.14,117.49 L514.71,115.91 L515.29,113.77 L515.86,112.54 L516.43,110.11 L517,108.54 L517.57,107.3 L518.14,105.43 L518.71,103.47 L519.29,101.58 L519.86,100.42 L520.43,98.63 L521,96.12 L521.57,94.87 L522.14,93.22 L522.71,91.29 L523.29,90.08 L523.86,88.73 L524.43,87.5 L525,85.25 L525.57,84.29 L526.14,82.32 L526.71,81.6 L527.29,79.78 L527.86,78.29 L528.43,77.31 L529,75.83 L529.57,74.68 L530.14,73.22 L530.71,72.45 L531.29,71.07 L531.86,69.56 L532.43,68.55 L533,67.45 L533.57,66.95 L534.14,66.33 L534.71,65.34 L535.29,64.51 L535.86,63.95 L536.43,63.03 L537,63.07 L537.57,62.47 L538.14,62.43 L538.71,61.79 L539.29,61.07 L539.86,61.2 L540.43,60.89 L541,60.93 L541.57,60.8 L542.14,61.36 L542.71,61.12 L543.29,61.28 L543.86,61.4 L544.43,61.65 L545,62.53 L545.57,63.21 L546.14,63.47 L546.71,63.46 L547.29,64.67 L547.86,65.41 L548.43,66.06 L549,66.78 L549.57,66.99 L550.14,68.2 L550.71,69.01 L551.29,69.42 L551.86,70.4 L552.43,71.38 L553,72.83 L553.57,74.11 L554.14,74.61 L554.72,75.32 L555.29,77.02 L555.86,78.14 L556.43,80.13 L557,79.96 L557.57,81.7 L558.14,83.36 L558.72,84.15 L559.29,85.57 L559.86,86.52 L560.43,87.41 L561,89.53 L561.57,90.59 L562.14,92.07 L562.72,93.49 L563.29,94.54 L563.86,95.61 L564.43,97.29 L565,98.92 L565.57,100.06 L566.14,101.54 L566.72,102.8 L567.29,104.59 L567.86,105.83 L568.43,106.84 L569,108.71 L569.57,109.88 L570.14,111.58 L570.72,112.99 L571.29,114.64 L571.86,115.08 L572.43,116.95 L573,118.37 L573.57,119.78 L574.14,121.78 L574.72,123.1 L575.29,124.33 L575.86,126.11 L576.43,127.27 L577,128.15 L577.57,130.31 L578.14,131.3 L578.72,132.41 L579.29,133.71 L579.86,134.99 L580.43,136.47 L581,137.28 L581.57,139.43 L582.14,139.91 L582.72,141.67 L583.29,142.68 L583.86,143.71 L584.43,144.45 L585,146.33 L585.57,147.65 L586.14,148.15 L586.72,149.59 L587.29,150.7 L587.86,151.67 L588.43,152.66 L589,153.98 L589.57,155.68 L590.14,156.22 L590.72,157.2 L591.29,158.56 L591.86,159.53 L592.43,160.08 L593,161.17 L593.57,162.45 L594.14,162.99 L594.72,164.04 L595.29,165.35 L595.86,165.96 L596.43,167.13 L597,167.87 L597.57,168.39 L598.14,169.64 L598.72,170.45 L599.29,170.79 L599.86,171.94 L600.43,172.5 L601,173.24 L601.57,173.94 L602.14,174.51 L602.72,175.43 L603.29,176.22 L603.86,176.81 L604.43,177.02 L605,177.74 L605.57,178.64 L606.14,178.91 L606.72,179.66 L607.29,180.75 L607.86,180.63 L608.43,180.85 L609,182.07 L609.57,183.17 L610.14,182.85 L610.72,183.61 L611.29,184.32 L611.86,185.35 L612.43,185.31 L613,185.84 L613.57,186.31 L614.14,186.8 L614.72,186.86 L615.29,187.68 L615.86,187.87 L616.43,188.92 L617,189.07 L617.57,189.19 L618.14,189.82 L618.72,189.93 L619.29,190.32 L619.86,190.61 L620.43,191.1 L621,191.18 L621.57,192.06 L622.14,192.12 L622.72,191.91 L623.29,192.75 L623.86,192.52 L624.43,193.14 L625,193.59 L625.57,193.78 L626.14,193.64 L626.72,194.43 L627.29,194.91 L627.86,194.72 L628.43,194.91 L629,195.12 L629.57,196.01 L630.14,195.71 L630.72,196.02 L631.29,196.33 L631.86,196.6 L632.43,196.55 L633,196.9 L633.57,197.09 L634.14,196.72 L634.72,197.43 L635.29,197.95 L635.86,198.05 L636.43,198.18 L637,198.57 L637.57,197.99 L638.14,197.94 L638.72,198.77 L639.29,198.49 L639.86,199.08 L640.43,199.2 L641,199.63 L641.57,199.29 L642.14,199.07 L642.72,199.18 L643.29,199.5 L643.86,199.83 L644.43,199.54 L645,199.51 L645.57,200.3 L646.14,200.12 L646.72,200.31 L647.29,200.57 L647.86,200.82 L648.43,200.82 L649,200.65 L649.57,200.71 L650.14,200.83 L650.72,200.61 L651.29,201.23 L651.86,201.47 L652.43,201.54 L653,201.19 L653.57,201.52 L654.14,201.91 L654.72,201.28 L655.29,201.23 L655.86,201.63 L656.43,201.58 L657,202.21 L657.57,202.28 L658.14,201.92 L658.72,201.97 L659.29,202.15 L659.86,202.24 L660.43,202.39 L661,201.89 L661.57,202.58 L662.14,202.44 L662.72,202.18 L663.29,202.8 L663.86,202.53 L664.43,202.66 L665,202.51" fill="none" stroke="#2f6fd3" stroke-width="1.25" stroke-linejoin="round"/>
<path d="M437,150.82 L437.57,150.62 L438.14,151.09 L438.71,150.84 L439.29,151.37 L439.86,151.66 L440.43,151.36 L441,151.48 L441.57,151.37 L442.14,151.3 L442.71,151.29 L443.29,151.51 L443.86,151.09 L444.43,150.86 L445,150.58 L445.57,150.28 L446.14,150.01 L446.71,149.79 L447.29,149.29 L447.86,149.12 L448.43,148.64 L449,147.72 L449.57,147.42 L450.14,146.48 L450.71,145.66 L451.29,144.88 L451.86,143.44 L452.43,141.86 L453,141.45 L453.57,140.93 L454.14,139.94 L454.71,139.68 L455.29,139.16 L455.86,138.91 L456.43,138.5 L457,137.55 L457.57,137.34 L458.14,137.19 L458.71,136.94 L459.29,137.27 L459.86,137.22 L460.43,137.62 L461,137.84 L461.57,138.09 L462.14,137.94 L462.71,138.38 L463.29,139.24 L463.86,139.48 L464.43,139.8 L465,140.51 L465.57,140.57 L466.14,141.43 L466.71,141.78 L467.29,142.37 L467.86,143.48 L468.43,144.25 L469,144.89 L469.57,145.27 L470.14,146.44 L470.71,147.52 L471.29,148.88 L471.86,149.91 L472.43,150.85 L473,151.85 L473.57,153.38 L474.14,154.14 L474.71,155.09 L475.29,155.38 L475.86,156.66 L476.43,157.44 L477,157.7 L477.57,158.75 L478.14,159.08 L478.71,160.28 L479.29,160.16 L479.86,161.34 L480.43,161.89 L481,162.56 L481.57,163.03 L482.14,163.49 L482.71,164.01 L483.29,163.93 L483.86,165.18 L484.43,165.11 L485,165.01 L485.57,165 L486.14,164.57 L486.71,164.78 L487.29,164.86 L487.86,164.98 L488.43,164.08 L489,164.21 L489.57,163.55 L490.14,164.41 L490.71,163.26 L491.29,163.46 L491.86,163.32 L492.43,162.68 L493,162.27 L493.57,161.94 L494.14,161.77 L494.71,160.95 L495.29,160.65 L495.86,159.68 L496.43,159.44 L497,158.34 L497.57,157.81 L498.14,156.69 L498.71,156.39 L499.29,155.75 L499.86,154.93 L500.43,153.61 L501,151.72 L501.57,152.26 L502.14,151.1 L502.71,149.53 L503.29,148.77 L503.86,147.56 L504.43,146.76 L505,145.61 L505.57,144.6 L506.14,143.77 L506.71,142.22 L507.29,141.33 L507.86,139.65 L508.43,139.3 L509,137.82 L509.57,135.97 L510.14,134.56 L510.71,132.7 L511.29,132.03 L511.86,130.21 L512.43,129.44 L513,126.82 L513.57,126.7 L514.14,124.07 L514.71,123.07 L515.29,121.94 L515.86,120.07 L516.43,118.14 L517,116.88 L517.57,115.53 L518.14,113.72 L518.71,112.23 L519.29,110.45 L519.86,108.99 L520.43,107.79 L521,106.37 L521.57,104.66 L522.14,103.24 L522.71,101.67 L523.29,100.58 L523.86,98.85 L524.43,97.71 L525,95.97 L525.57,94.71 L526.14,93.53 L526.71,92.62 L527.29,90.63 L527.86,89.96 L528.43,88.68 L529,87.44 L529.57,86.21 L530.14,85.41 L530.71,84.38 L531.29,83.64 L531.86,82.02 L532.43,81.54 L533,80.68 L533.57,80.31 L534.14,79.14 L534.71,78.03 L535.29,77.33 L535.86,77.3 L536.43,76.46 L537,75.82 L537.57,75.95 L538.14,75.3 L538.71,74.7 L539.29,74.35 L539.86,74.86 L540.43,74.66 L541,73.99 L541.57,74.42 L542.14,74.28 L542.71,74.81 L543.29,74.34 L543.86,74.78 L544.43,74.78 L545,75.75 L545.57,76.02 L546.14,76.63 L546.71,77.11 L547.29,77.66 L547.86,77.81 L548.43,78.72 L549,79.13 L549.57,80 L550.14,80.44 L550.71,81.07 L551.29,81.88 L551.86,82.69 L552.43,83.83 L553,84.5 L553.57,85.69 L554.14,86.79 L554.72,87.89 L555.29,88.57 L555.86,89.51 L556.43,90.19 L557,91.84 L557.57,92.4 L558.14,94.34 L558.72,95.06 L559.29,95.54 L559.86,97.43 L560.43,98.75 L561,99.96 L561.57,100.25 L562.14,101.72 L562.72,103.42 L563.29,104.61 L563.86,106.39 L564.43,107 L565,107.77 L565.57,109.99 L566.14,110.43 L566.72,111.82 L567.29,112.84 L567.86,114.7 L568.43,115.76 L569,116.75 L569.57,118.27 L570.14,119.5 L570.72,121.07 L571.29,122.32 L571.86,123.71 L572.43,124.8 L573,126.1 L573.57,127.45 L574.14,129.23 L574.72,130.29 L575.29,131.17 L575.86,132.08 L576.43,133.88 L577,135.01 L577.57,136.09 L578.14,137.02 L578.72,138.02 L579.29,139.58 L579.86,140.83 L580.43,142.21 L581,143.02 L581.57,144.35 L582.14,145.35 L582.72,146.75 L583.29,147.32 L583.86,148.83 L584.43,150.23 L585,150.89 L585.57,152.25 L586.14,152.86 L586.72,153.68 L587.29,154.93 L587.86,156.14 L588.43,157.33 L589,158.23 L589.57,158.49 L590.14,159.75 L590.72,161.27 L591.29,162.19 L591.86,162.75 L592.43,163.74 L593,164.63 L593.57,165.37 L594.14,166.7 L594.72,167.47 L595.29,167.81 L595.86,168.81 L596.43,169.77 L597,170.51 L597.57,171.08 L598.14,171.93 L598.72,172.93 L599.29,173.78 L599.86,173.95 L600.43,175.19 L601,174.98 L601.57,176.52 L602.14,177.03 L602.72,177.2 L603.29,177.73 L603.86,178.73 L604.43,180.08 L605,179.98 L605.57,181.1 L606.14,181.23 L606.72,181.42 L607.29,181.98 L607.86,182.7 L608.43,183.19 L609,183.6 L609.57,184.38 L610.14,184.87 L610.72,184.92 L611.29,185.59 L611.86,185.85 L612.43,186.52 L613,186.96 L613.57,187.27 L614.14,187.72 L614.72,187.85 L615.29,188.56 L615.86,189.24 L616.43,189.6 L617,190.12 L617.57,190.15 L618.14,190.76 L618.72,191.27 L619.29,191.07 L619.86,191.17 L620.43,192.33 L621,191.94 L621.57,192.46 L622.14,193.09 L622.72,193.29 L623.29,193.44 L623.86,193.04 L624.43,193.88 L625,193.78 L625.57,194.64 L626.14,194.44 L626.72,194.75 L627.29,195.4 L627.86,195.61 L628.43,195.55 L629,196.34 L629.57,196.13 L630.14,196.69 L630.72,196.55 L631.29,196.63 L631.86,196.76 L632.43,197.03 L633,197.38 L633.57,197.65 L634.14,197.91 L634.72,198.02 L635.29,198.14 L635.86,198.32 L636.43,198.29 L637,198.67 L637.57,199.07 L638.14,198.59 L638.72,199.12 L639.29,199.51 L639.86,199.43 L640.43,199.4 L641,199.49 L641.57,199.49 L642.14,199.14 L642.72,200.14 L643.29,199.45 L643.86,199.95 L644.43,200.19 L645,200.82 L645.57,200.39 L646.14,200.23 L646.72,200.79 L647.29,201.01 L647.86,201.05 L648.43,200.73 L649,200.86 L649.57,200.52 L650.14,201.17 L650.72,200.9 L651.29,201.54 L651.86,201.35 L652.43,201.06 L653,201.52 L653.57,201.37 L654.14,201.94 L654.72,201.92 L655.29,201.89 L655.86,202.12 L656.43,202 L657,201.54 L657.57,202.07 L658.14,202 L658.72,201.71 L659.29,202.19 L659.86,202.3 L660.43,202.45 L661,202.07 L661.57,202.18 L662.14,201.92 L662.72,201.97 L663.29,203 L663.86,202.44 L664.43,202.12 L665,202.66" fill="none" stroke="#3a9e6a" stroke-width="1.25" stroke-linejoin="round"/>
<path d="M437,150.1 L437.57,150.86 L438.14,150.56 L438.71,151.42 L439.29,151.3 L439.86,151.6 L440.43,151.48 L441,151.77 L441.57,151.76 L442.14,151.31 L442.71,151.51 L443.29,151.1 L443.86,151.35 L444.43,150.53 L445,150.53 L445.57,150.04 L446.14,149.83 L446.71,150.1 L447.29,149.98 L447.86,148.56 L448.43,148.53 L449,148.03 L449.57,147.57 L450.14,146.66 L450.71,145.44 L451.29,144.19 L451.86,143.42 L452.43,142.91 L453,141.26 L453.57,140.67 L454.14,140.31 L454.71,139.91 L455.29,139.37 L455.86,138.15 L456.43,138.22 L457,137.35 L457.57,137.47 L458.14,136.99 L458.71,137.41 L459.29,137.52 L459.86,137.31 L460.43,137.89 L461,138.01 L461.57,137.79 L462.14,137.82 L462.71,138.56 L463.29,139.47 L463.86,139.73 L464.43,139.84 L465,140.39 L465.57,140.16 L466.14,140.77 L466.71,141.85 L467.29,141.78 L467.86,143.33 L468.43,144.13 L469,144.36 L469.57,145.99 L470.14,146.87 L470.71,147.33 L471.29,148.96 L471.86,149.56 L472.43,150.83 L473,152.21 L473.57,152.96 L474.14,153.83 L474.71,154.86 L475.29,156.19 L475.86,156.48 L476.43,158.11 L477,158.28 L477.57,158.91 L478.14,159.38 L478.71,159.97 L479.29,161.41 L479.86,161.85 L480.43,162.36 L481,163.06 L481.57,163.38 L482.14,163.8 L482.71,164.24 L483.29,164.91 L483.86,164.26 L484.43,165.71 L485,165.62 L485.57,165.22 L486.14,165.47 L486.71,165.48 L487.29,165.32 L487.86,165.66 L488.43,165.49 L489,165.09 L489.57,164.8 L490.14,165.41 L490.71,164.99 L491.29,164.6 L491.86,164.07 L492.43,164.35 L493,163.4 L493.57,163.47 L494.14,162.66 L494.71,162.35 L495.29,161.53 L495.86,161.71 L496.43,160.72 L497,160.37 L497.57,159.87 L498.14,158.76 L498.71,158.61 L499.29,157.43 L499.86,157.19 L500.43,156.47 L501,155.17 L501.57,153.96 L502.14,153.59 L502.71,153.11 L503.29,151.87 L503.86,151.13 L504.43,150.28 L505,149.06 L505.57,147.97 L506.14,146.87 L506.71,146.32 L507.29,144.51 L507.86,143.94 L508.43,143.16 L509,141.8 L509.57,140.35 L510.14,139.41 L510.71,137.89 L511.29,136.95 L511.86,135.14 L512.43,134.08 L513,132.89 L513.57,131.21 L514.14,130.39 L514.71,128.82 L515.29,127.24 L515.86,125.93 L516.43,124.63 L517,123.03 L517.57,122.03 L518.14,120.51 L518.71,119.37 L519.29,117.77 L519.86,116.71 L520.43,115.35 L521,113.69 L521.57,112.63 L522.14,110.81 L522.71,109.45 L523.29,108.26 L523.86,106.94 L524.43,105.76 L525,105.08 L525.57,103.77 L526.14,102.2 L526.71,101.44 L527.29,100.21 L527.86,98.94 L528.43,97.79 L529,97.29 L529.57,95.87 L530.14,94.69 L530.71,93.9 L531.29,92.7 L531.86,92.39 L532.43,91.1 L533,90.09 L533.57,89.75 L534.14,88.99 L534.71,88.34 L535.29,88.62 L535.86,87.67 L536.43,86.69 L537,86.89 L537.57,86.07 L538.14,85.67 L538.71,85.19 L539.29,85.35 L539.86,84.91 L540.43,85.04 L541,84.56 L541.57,85.17 L542.14,85.19 L542.71,85.04 L543.29,84.84 L543.86,85.43 L544.43,85.76 L545,86.22 L545.57,86.1 L546.14,86.97 L546.71,87.27 L547.29,87.75 L547.86,87.88 L548.43,88.97 L549,89.55 L549.57,89.89 L550.14,90.59 L550.71,91.7 L551.29,92.27 L551.86,92.96 L552.43,93.55 L553,94.61 L553.57,94.68 L554.14,96.02 L554.72,96.65 L555.29,97.81 L555.86,98.77 L556.43,99.59 L557,100.86 L557.57,102.26 L558.14,102.65 L558.72,104 L559.29,104.47 L559.86,106.13 L560.43,106.9 L561,108 L561.57,109.24 L562.14,110.28 L562.72,111.32 L563.29,112.32 L563.86,113.42 L564.43,114.6 L565,115.76 L565.57,117.51 L566.14,117.67 L566.72,119.02 L567.29,120.72 L567.86,121.77 L568.43,123.29 L569,124.69 L569.57,125.18 L570.14,125.77 L570.72,127.36 L571.29,128.52 L571.86,129.73 L572.43,130.75 L573,132.09 L573.57,133.46 L574.14,134.56 L574.72,135.36 L575.29,136.8 L575.86,138.35 L576.43,138.8 L577,140.01 L577.57,140.81 L578.14,142.25 L578.72,143.37 L579.29,144.49 L579.86,145.74 L580.43,146.51 L581,147.77 L581.57,148.95 L582.14,149.73 L582.72,150.7 L583.29,151.64 L583.86,152.56 L584.43,153.14 L585,154.8 L585.57,155.34 L586.14,156.68 L586.72,157.6 L587.29,158.36 L587.86,159.75 L588.43,160.47 L589,161.17 L589.57,162.66 L590.14,163.41 L590.72,164.15 L591.29,164.9 L591.86,165.53 L592.43,166.93 L593,167.03 L593.57,168.03 L594.14,168.85 L594.72,170.34 L595.29,170.48 L595.86,171.54 L596.43,171.86 L597,172.81 L597.57,173.62 L598.14,174.44 L598.72,174.94 L599.29,175.35 L599.86,176.63 L600.43,177.03 L601,177.52 L601.57,178.12 L602.14,178.79 L602.72,179.21 L603.29,179.82 L603.86,180.99 L604.43,180.69 L605,181.91 L605.57,181.74 L606.14,182.37 L606.72,183.58 L607.29,183.58 L607.86,183.73 L608.43,184.21 L609,185.01 L609.57,185.74 L610.14,185.66 L610.72,186.84 L611.29,187.28 L611.86,187.08 L612.43,188.04 L613,187.97 L613.57,188.81 L614.14,189.08 L614.72,188.97 L615.29,189.68 L615.86,189.84 L616.43,190.42 L617,190.84 L617.57,191.23 L618.14,191.62 L618.72,191.58 L619.29,191.88 L619.86,191.85 L620.43,192.52 L621,192.97 L621.57,193.04 L622.14,193.06 L622.72,194.13 L623.29,193.54 L623.86,194.48 L624.43,194.74 L625,194.06 L625.57,194.71 L626.14,195.39 L626.72,195.24 L627.29,195.33 L627.86,195.74 L628.43,195.84 L629,196.25 L629.57,196.41 L630.14,197.07 L630.72,197.23 L631.29,197.09 L631.86,197.69 L632.43,197.32 L633,197.7 L633.57,197.52 L634.14,197.77 L634.72,198.28 L635.29,199.06 L635.86,198.87 L636.43,198.62 L637,198.21 L637.57,198.9 L638.14,198.88 L638.72,199.17 L639.29,200.02 L639.86,199.25 L640.43,199.6 L641,200.06 L641.57,199.57 L642.14,199.89 L642.72,199.17 L643.29,200.69 L643.86,200.41 L644.43,200.27 L645,200.49 L645.57,200.3 L646.14,200.32 L646.72,200.53 L647.29,200.73 L647.86,201.02 L648.43,200.87 L649,200.76 L649.57,201.05 L650.14,201.74 L650.72,200.78 L651.29,201.46 L651.86,201.16 L652.43,201.61 L653,201.25 L653.57,201.71 L654.14,201.28 L654.72,201.4 L655.29,202 L655.86,202.69 L656.43,201.86 L657,202.29 L657.57,201.82 L658.14,202.04 L658.72,202.31 L659.29,202.53 L659.86,202.56 L660.43,201.98 L661,202.17 L661.57,202.55 L662.14,202.46 L662.72,202.35 L663.29,202.7 L663.86,203.2 L664.43,202.3 L665,202.89" fill="none" stroke="#b58ae6" stroke-width="1.25" stroke-linejoin="round"/>
<path d="M437,150.32 L437.57,150.54 L438.14,151.14 L438.71,151.44 L439.29,151.29 L439.86,151.7 L440.43,151.49 L441,151.55 L441.57,151.11 L442.14,151.67 L442.71,151.48 L443.29,151.51 L443.86,150.85 L444.43,150.81 L445,150.58 L445.57,149.86 L446.14,149.97 L446.71,149.61 L447.29,149.64 L447.86,149.34 L448.43,148.55 L449,147.91 L449.57,147.65 L450.14,146.79 L450.71,145.33 L451.29,144.61 L451.86,143.52 L452.43,142.42 L453,141.75 L453.57,140.54 L454.14,139.78 L454.71,139.3 L455.29,138.61 L455.86,139.07 L456.43,137.84 L457,137.76 L457.57,137.07 L458.14,137.45 L458.71,136.99 L459.29,136.74 L459.86,137.15 L460.43,137.45 L461,137.76 L461.57,137.85 L462.14,138.38 L462.71,139.03 L463.29,138.95 L463.86,139.1 L464.43,139.9 L465,140.19 L465.57,140.63 L466.14,141.43 L466.71,141.95 L467.29,142.76 L467.86,143.2 L468.43,143.95 L469,145.24 L469.57,146.04 L470.14,146.7 L470.71,148.24 L471.29,148.96 L471.86,150.18 L472.43,151.48 L473,152.25 L473.57,153.4 L474.14,154.62 L474.71,155.56 L475.29,156.38 L475.86,157.18 L476.43,157.96 L477,158.66 L477.57,159.76 L478.14,159.99 L478.71,161.17 L479.29,161.94 L479.86,162.25 L480.43,163.02 L481,164.47 L481.57,164.58 L482.14,164.94 L482.71,165.53 L483.29,166.6 L483.86,166.74 L484.43,167.09 L485,166.97 L485.57,167.09 L486.14,167.37 L486.71,167.59 L487.29,167.88 L487.86,167.42 L488.43,168.35 L489,167.6 L489.57,167.56 L490.14,167.59 L490.71,167.6 L491.29,167.46 L491.86,167.19 L492.43,167.4 L493,166.84 L493.57,166.83 L494.14,166.57 L494.71,167.06 L495.29,166.41 L495.86,165.79 L496.43,165.56 L497,164.76 L497.57,165.01 L498.14,163.84 L498.71,163.5 L499.29,163.19 L499.86,162.9 L500.43,162.58 L501,162.06 L501.57,161.38 L502.14,160.62 L502.71,159.85 L503.29,159.23 L503.86,158.5 L504.43,157.87 L505,157.67 L505.57,156.94 L506.14,155.79 L506.71,155.57 L507.29,154.32 L507.86,153.82 L508.43,153.42 L509,152.11 L509.57,151.34 L510.14,150.77 L510.71,150.34 L511.29,148.72 L511.86,147.77 L512.43,146.74 L513,145.92 L513.57,145.27 L514.14,144.57 L514.71,143.17 L515.29,141.89 L515.86,141.19 L516.43,140.51 L517,139.64 L517.57,138.91 L518.14,137.15 L518.71,136.09 L519.29,135.82 L519.86,134.41 L520.43,132.88 L521,132.88 L521.57,130.93 L522.14,130.07 L522.71,129.21 L523.29,128.38 L523.86,127.47 L524.43,126.53 L525,125.37 L525.57,125.26 L526.14,124.6 L526.71,123.83 L527.29,122.42 L527.86,121.42 L528.43,121.14 L529,120.1 L529.57,119.45 L530.14,118.5 L530.71,117.95 L531.29,117.4 L531.86,117.07 L532.43,116.4 L533,115.49 L533.57,115.15 L534.14,114.32 L534.71,114.38 L535.29,113.5 L535.86,113.41 L536.43,112.87 L537,113.12 L537.57,112.16 L538.14,112.34 L538.71,111.55 L539.29,111.46 L539.86,111.73 L540.43,111.06 L541,111 L541.57,110.92 L542.14,111.09 L542.71,111.59 L543.29,111.2 L543.86,112.08 L544.43,112.01 L545,112.05 L545.57,112.83 L546.14,112.35 L546.71,112.82 L547.29,113.38 L547.86,114.31 L548.43,114.32 L549,114.36 L549.57,114.87 L550.14,115.79 L550.71,116.42 L551.29,116.6 L551.86,117.49 L552.43,118.21 L553,117.99 L553.57,119.02 L554.14,119.57 L554.72,120.41 L555.29,120.77 L555.86,121.47 L556.43,122.5 L557,123.31 L557.57,124.05 L558.14,124.45 L558.72,125.43 L559.29,126.57 L559.86,126.67 L560.43,127.82 L561,128.5 L561.57,129.05 L562.14,130.12 L562.72,130.85 L563.29,131.92 L563.86,132.58 L564.43,133.34 L565,134.34 L565.57,135.33 L566.14,136.22 L566.72,137.13 L567.29,137.86 L567.86,138.95 L568.43,139.55 L569,140.72 L569.57,141.22 L570.14,142.35 L570.72,143.45 L571.29,144.05 L571.86,145.36 L572.43,145.14 L573,147.03 L573.57,147.77 L574.14,148.24 L574.72,149.65 L575.29,150.62 L575.86,151.51 L576.43,151.8 L577,153.27 L577.57,153.36 L578.14,154.5 L578.72,155.54 L579.29,156.03 L579.86,157.16 L580.43,158.05 L581,159.12 L581.57,159.96 L582.14,160.31 L582.72,161.71 L583.29,162.37 L583.86,163.14 L584.43,163.52 L585,164.65 L585.57,165.09 L586.14,165.11 L586.72,166.54 L587.29,166.81 L587.86,167.98 L588.43,169.05 L589,169.62 L589.57,170.35 L590.14,170.76 L590.72,171.38 L591.29,172.2 L591.86,173.03 L592.43,173.8 L593,174.35 L593.57,175.12 L594.14,175.72 L594.72,175.46 L595.29,176.5 L595.86,177.62 L596.43,177.92 L597,178.4 L597.57,179.07 L598.14,179.79 L598.72,180.05 L599.29,180.63 L599.86,181.05 L600.43,181.38 L601,182.33 L601.57,182.62 L602.14,183.28 L602.72,183.86 L603.29,184.23 L603.86,184.48 L604.43,185.14 L605,185.68 L605.57,186.05 L606.14,186.24 L606.72,186.31 L607.29,186.75 L607.86,187.92 L608.43,187.97 L609,188.11 L609.57,188.75 L610.14,189.05 L610.72,189.62 L611.29,189.68 L611.86,190.1 L612.43,190.63 L613,190.59 L613.57,190.77 L614.14,191.23 L614.72,191.98 L615.29,191.9 L615.86,192.05 L616.43,192.25 L617,192.5 L617.57,192.85 L618.14,193.41 L618.72,193.48 L619.29,193.69 L619.86,194.09 L620.43,194.28 L621,194.88 L621.57,194.76 L622.14,195.19 L622.72,195.33 L623.29,195.05 L623.86,195.67 L624.43,195.85 L625,196.31 L625.57,196.74 L626.14,196.87 L626.72,196.82 L627.29,196.98 L627.86,197.59 L628.43,197.46 L629,197.46 L629.57,197.85 L630.14,197.9 L630.72,197.93 L631.29,197.79 L631.86,198.18 L632.43,198.01 L633,198.94 L633.57,198.36 L634.14,198.89 L634.72,198.71 L635.29,198.57 L635.86,198.98 L636.43,199.24 L637,199.04 L637.57,199.72 L638.14,199.42 L638.72,199.7 L639.29,199.81 L639.86,200.18 L640.43,200.03 L641,200.11 L641.57,200.31 L642.14,200.31 L642.72,200.86 L643.29,200.32 L643.86,200.73 L644.43,200.68 L645,201 L645.57,201 L646.14,201.16 L646.72,200.72 L647.29,201.36 L647.86,201.41 L648.43,201.33 L649,201.68 L649.57,201.7 L650.14,201.44 L650.72,201.49 L651.29,201.43 L651.86,201.58 L652.43,202 L653,202.11 L653.57,201.61 L654.14,202.54 L654.72,201.97 L655.29,201.89 L655.86,201.82 L656.43,201.82 L657,201.96 L657.57,201.79 L658.14,202.84 L658.72,202.49 L659.29,202.37 L659.86,203.12 L660.43,202.77 L661,202.3 L661.57,202.84 L662.14,202.44 L662.72,202.59 L663.29,202.49 L663.86,202.63 L664.43,202.75 L665,202.75" fill="none" stroke="#d6aa2a" stroke-width="1.25" stroke-linejoin="round"/>
<path d="M437,150.39 L437.57,150.1 L438.14,150.94 L438.71,151.37 L439.29,151.24 L439.86,151.89 L440.43,151.05 L441,151.02 L441.57,151.33 L442.14,151.85 L442.71,151.38 L443.29,151.28 L443.86,151.32 L444.43,151.03 L445,150.56 L445.57,150.52 L446.14,150.06 L446.71,149.67 L447.29,149.63 L447.86,148.95 L448.43,148.52 L449,147.49 L449.57,147.31 L450.14,146.41 L450.71,145.47 L451.29,144.45 L451.86,143.34 L452.43,142.36 L453,142.02 L453.57,140.78 L454.14,140.35 L454.71,139.68 L455.29,139.31 L455.86,138.8 L456.43,138.11 L457,137.87 L457.57,137.46 L458.14,137.25 L458.71,137.25 L459.29,137.24 L459.86,137.53 L460.43,137.6 L461,137.61 L461.57,138.12 L462.14,138.25 L462.71,138.78 L463.29,138.94 L463.86,139.93 L464.43,140.06 L465,140.39 L465.57,141.31 L466.14,141.55 L466.71,142.01 L467.29,142.75 L467.86,143.21 L468.43,144.2 L469,145.27 L469.57,145.98 L470.14,147.15 L470.71,147.58 L471.29,149.89 L471.86,150.56 L472.43,151.76 L473,152.87 L473.57,154.52 L474.14,155.01 L474.71,156.2 L475.29,156.8 L475.86,158.15 L476.43,158.19 L477,159.47 L477.57,160.41 L478.14,161 L478.71,162.28 L479.29,162.96 L479.86,163.29 L480.43,164.28 L481,164.89 L481.57,166.2 L482.14,166.6 L482.71,167.28 L483.29,166.91 L483.86,167.88 L484.43,167.9 L485,168.66 L485.57,168.58 L486.14,169.24 L486.71,169.42 L487.29,169.51 L487.86,169.61 L488.43,170.31 L489,169.88 L489.57,170.23 L490.14,170.23 L490.71,170.17 L491.29,170.23 L491.86,170.15 L492.43,169.82 L493,169.78 L493.57,169.55 L494.14,170.12 L494.71,169.87 L495.29,169.79 L495.86,169.68 L496.43,169.23 L497,169 L497.57,169.02 L498.14,168.71 L498.71,168.17 L499.29,168.28 L499.86,167.67 L500.43,167.68 L501,167.25 L501.57,166.57 L502.14,166.88 L502.71,166.3 L503.29,165.7 L503.86,165.63 L504.43,164.92 L505,164.19 L505.57,164.08 L506.14,164.05 L506.71,163.81 L507.29,163.07 L507.86,162.8 L508.43,162.37 L509,161.46 L509.57,160.96 L510.14,161.05 L510.71,160.2 L511.29,159.77 L511.86,158.74 L512.43,158.22 L513,157.47 L513.57,157.11 L514.14,156.33 L514.71,155.65 L515.29,155.21 L515.86,154.31 L516.43,154.39 L517,152.98 L517.57,152.97 L518.14,152.06 L518.71,151.25 L519.29,150.64 L519.86,150.41 L520.43,149.39 L521,149.36 L521.57,148.21 L522.14,147.65 L522.71,146.51 L523.29,146.39 L523.86,145.92 L524.43,145.32 L525,144.78 L525.57,144 L526.14,143.38 L526.71,142.47 L527.29,142.72 L527.86,141.71 L528.43,141.75 L529,140.97 L529.57,140.13 L530.14,139.65 L530.71,139.31 L531.29,139.26 L531.86,138.44 L532.43,137.88 L533,138.28 L533.57,137.69 L534.14,137.16 L534.71,136.79 L535.29,136.46 L535.86,136.31 L536.43,136.17 L537,135.6 L537.57,135.73 L538.14,135.38 L538.71,135.04 L539.29,134.91 L539.86,134.69 L540.43,134.59 L541,134.6 L541.57,134.36 L542.14,135.13 L542.71,134.75 L543.29,134.81 L543.86,135.02 L544.43,135.08 L545,135.13 L545.57,135.49 L546.14,135.05 L546.71,135.28 L547.29,136.19 L547.86,136.05 L548.43,136.39 L549,136.86 L549.57,137.31 L550.14,137.47 L550.71,137.93 L551.29,138.51 L551.86,138.53 L552.43,139.14 L553,139.32 L553.57,140.42 L554.14,140.75 L554.72,141.85 L555.29,141.61 L555.86,142.31 L556.43,142.36 L557,142.77 L557.57,143.54 L558.14,143.86 L558.72,144.84 L559.29,145.54 L559.86,145.39 L560.43,146.06 L561,146.69 L561.57,147.55 L562.14,147.76 L562.72,148.44 L563.29,148.48 L563.86,150.5 L564.43,150.71 L565,150.76 L565.57,151.41 L566.14,152.14 L566.72,152.9 L567.29,153.66 L567.86,153.67 L568.43,154.45 L569,155.3 L569.57,155.93 L570.14,156.22 L570.72,157.6 L571.29,158.29 L571.86,158.66 L572.43,159.55 L573,159.68 L573.57,160.37 L574.14,161.01 L574.72,161.91 L575.29,162.65 L575.86,163.01 L576.43,164.32 L577,164.8 L577.57,165.29 L578.14,166.01 L578.72,166.24 L579.29,167.17 L579.86,167.28 L580.43,168.09 L581,169.1 L581.57,169.9 L582.14,169.32 L582.72,170.33 L583.29,170.88 L583.86,171.71 L584.43,172.41 L585,172.36 L585.57,173.61 L586.14,173.97 L586.72,174.42 L587.29,175.22 L587.86,175.68 L588.43,176.23 L589,176.76 L589.57,176.75 L590.14,177.68 L590.72,177.95 L591.29,178.98 L591.86,179.4 L592.43,179.93 L593,180.68 L593.57,180.74 L594.14,181.62 L594.72,182.02 L595.29,182.17 L595.86,182.55 L596.43,183.29 L597,183.48 L597.57,183.63 L598.14,183.98 L598.72,184.54 L599.29,185.27 L599.86,185.23 L600.43,186.04 L601,186.43 L601.57,186.46 L602.14,186.99 L602.72,187.32 L603.29,188.04 L603.86,188.24 L604.43,188.42 L605,188.71 L605.57,189.03 L606.14,190 L606.72,189.23 L607.29,189.94 L607.86,190.69 L608.43,190.45 L609,191.1 L609.57,191.47 L610.14,191.21 L610.72,192.24 L611.29,192.49 L611.86,192.72 L612.43,192.91 L613,192.13 L613.57,193.39 L614.14,193.79 L614.72,193.71 L615.29,193.79 L615.86,193.89 L616.43,194.69 L617,194.14 L617.57,194.84 L618.14,195.34 L618.72,195.52 L619.29,195.38 L619.86,195.7 L620.43,196.02 L621,196.05 L621.57,195.65 L622.14,196.07 L622.72,196.78 L623.29,197.02 L623.86,196.73 L624.43,197.46 L625,197.84 L625.57,197.77 L626.14,198.03 L626.72,198.23 L627.29,198.04 L627.86,198.35 L628.43,198.37 L629,198.32 L629.57,198.71 L630.14,199.1 L630.72,199.09 L631.29,198.73 L631.86,199.39 L632.43,199.52 L633,199.22 L633.57,199.71 L634.14,199.82 L634.72,199.61 L635.29,199.82 L635.86,200.04 L636.43,200.1 L637,199.79 L637.57,200.09 L638.14,200.47 L638.72,200.48 L639.29,200.02 L639.86,200.6 L640.43,200.52 L641,200.61 L641.57,200.92 L642.14,200.81 L642.72,201.19 L643.29,201.07 L643.86,200.75 L644.43,201.18 L645,200.79 L645.57,201.22 L646.14,201.2 L646.72,201.37 L647.29,201.71 L647.86,201.24 L648.43,201.2 L649,201.57 L649.57,201.71 L650.14,201.84 L650.72,201.69 L651.29,201.6 L651.86,201.7 L652.43,201.93 L653,202.05 L653.57,202.07 L654.14,202.21 L654.72,202.51 L655.29,201.72 L655.86,202.55 L656.43,202.64 L657,202.04 L657.57,202.34 L658.14,202.38 L658.72,202.72 L659.29,202.62 L659.86,202.45 L660.43,201.95 L661,202.61 L661.57,202.76 L662.14,202.66 L662.72,202.87 L663.29,203.14 L663.86,203.46 L664.43,202.87 L665,203.45" fill="none" stroke="#22c3cc" stroke-width="1.25" stroke-linejoin="round"/>
<path d="M437,149.82 L437.57,150.69 L438.14,151.01 L438.71,151.48 L439.29,151.66 L439.86,151.7 L440.43,151.54 L441,151.81 L441.57,151.71 L442.14,151.77 L442.71,151.38 L443.29,151.28 L443.86,151.07 L444.43,151.25 L445,150.93 L445.57,150.77 L446.14,149.89 L446.71,150.44 L447.29,148.9 L447.86,148.98 L448.43,148.63 L449,147.93 L449.57,147.47 L450.14,146.67 L450.71,145.48 L451.29,144.34 L451.86,143.55 L452.43,141.95 L453,141.87 L453.57,140.61 L454.14,140.17 L454.71,139.94 L455.29,138.88 L455.86,138.25 L456.43,138.61 L457,137.65 L457.57,137.57 L458.14,137.32 L458.71,137.79 L459.29,137.19 L459.86,137.14 L460.43,137.56 L461,138.06 L461.57,138.26 L462.14,138.43 L462.71,138.96 L463.29,139.71 L463.86,140.11 L464.43,140.67 L465,140.74 L465.57,140.75 L466.14,141.38 L466.71,142.33 L467.29,142.95 L467.86,143.39 L468.43,144.3 L469,145.08 L469.57,146.31 L470.14,147.6 L470.71,148.44 L471.29,149.26 L471.86,150.81 L472.43,151.48 L473,153.43 L473.57,154.4 L474.14,155.34 L474.71,156.46 L475.29,157.15 L475.86,158.2 L476.43,158.94 L477,159.54 L477.57,161.12 L478.14,161.72 L478.71,161.94 L479.29,163.4 L479.86,164.41 L480.43,165.14 L481,165.98 L481.57,166.43 L482.14,167.01 L482.71,167.63 L483.29,168.1 L483.86,168.89 L484.43,169.09 L485,169.42 L485.57,170.44 L486.14,170.63 L486.71,170.51 L487.29,171.21 L487.86,170.83 L488.43,171.5 L489,171.71 L489.57,171.68 L490.14,171.25 L490.71,172.34 L491.29,172.18 L491.86,172.49 L492.43,172.22 L493,172.5 L493.57,172.54 L494.14,172.44 L494.71,172.66 L495.29,172.59 L495.86,172.45 L496.43,172.58 L497,172.6 L497.57,172.71 L498.14,172.28 L498.71,172.28 L499.29,172.26 L499.86,172.29 L500.43,172.14 L501,172.16 L501.57,171.29 L502.14,171.46 L502.71,170.94 L503.29,171.81 L503.86,171.61 L504.43,170.92 L505,170.87 L505.57,170.75 L506.14,170.59 L506.71,170.28 L507.29,170.69 L507.86,169.08 L508.43,169.59 L509,169.3 L509.57,168.71 L510.14,168.73 L510.71,168.3 L511.29,167.89 L511.86,167.56 L512.43,167.29 L513,166.8 L513.57,166.44 L514.14,166.35 L514.71,165.87 L515.29,165.79 L515.86,165.06 L516.43,165.26 L517,164.91 L517.57,164.37 L518.14,163.65 L518.71,163.57 L519.29,163.13 L519.86,162.33 L520.43,161.86 L521,161.35 L521.57,161.27 L522.14,161.04 L522.71,160.72 L523.29,160.81 L523.86,160.13 L524.43,159.86 L525,159.22 L525.57,159.03 L526.14,159.12 L526.71,158.63 L527.29,158.1 L527.86,157.91 L528.43,157.84 L529,157.17 L529.57,157.65 L530.14,156.72 L530.71,156.85 L531.29,156.76 L531.86,156.2 L532.43,155.55 L533,156.05 L533.57,155.44 L534.14,155.17 L534.71,155.08 L535.29,154.87 L535.86,154.6 L536.43,154.33 L537,153.82 L537.57,154.81 L538.14,153.86 L538.71,153.56 L539.29,154.18 L539.86,153.44 L540.43,153.28 L541,153.6 L541.57,153.39 L542.14,153.61 L542.71,153.8 L543.29,153.64 L543.86,153.73 L544.43,153.36 L545,153.88 L545.57,153.64 L546.14,153.7 L546.71,153.76 L547.29,154.24 L547.86,154.28 L548.43,154.83 L549,155.1 L549.57,154.61 L550.14,154.98 L550.71,155.8 L551.29,156.02 L551.86,155.59 L552.43,156.25 L553,156.31 L553.57,156.52 L554.14,157.28 L554.72,157.31 L555.29,158.21 L555.86,158.24 L556.43,158.36 L557,158.55 L557.57,159.28 L558.14,159.49 L558.72,160.23 L559.29,160.12 L559.86,161.1 L560.43,161.22 L561,161.54 L561.57,162.13 L562.14,162.42 L562.72,162.72 L563.29,162.77 L563.86,163.25 L564.43,163.73 L565,164.14 L565.57,164.54 L566.14,165.33 L566.72,165.59 L567.29,165.99 L567.86,166.16 L568.43,166.71 L569,167.09 L569.57,168 L570.14,167.7 L570.72,168.75 L571.29,169.3 L571.86,169.47 L572.43,169.86 L573,170.44 L573.57,170.44 L574.14,171.44 L574.72,171.87 L575.29,172.55 L575.86,172.28 L576.43,173.18 L577,173.64 L577.57,174.47 L578.14,174.64 L578.72,174.99 L579.29,175.18 L579.86,175.46 L580.43,175.83 L581,176.75 L581.57,176.91 L582.14,176.97 L582.72,177.63 L583.29,178 L583.86,178.29 L584.43,178.91 L585,179.45 L585.57,179.2 L586.14,180.7 L586.72,180.65 L587.29,180.94 L587.86,181.5 L588.43,181.93 L589,182.44 L589.57,182.44 L590.14,183.62 L590.72,183.84 L591.29,184.3 L591.86,184.49 L592.43,184.83 L593,184.96 L593.57,185.16 L594.14,186.02 L594.72,186.14 L595.29,185.94 L595.86,186.64 L596.43,187.62 L597,187.32 L597.57,187.83 L598.14,188.16 L598.72,188.39 L599.29,188.56 L599.86,189 L600.43,189.1 L601,189.57 L601.57,189.71 L602.14,190.08 L602.72,190.75 L603.29,191.19 L603.86,190.54 L604.43,191.56 L605,191.88 L605.57,191.56 L606.14,191.8 L606.72,192.4 L607.29,192.25 L607.86,192.99 L608.43,193.18 L609,193.69 L609.57,192.99 L610.14,193.74 L610.72,193.79 L611.29,194.64 L611.86,194.29 L612.43,195.12 L613,195.02 L613.57,194.85 L614.14,194.84 L614.72,194.99 L615.29,195.62 L615.86,196.15 L616.43,195.87 L617,196.27 L617.57,196.13 L618.14,196.36 L618.72,196.18 L619.29,196.64 L619.86,197.01 L620.43,197 L621,197.37 L621.57,197.56 L622.14,197.74 L622.72,197.8 L623.29,198.04 L623.86,198.01 L624.43,198.56 L625,198.42 L625.57,198.27 L626.14,198.77 L626.72,198.97 L627.29,198.33 L627.86,199.08 L628.43,198.58 L629,199.2 L629.57,199.16 L630.14,199.17 L630.72,199.69 L631.29,199.84 L631.86,199.71 L632.43,199.85 L633,199.73 L633.57,200.16 L634.14,200.31 L634.72,200.16 L635.29,200.51 L635.86,200.65 L636.43,200.4 L637,200.67 L637.57,201.01 L638.14,200.49 L638.72,200.86 L639.29,201.48 L639.86,201.15 L640.43,200.74 L641,201.08 L641.57,201.33 L642.14,201.15 L642.72,201.46 L643.29,201.44 L643.86,201.3 L644.43,201.72 L645,201.02 L645.57,202.28 L646.14,202.05 L646.72,201.44 L647.29,201.65 L647.86,201.28 L648.43,201.67 L649,201.59 L649.57,201.76 L650.14,202.05 L650.72,202.54 L651.29,202.18 L651.86,202.03 L652.43,202.13 L653,202.5 L653.57,202.04 L654.14,202.46 L654.72,202.66 L655.29,202.42 L655.86,202.5 L656.43,202.85 L657,202.84 L657.57,202.57 L658.14,202.18 L658.72,203.38 L659.29,203.41 L659.86,202.99 L660.43,202.95 L661,202.65 L661.57,203.36 L662.14,202.88 L662.72,202.9 L663.29,202.78 L663.86,203.24 L664.43,203.32 L665,203.2" fill="none" stroke="#7d3f62" stroke-width="1.25" stroke-linejoin="round"/>
<path d="M437,150.29 L437.57,150.67 L438.14,151 L438.71,150.94 L439.29,151.42 L439.86,151.56 L440.43,151.44 L441,151.72 L441.57,151.58 L442.14,152 L442.71,151.47 L443.29,151.34 L443.86,151.34 L444.43,151.09 L445,150.91 L445.57,150.06 L446.14,150.09 L446.71,149.87 L447.29,149.46 L447.86,149.13 L448.43,148.36 L449,147.91 L449.57,147.59 L450.14,146.75 L450.71,145.49 L451.29,144.79 L451.86,143 L452.43,142.33 L453,141.64 L453.57,140.76 L454.14,140.72 L454.71,139.5 L455.29,139.26 L455.86,138.35 L456.43,137.93 L457,138.03 L457.57,137.15 L458.14,137.47 L458.71,137.41 L459.29,137.07 L459.86,137.21 L460.43,137.82 L461,137.84 L461.57,138.35 L462.14,138.79 L462.71,139.12 L463.29,139.26 L463.86,140.31 L464.43,140.24 L465,141.02 L465.57,141.38 L466.14,141.48 L466.71,142.22 L467.29,143.07 L467.86,143.25 L468.43,145.01 L469,145.51 L469.57,146.28 L470.14,147.97 L470.71,148.6 L471.29,149.94 L471.86,150.6 L472.43,151.98 L473,153.23 L473.57,154.92 L474.14,155.69 L474.71,156.22 L475.29,157.43 L475.86,158.74 L476.43,159.46 L477,160.74 L477.57,161.09 L478.14,162.26 L478.71,163.24 L479.29,163.98 L479.86,164.33 L480.43,165.78 L481,166.91 L481.57,166.33 L482.14,167.75 L482.71,168.43 L483.29,169.24 L483.86,169.19 L484.43,169.83 L485,170.25 L485.57,170.71 L486.14,170.94 L486.71,171.4 L487.29,171.86 L487.86,171.82 L488.43,172.31 L489,172.78 L489.57,172.78 L490.14,173.62 L490.71,173.28 L491.29,173.7 L491.86,174.1 L492.43,173.71 L493,173.49 L493.57,173.83 L494.14,174.13 L494.71,174.61 L495.29,174.89 L495.86,174.68 L496.43,174.84 L497,174.65 L497.57,174.29 L498.14,174.56 L498.71,174.71 L499.29,174.72 L499.86,175.25 L500.43,174.65 L501,174.8 L501.57,175.04 L502.14,174.86 L502.71,174.88 L503.29,174.64 L503.86,174.91 L504.43,174.44 L505,174.69 L505.57,174.78 L506.14,174.21 L506.71,174.58 L507.29,174.46 L507.86,174.67 L508.43,173.97 L509,174.2 L509.57,173.94 L510.14,174.05 L510.71,173.77 L511.29,174.06 L511.86,173.69 L512.43,173.76 L513,173.34 L513.57,172.88 L514.14,173.04 L514.71,172.74 L515.29,172.48 L515.86,171.89 L516.43,171.93 L517,172.4 L517.57,171.4 L518.14,172.04 L518.71,171.79 L519.29,171.14 L519.86,170.59 L520.43,171.04 L521,170.97 L521.57,170.54 L522.14,170.23 L522.71,169.72 L523.29,169.89 L523.86,169.84 L524.43,169.68 L525,169.36 L525.57,169.1 L526.14,169.34 L526.71,168.96 L527.29,168.55 L527.86,168 L528.43,168.33 L529,168.92 L529.57,168.34 L530.14,167.93 L530.71,167.99 L531.29,167.43 L531.86,167.68 L532.43,167.32 L533,167.18 L533.57,167.3 L534.14,167.17 L534.71,166.99 L535.29,167.06 L535.86,166.62 L536.43,166.69 L537,166.39 L537.57,166.57 L538.14,165.74 L538.71,165.94 L539.29,165.62 L539.86,166.1 L540.43,165.96 L541,165.68 L541.57,165.68 L542.14,165.67 L542.71,165.52 L543.29,165.62 L543.86,165.47 L544.43,165.96 L545,165.6 L545.57,166.89 L546.14,165.93 L546.71,166.18 L547.29,166.35 L547.86,166.34 L548.43,166.49 L549,166.5 L549.57,167.02 L550.14,167.07 L550.71,166.97 L551.29,167.39 L551.86,167.55 L552.43,167.48 L553,167.77 L553.57,168.18 L554.14,168.46 L554.72,168.32 L555.29,168.48 L555.86,168.75 L556.43,169.01 L557,169.46 L557.57,169.85 L558.14,169.89 L558.72,170.16 L559.29,170.54 L559.86,170.55 L560.43,170.09 L561,171.26 L561.57,171.47 L562.14,171.43 L562.72,172.08 L563.29,172.25 L563.86,172.53 L564.43,172.7 L565,172.74 L565.57,173.1 L566.14,173.92 L566.72,173.91 L567.29,174.39 L567.86,174.34 L568.43,174.87 L569,174.76 L569.57,174.84 L570.14,175.75 L570.72,175.94 L571.29,176.1 L571.86,176.82 L572.43,177.35 L573,177.15 L573.57,177.52 L574.14,178.43 L574.72,178.28 L575.29,178.72 L575.86,179.08 L576.43,179.22 L577,179.94 L577.57,180.25 L578.14,179.86 L578.72,180.34 L579.29,180.85 L579.86,181.11 L580.43,181.37 L581,181.75 L581.57,181.43 L582.14,182.53 L582.72,182.52 L583.29,183.3 L583.86,183.14 L584.43,183.15 L585,183.95 L585.57,184.46 L586.14,185 L586.72,184.58 L587.29,185.38 L587.86,185.45 L588.43,185.64 L589,186.39 L589.57,186.43 L590.14,186.39 L590.72,187.29 L591.29,187.44 L591.86,187.66 L592.43,188.4 L593,188.37 L593.57,188.3 L594.14,188.29 L594.72,189.37 L595.29,189.38 L595.86,189.57 L596.43,190.01 L597,190.36 L597.57,190.51 L598.14,190.82 L598.72,191.18 L599.29,191.26 L599.86,191.46 L600.43,192.27 L601,191.85 L601.57,192.17 L602.14,192.32 L602.72,193.1 L603.29,192.25 L603.86,192.99 L604.43,193.64 L605,193.13 L605.57,193.46 L606.14,193.98 L606.72,193.7 L607.29,194.09 L607.86,194.7 L608.43,194.8 L609,194.7 L609.57,194.56 L610.14,195.31 L610.72,194.99 L611.29,195.5 L611.86,195.92 L612.43,195.54 L613,196.31 L613.57,196.29 L614.14,196.97 L614.72,196.65 L615.29,196.49 L615.86,197.2 L616.43,197.43 L617,196.74 L617.57,197.13 L618.14,197.64 L618.72,197.6 L619.29,197.19 L619.86,198.16 L620.43,197.71 L621,197.96 L621.57,198.13 L622.14,198.38 L622.72,198.27 L623.29,198.85 L623.86,198.7 L624.43,198.47 L625,199 L625.57,199.03 L626.14,198.94 L626.72,199.74 L627.29,199.97 L627.86,199.13 L628.43,199.52 L629,199.58 L629.57,199.93 L630.14,199.89 L630.72,199.79 L631.29,200.12 L631.86,200.34 L632.43,200.52 L633,200.77 L633.57,201.11 L634.14,200.64 L634.72,200.74 L635.29,200.02 L635.86,200.94 L636.43,201.15 L637,200.4 L637.57,201.18 L638.14,201.14 L638.72,200.84 L639.29,200.9 L639.86,200.96 L640.43,201.11 L641,201.6 L641.57,201.58 L642.14,201.59 L642.72,201.34 L643.29,201.64 L643.86,201.32 L644.43,201.6 L645,201.63 L645.57,202.37 L646.14,201.77 L646.72,202.15 L647.29,201.67 L647.86,202 L648.43,201.81 L649,201.87 L649.57,202.25 L650.14,202.34 L650.72,201.9 L651.29,201.87 L651.86,202.5 L652.43,202.76 L653,202.13 L653.57,202.81 L654.14,202.47 L654.72,203.07 L655.29,202.25 L655.86,202.48 L656.43,202.74 L657,203 L657.57,203.47 L658.14,202.77 L658.72,202.61 L659.29,202.77 L659.86,203.23 L660.43,202.7 L661,202.85 L661.57,203.41 L662.14,203.48 L662.72,203.32 L663.29,202.75 L663.86,203.3 L664.43,202.68 L665,202.85" fill="none" stroke="#8f9c2c" stroke-width="1.25" stroke-linejoin="round"/>
<path d="M437,158.12 L437.57,157.67 L438.14,156.59 L438.71,157.36 L439.29,157 L439.86,156.89 L440.43,156.83 L441,156.69 L441.57,156.11 L442.14,155.75 L442.71,155.36 L443.29,154.93 L443.86,155.08 L444.43,154.62 L445,153.74 L445.57,153.47 L446.14,153.59 L446.71,152.87 L447.29,151.48 L447.86,151.75 L448.43,151.25 L449,150.59 L449.57,150 L450.14,149.77 L450.71,148.73 L451.29,147.22 L451.86,147.05 L452.43,145.99 L453,145.01 L453.57,145.05 L454.14,144.73 L454.71,144.66 L455.29,144.35 L455.86,143.59 L456.43,143.53 L457,143.44 L457.57,143.53 L458.14,142.87 L458.71,142.81 L459.29,143.32 L459.86,143.73 L460.43,144 L461,143.35 L461.57,143.59 L462.14,144.85 L462.71,145.03 L463.29,146.09 L463.86,146.24 L464.43,145.98 L465,146.8 L465.57,147.3 L466.14,148.13 L466.71,148.85 L467.29,149.24 L467.86,149.52 L468.43,150.47 L469,151.2 L469.57,152.06 L470.14,153.35 L470.71,154.05 L471.29,155.29 L471.86,156.3 L472.43,156.84 L473,158.31 L473.57,158.48 L474.14,159.76 L474.71,161.07 L475.29,161.7 L475.86,162.63 L476.43,162.82 L477,163.69 L477.57,164.61 L478.14,164.94 L478.71,166.17 L479.29,167.02 L479.86,167.96 L480.43,168.78 L481,169.06 L481.57,169.63 L482.14,170.54 L482.71,171.06 L483.29,171.71 L483.86,171.8 L484.43,172.7 L485,172.87 L485.57,173.62 L486.14,174.17 L486.71,174.71 L487.29,174.92 L487.86,174.83 L488.43,175.54 L489,175.26 L489.57,175.97 L490.14,176.66 L490.71,176.37 L491.29,176.81 L491.86,176.41 L492.43,176.97 L493,177.67 L493.57,177.58 L494.14,178.2 L494.71,178.43 L495.29,178.21 L495.86,178.22 L496.43,178.67 L497,178.37 L497.57,179.33 L498.14,178.8 L498.71,179.02 L499.29,179.63 L499.86,179.23 L500.43,179.56 L501,179.28 L501.57,180.16 L502.14,179.67 L502.71,180.05 L503.29,179.67 L503.86,179.5 L504.43,180.42 L505,180.5 L505.57,180.55 L506.14,180.64 L506.71,180.44 L507.29,180.95 L507.86,181.09 L508.43,180.97 L509,181.03 L509.57,180.69 L510.14,181.29 L510.71,181.36 L511.29,181.07 L511.86,181.12 L512.43,181.56 L513,181.4 L513.57,181.68 L514.14,181.09 L514.71,181.53 L515.29,181.48 L515.86,181.4 L516.43,181.52 L517,181.24 L517.57,180.99 L518.14,181.14 L518.71,180.6 L519.29,181.12 L519.86,181.6 L520.43,181.12 L521,181.24 L521.57,180.78 L522.14,181.07 L522.71,180.87 L523.29,181.32 L523.86,181.09 L524.43,180.82 L525,180.91 L525.57,180.77 L526.14,180.29 L526.71,181.04 L527.29,180.99 L527.86,180.25 L528.43,180.51 L529,180.72 L529.57,180.38 L530.14,180.19 L530.71,180.59 L531.29,180.07 L531.86,180.29 L532.43,179.79 L533,180.7 L533.57,179.51 L534.14,179.96 L534.71,179.53 L535.29,179.93 L535.86,179.54 L536.43,179.29 L537,179.48 L537.57,179.54 L538.14,179.55 L538.71,179.47 L539.29,178.98 L539.86,179.4 L540.43,178.88 L541,179.02 L541.57,179.05 L542.14,179.14 L542.71,179.05 L543.29,179.47 L543.86,178.74 L544.43,179.04 L545,178.59 L545.57,179.17 L546.14,179.21 L546.71,179.04 L547.29,179.18 L547.86,179.44 L548.43,179.74 L549,179.48 L549.57,179.49 L550.14,179.2 L550.71,179.27 L551.29,179.84 L551.86,179.43 L552.43,180.02 L553,180.03 L553.57,180.06 L554.14,180.29 L554.72,179.95 L555.29,179.84 L555.86,180.66 L556.43,180.39 L557,180.61 L557.57,180.59 L558.14,181 L558.72,180.62 L559.29,180.9 L559.86,181.05 L560.43,180.76 L561,181.63 L561.57,181.57 L562.14,181.48 L562.72,181.51 L563.29,181.89 L563.86,181.85 L564.43,181.77 L565,182.36 L565.57,182.52 L566.14,182.58 L566.72,183.43 L567.29,182.75 L567.86,182.92 L568.43,182.69 L569,183.78 L569.57,183.49 L570.14,183.63 L570.72,183.74 L571.29,184.44 L571.86,185.14 L572.43,184.46 L573,184.59 L573.57,184.78 L574.14,185.22 L574.72,185.46 L575.29,185.45 L575.86,185.87 L576.43,186.06 L577,185.92 L577.57,186.04 L578.14,186.68 L578.72,187.07 L579.29,187.04 L579.86,186.76 L580.43,187.22 L581,187.13 L581.57,187.34 L582.14,187.38 L582.72,187.99 L583.29,188.06 L583.86,188.06 L584.43,188.61 L585,188.97 L585.57,188.61 L586.14,188.7 L586.72,189.56 L587.29,189.39 L587.86,189.63 L588.43,189.9 L589,190.28 L589.57,190.62 L590.14,190.93 L590.72,190.55 L591.29,191.03 L591.86,191.08 L592.43,191.95 L593,191.39 L593.57,191.6 L594.14,191.98 L594.72,191.7 L595.29,192.41 L595.86,192.61 L596.43,193.11 L597,193.21 L597.57,193.09 L598.14,193.31 L598.72,193.26 L599.29,193.91 L599.86,193.78 L600.43,194.33 L601,194.29 L601.57,194.58 L602.14,195.18 L602.72,194.52 L603.29,195.14 L603.86,195.29 L604.43,195.17 L605,195.68 L605.57,195.78 L606.14,196.38 L606.72,195.83 L607.29,195.8 L607.86,196.25 L608.43,195.97 L609,196.01 L609.57,196.37 L610.14,196.78 L610.72,196.64 L611.29,196.77 L611.86,197.07 L612.43,196.94 L613,197.25 L613.57,197.83 L614.14,197.7 L614.72,197.72 L615.29,198.21 L615.86,198.38 L616.43,198.09 L617,198.09 L617.57,198.61 L618.14,198.3 L618.72,198.81 L619.29,198.99 L619.86,198.51 L620.43,198.82 L621,199.47 L621.57,199.52 L622.14,199.15 L622.72,199.51 L623.29,199.6 L623.86,199.85 L624.43,199.63 L625,199.02 L625.57,200.2 L626.14,199.39 L626.72,200.17 L627.29,200.35 L627.86,199.87 L628.43,200.26 L629,200.35 L629.57,200.05 L630.14,199.9 L630.72,200.41 L631.29,200.89 L631.86,200.97 L632.43,200.78 L633,200.55 L633.57,200.78 L634.14,200.88 L634.72,200.72 L635.29,201.7 L635.86,200.91 L636.43,201.2 L637,201.27 L637.57,201.22 L638.14,201.47 L638.72,201.74 L639.29,202.04 L639.86,201.45 L640.43,201.93 L641,201.67 L641.57,202.16 L642.14,201.75 L642.72,201.66 L643.29,201.94 L643.86,201.77 L644.43,202.12 L645,202.1 L645.57,201.95 L646.14,202.05 L646.72,201.96 L647.29,202.1 L647.86,201.9 L648.43,201.76 L649,202.07 L649.57,202.02 L650.14,202.23 L650.72,202.66 L651.29,202.17 L651.86,202.21 L652.43,202.79 L653,202.57 L653.57,202.99 L654.14,202.52 L654.72,202.24 L655.29,202.64 L655.86,202.91 L656.43,202.46 L657,202.65 L657.57,202.78 L658.14,202.64 L658.72,202.97 L659.29,202.64 L659.86,203.55 L660.43,202.87 L661,203.27 L661.57,202.98 L662.14,203.33 L662.72,203.6 L663.29,203.04 L663.86,203.59 L664.43,203.92 L665,203.35" fill="none" stroke="#f2702a" stroke-width="1.25" stroke-linejoin="round"/>
<line x1="437" y1="23.6" x2="437" y2="207.45" stroke="#111" stroke-width="1.5"/>
<line x1="436.25" y1="206.7" x2="665.3" y2="206.7" stroke="#111" stroke-width="1.5"/>
<line x1="447.69" y1="206.7" x2="447.69" y2="209.95" stroke="#111" stroke-width="1.1"/>
<line x1="486.88" y1="206.7" x2="486.88" y2="209.95" stroke="#111" stroke-width="1.1"/>
<line x1="526.06" y1="206.7" x2="526.06" y2="209.95" stroke="#111" stroke-width="1.1"/>
<line x1="565.25" y1="206.7" x2="565.25" y2="209.95" stroke="#111" stroke-width="1.1"/>
<line x1="604.44" y1="206.7" x2="604.44" y2="209.95" stroke="#111" stroke-width="1.1"/>
<line x1="643.63" y1="206.7" x2="643.63" y2="209.95" stroke="#111" stroke-width="1.1"/>
<line x1="467.28" y1="206.7" x2="467.28" y2="208.95" stroke="#111" stroke-width="0.9900000000000001"/>
<line x1="506.47" y1="206.7" x2="506.47" y2="208.95" stroke="#111" stroke-width="0.9900000000000001"/>
<line x1="545.66" y1="206.7" x2="545.66" y2="208.95" stroke="#111" stroke-width="0.9900000000000001"/>
<line x1="584.84" y1="206.7" x2="584.84" y2="208.95" stroke="#111" stroke-width="0.9900000000000001"/>
<line x1="624.03" y1="206.7" x2="624.03" y2="208.95" stroke="#111" stroke-width="0.9900000000000001"/>
<line x1="663.22" y1="206.7" x2="663.22" y2="208.95" stroke="#111" stroke-width="0.9900000000000001"/>
<line x1="437" y1="206.7" x2="433.75" y2="206.7" stroke="#111" stroke-width="1.1"/>
<line x1="437" y1="172.5" x2="433.75" y2="172.5" stroke="#111" stroke-width="1.1"/>
<line x1="437" y1="138.3" x2="433.75" y2="138.3" stroke="#111" stroke-width="1.1"/>
<line x1="437" y1="104.1" x2="433.75" y2="104.1" stroke="#111" stroke-width="1.1"/>
<line x1="437" y1="69.9" x2="433.75" y2="69.9" stroke="#111" stroke-width="1.1"/>
<line x1="437" y1="35.7" x2="433.75" y2="35.7" stroke="#111" stroke-width="1.1"/>
<line x1="437" y1="189.6" x2="434.75" y2="189.6" stroke="#111" stroke-width="0.9900000000000001"/>
<line x1="437" y1="155.4" x2="434.75" y2="155.4" stroke="#111" stroke-width="0.9900000000000001"/>
<line x1="437" y1="121.2" x2="434.75" y2="121.2" stroke="#111" stroke-width="0.9900000000000001"/>
<line x1="437" y1="87" x2="434.75" y2="87" stroke="#111" stroke-width="0.9900000000000001"/>
<line x1="437" y1="52.8" x2="434.75" y2="52.8" stroke="#111" stroke-width="0.9900000000000001"/>
<text x="431" y="212.1" font-size="15.3" text-anchor="end" >0</text>
<text x="431" y="177.9" font-size="15.3" text-anchor="end" >1500</text>
<text x="431" y="143.7" font-size="15.3" text-anchor="end" >3000</text>
<text x="431" y="109.5" font-size="15.3" text-anchor="end" >4500</text>
<text x="431" y="75.3" font-size="15.3" text-anchor="end" >6000</text>
<text x="431" y="41.1" font-size="15.3" text-anchor="end" >7500</text>
<text x="447.69" y="226.2" font-size="15.3" text-anchor="middle" >495</text>
<text x="486.88" y="226.2" font-size="15.3" text-anchor="middle" >550</text>
<text x="526.06" y="226.2" font-size="15.3" text-anchor="middle" >605</text>
<text x="565.25" y="226.2" font-size="15.3" text-anchor="middle" >660</text>
<text x="604.44" y="226.2" font-size="15.3" text-anchor="middle" >715</text>
<text x="643.63" y="226.2" font-size="15.3" text-anchor="middle" >770</text>
<text x="551" y="253.1" font-size="20.4" text-anchor="middle" >Wavelength (nm)</text>
<text transform="translate(390.9,115.3) rotate(-90)" font-size="20.4" text-anchor="middle">FL. intensity</text>
<text x="353.5" y="21.4" font-size="23.5" text-anchor="start" >(B)</text>
<text x="590" y="38.6" font-size="21.5" text-anchor="start" >220 µmol/L</text>
<text x="614.5" y="98.3" font-size="21.3" text-anchor="start" >+ONOO<tspan font-size="15" dy="-3">-</tspan></text>
<text x="606.8" y="152" font-size="21.5" text-anchor="start" >0 µmol/L</text>
<line x1="612.4" y1="51.5" x2="612.4" y2="127.5" stroke="#111" stroke-width="1.8"/>
<path d="M608.1,58.5 L612.4,50.5 L616.7,58.5" fill="none" stroke="#111" stroke-width="1.8"/>
<path d="M92.5,437.83 L93.31,437.96 L94.12,437.91 L94.92,437.07 L95.73,437.55 L96.54,437.33 L97.35,437.64 L98.16,437.13 L98.97,437.78 L99.77,437.69 L100.58,437.98 L101.39,437.98 L102.2,437.72 L103.01,437.3 L103.81,437.87 L104.62,437.57 L105.43,437.77 L106.24,438.07 L107.05,437.3 L107.86,437.73 L108.66,437.57 L109.47,437.89 L110.28,437.96 L111.09,437.95 L111.9,437.99 L112.7,437.7 L113.51,437.77 L114.32,437.91 L115.13,438 L115.94,437.94 L116.74,437.75 L117.55,437.92 L118.36,438.06 L119.17,437.74 L119.98,437.81 L120.79,438.19 L121.59,438.65 L122.4,438.14 L123.21,437.83 L124.02,438.53 L124.83,438.28 L125.63,437.9 L126.44,438.25 L127.25,438.3 L128.06,438.47 L128.87,438 L129.68,438.51 L130.48,438.16 L131.29,438.35 L132.1,437.99 L132.3,435.65 L132.7,429.48 L133.1,422.35 L133.5,413 L133.7,409.26 L134.33,397.38 L134.95,387.68 L135.58,381.97 L136.2,377.58 L136.83,375.85 L137.45,374.48 L138.08,372.4 L138.7,371.2 L139.33,369.25 L139.95,367.08 L140.58,365.87 L141.21,365.31 L141.83,363.52 L142.46,363.55 L143.08,362.56 L143.71,361 L144.33,360.63 L144.96,360.03 L145.58,358.68 L146.21,357.82 L146.83,357.97 L147.46,356.81 L148.08,355.74 L148.71,355.74 L149.34,355.03 L149.96,354.17 L150.59,353.34 L151.21,352.41 L151.84,351.53 L152.46,351.45 L153.09,350.69 L153.71,349.5 L154.34,348.94 L154.96,348.27 L155.59,347.67 L156.22,347.07 L156.84,346.78 L157.47,345.74 L158.09,345.31 L158.72,344.37 L159.34,343.91 L159.97,342.94 L160.59,342.52 L161.22,341.41 L161.84,340.48 L162.47,340.5 L163.09,339.22 L163.72,338.56 L164.35,338.55 L164.97,337.4 L165.6,336.81 L166.22,336.18 L166.85,335.55 L167.47,334.98 L168.1,333.98 L168.72,333.11 L169.35,332.91 L169.97,331.94 L170.6,331.15 L171.23,330.75 L171.85,330.08 L172.48,329.26 L173.1,327.99 L173.73,328.35 L174.35,327.12 L174.98,326.08 L175.6,325.89 L176.23,325.4 L176.85,324.67 L177.48,323.78 L178.1,323.11 L178.73,321.84 L179.36,320.92 L179.98,321.23 L180.61,320.28 L181.23,319.59 L181.86,318.45 L182.48,318.58 L183.11,317.31 L183.73,316.99 L184.36,315.73 L184.98,314.86 L185.61,314.77 L186.24,314.16 L186.86,313.05 L187.49,313.28 L188.11,311.83 L188.74,311.64 L189.36,310.89 L189.99,309.55 L190.61,309.35 L191.24,308.33 L191.86,307.92 L192.49,307.16 L193.11,306.77 L193.74,305.67 L194.37,305.35 L194.99,304.77 L195.62,304.24 L196.24,303.16 L196.87,302.97 L197.49,302.44 L198.12,301.99 L198.74,300.61 L199.37,300.22 L199.99,299.72 L200.62,299.6 L201.25,298.94 L201.87,298.68 L202.5,298.26 L203.12,298.13 L203.75,297.63 L204.37,296.82 L205,296.47 L205.62,295.64 L206.25,295.52 L206.87,295.25 L207.5,294.82 L208.12,295.13 L208.75,293.71 L209.38,293.94 L210,293.86 L210.63,293.87 L211.25,293.55 L211.88,292.85 L212.5,292.86 L213.13,293.07 L213.75,292.82 L214.38,292.91 L215,292.62 L215.63,292.27 L216.26,292.09 L216.88,292.22 L217.51,291.73 L218.13,291.72 L218.76,291.98 L219.38,291.5 L220.01,291.65 L220.63,290.83 L221.26,291.24 L221.88,291.42 L222.51,291.53 L223.13,291.35 L223.76,291.39 L224.39,291.16 L225.01,291.35 L225.64,291.57 L226.26,291.13 L226.89,291.02 L227.51,291.63 L228.14,291.83 L228.76,291.73 L229.39,291.21 L230.01,291.31 L230.64,291.27 L231.27,291.52 L231.89,291.58 L232.52,291.19 L233.14,291.53 L233.77,291.47 L234.39,291.75 L235.02,291.34 L235.64,291.47 L236.27,290.94 L236.89,291.28 L237.52,291.55 L238.14,291.08 L238.77,291.19 L239.4,291.4 L240.02,291.34 L240.65,291.2 L241.27,291.31 L241.9,291.6 L242.52,291.84 L243.15,291.74 L243.77,291.6 L244.4,291.89 L245.02,291.18 L245.65,291.87 L246.28,291.63 L246.9,291.6 L247.53,291.48 L248.15,291.66 L248.78,291.79 L249.4,291.54 L250.03,291.48 L250.65,291.85 L251.28,292.15 L251.9,292.07 L252.53,292.08 L253.15,291.65 L253.78,291.72 L254.41,291.76 L255.03,292.36 L255.66,291.79 L256.28,292.22 L256.91,292.15 L257.53,291.75 L258.16,292.09 L258.78,292.35 L259.41,292.2 L260.03,292.11 L260.66,292.34 L261.29,291.73 L261.91,291.98 L262.54,292.14 L263.16,292.33 L263.79,292.48 L264.41,292.03 L265.04,292.22 L265.66,292.53 L266.29,292.54 L266.91,292.11 L267.54,292.06 L268.16,292.22 L268.79,292.42 L269.42,291.75 L270.04,292.73 L270.67,292.35 L271.29,292.68 L271.92,292.82 L272.54,292.37 L273.17,292.13 L273.79,292.1 L274.42,292.96 L275.04,292.4 L275.67,292.58 L276.3,292.27 L276.92,292.51 L277.55,292.73 L278.17,292.82 L278.8,292.71 L279.42,292.48 L280.05,292.7 L280.67,292.71 L281.3,293.11 L281.92,292.68 L282.55,292.54 L283.17,292.98 L283.8,292.67 L284.43,293.26 L285.05,293.28 L285.68,292.88 L286.3,292.9 L286.93,293.19 L287.55,292.64 L288.18,293.33 L288.8,293.43 L289.43,293.18 L290.05,293.17 L290.68,293.01 L291.31,292.98 L291.93,293.32 L292.56,293.32 L293.18,293.12 L293.81,293.55 L294.43,293.23 L295.06,293.59 L295.68,293.12 L296.31,293.47 L296.93,293.57 L297.56,293.69 L298.18,293.39 L298.81,293.5 L299.44,293.54 L300.06,293.81 L300.69,293.33 L301.31,293.52 L301.94,293.15 L302.56,294.04 L303.19,293.7 L303.81,293.59 L304.44,293.67 L305.06,293.91 L305.69,293.66 L306.32,293.83 L306.94,293.43 L307.57,293.49 L308.19,294.13 L308.82,293.87 L309.44,293.47 L310.07,293.93 L310.69,294.12 L311.32,294.34 L311.94,293.77 L312.57,294.04 L313.19,293.81 L313.82,293.62 L314.45,293.82 L315.07,294.08 L315.7,293.99 L316.32,294.09 L316.95,294.07 L317.57,294.3 L318.2,294.87 L318.82,294.52 L319.45,294.72 L320.07,295.05 L320.7,294.3" fill="none" stroke="#d42030" stroke-width="2.0" stroke-linejoin="round"/>
<line x1="92.5" y1="270.7" x2="92.5" y2="455.75" stroke="#111" stroke-width="1.5"/>
<line x1="91.75" y1="455" x2="321" y2="455" stroke="#111" stroke-width="1.5"/>
<line x1="92.5" y1="455" x2="92.5" y2="458.25" stroke="#111" stroke-width="1.1"/>
<line x1="138.2" y1="455" x2="138.2" y2="458.25" stroke="#111" stroke-width="1.1"/>
<line x1="183.9" y1="455" x2="183.9" y2="458.25" stroke="#111" stroke-width="1.1"/>
<line x1="229.6" y1="455" x2="229.6" y2="458.25" stroke="#111" stroke-width="1.1"/>
<line x1="275.3" y1="455" x2="275.3" y2="458.25" stroke="#111" stroke-width="1.1"/>
<line x1="321" y1="455" x2="321" y2="458.25" stroke="#111" stroke-width="1.1"/>
<line x1="115.35" y1="455" x2="115.35" y2="457.25" stroke="#111" stroke-width="0.9900000000000001"/>
<line x1="161.05" y1="455" x2="161.05" y2="457.25" stroke="#111" stroke-width="0.9900000000000001"/>
<line x1="206.75" y1="455" x2="206.75" y2="457.25" stroke="#111" stroke-width="0.9900000000000001"/>
<line x1="252.45" y1="455" x2="252.45" y2="457.25" stroke="#111" stroke-width="0.9900000000000001"/>
<line x1="298.15" y1="455" x2="298.15" y2="457.25" stroke="#111" stroke-width="0.9900000000000001"/>
<line x1="92.5" y1="421.81" x2="89.25" y2="421.81" stroke="#111" stroke-width="1.1"/>
<line x1="92.5" y1="371.44" x2="89.25" y2="371.44" stroke="#111" stroke-width="1.1"/>
<line x1="92.5" y1="321.07" x2="89.25" y2="321.07" stroke="#111" stroke-width="1.1"/>
<line x1="92.5" y1="270.7" x2="89.25" y2="270.7" stroke="#111" stroke-width="1.1"/>
<line x1="92.5" y1="447" x2="90.25" y2="447" stroke="#111" stroke-width="0.9900000000000001"/>
<line x1="92.5" y1="396.62" x2="90.25" y2="396.62" stroke="#111" stroke-width="0.9900000000000001"/>
<line x1="92.5" y1="346.25" x2="90.25" y2="346.25" stroke="#111" stroke-width="0.9900000000000001"/>
<line x1="92.5" y1="295.88" x2="90.25" y2="295.88" stroke="#111" stroke-width="0.9900000000000001"/>
<text x="86" y="427.11" font-size="15.7" text-anchor="end" >1500</text>
<text x="86" y="376.74" font-size="15.7" text-anchor="end" >3000</text>
<text x="86" y="326.37" font-size="15.7" text-anchor="end" >4500</text>
<text x="86" y="276" font-size="15.7" text-anchor="end" >6000</text>
<text x="92.5" y="473.5" font-size="15.3" text-anchor="middle" >0</text>
<text x="138.2" y="473.5" font-size="15.3" text-anchor="middle" >100</text>
<text x="183.9" y="473.5" font-size="15.3" text-anchor="middle" >200</text>
<text x="229.6" y="473.5" font-size="15.3" text-anchor="middle" >300</text>
<text x="275.3" y="473.5" font-size="15.3" text-anchor="middle" >400</text>
<text x="321" y="473.5" font-size="15.3" text-anchor="middle" >500</text>
<text x="206.3" y="501.3" font-size="20.4" text-anchor="middle" >Time (s)</text>
<text transform="translate(44.6,364) rotate(-90)" font-size="20.7" text-anchor="middle">FL. intensity</text>
<text x="9.5" y="256.6" font-size="23.5" text-anchor="start" >(C)</text>
<text x="149.3" y="413" font-size="21" text-anchor="start" >+ 150 µmol/L ONOO<tspan font-size="15" dy="-3">-</tspan></text>
<line x1="205.5" y1="420.8" x2="138" y2="437.6" stroke="#111" stroke-width="1.8"/>
<path d="M145.5,432.5 L137,437.9 L146.2,441" fill="none" stroke="#111" stroke-width="1.8"/>
<line x1="437" y1="276.5" x2="437" y2="456.8" stroke="#111" stroke-width="1.6"/>
<line x1="436.2" y1="456" x2="648" y2="456" stroke="#111" stroke-width="1.6"/>
<line x1="437" y1="456" x2="437" y2="459.3" stroke="#111" stroke-width="1.1"/>
<line x1="479.1" y1="456" x2="479.1" y2="459.3" stroke="#111" stroke-width="1.1"/>
<line x1="521.2" y1="456" x2="521.2" y2="459.3" stroke="#111" stroke-width="1.1"/>
<line x1="563.3" y1="456" x2="563.3" y2="459.3" stroke="#111" stroke-width="1.1"/>
<line x1="605.4" y1="456" x2="605.4" y2="459.3" stroke="#111" stroke-width="1.1"/>
<line x1="647.5" y1="456" x2="647.5" y2="459.3" stroke="#111" stroke-width="1.1"/>
<line x1="458.05" y1="456" x2="458.05" y2="458.3" stroke="#111" stroke-width="0.9900000000000001"/>
<line x1="500.15" y1="456" x2="500.15" y2="458.3" stroke="#111" stroke-width="0.9900000000000001"/>
<line x1="542.25" y1="456" x2="542.25" y2="458.3" stroke="#111" stroke-width="0.9900000000000001"/>
<line x1="584.35" y1="456" x2="584.35" y2="458.3" stroke="#111" stroke-width="0.9900000000000001"/>
<line x1="626.45" y1="456" x2="626.45" y2="458.3" stroke="#111" stroke-width="0.9900000000000001"/>
<line x1="437" y1="430.75" x2="433.7" y2="430.75" stroke="#111" stroke-width="1.1"/>
<line x1="437" y1="395.2" x2="433.7" y2="395.2" stroke="#111" stroke-width="1.1"/>
<line x1="437" y1="359.65" x2="433.7" y2="359.65" stroke="#111" stroke-width="1.1"/>
<line x1="437" y1="324.1" x2="433.7" y2="324.1" stroke="#111" stroke-width="1.1"/>
<line x1="437" y1="288.55" x2="433.7" y2="288.55" stroke="#111" stroke-width="1.1"/>
<line x1="437" y1="448.53" x2="434.7" y2="448.53" stroke="#111" stroke-width="0.9900000000000001"/>
<line x1="437" y1="412.98" x2="434.7" y2="412.98" stroke="#111" stroke-width="0.9900000000000001"/>
<line x1="437" y1="377.43" x2="434.7" y2="377.43" stroke="#111" stroke-width="0.9900000000000001"/>
<line x1="437" y1="341.88" x2="434.7" y2="341.88" stroke="#111" stroke-width="0.9900000000000001"/>
<line x1="437" y1="306.33" x2="434.7" y2="306.33" stroke="#111" stroke-width="0.9900000000000001"/>
<text x="431.5" y="435.65" font-size="14.8" text-anchor="end" >1500</text>
<text x="431.5" y="400.1" font-size="14.8" text-anchor="end" >3000</text>
<text x="431.5" y="364.55" font-size="14.8" text-anchor="end" >4500</text>
<text x="431.5" y="329" font-size="14.8" text-anchor="end" >6000</text>
<text x="431.5" y="293.45" font-size="14.8" text-anchor="end" >7500</text>
<text x="437" y="473" font-size="14.3" text-anchor="middle" >0</text>
<text x="479.1" y="473" font-size="14.3" text-anchor="middle" >50</text>
<text x="521.2" y="473" font-size="14.3" text-anchor="middle" >100</text>
<text x="563.3" y="473" font-size="14.3" text-anchor="middle" >150</text>
<text x="605.4" y="473" font-size="14.3" text-anchor="middle" >200</text>
<text x="647.5" y="473" font-size="14.3" text-anchor="middle" >250</text>
<text x="546.3" y="498.9" font-size="19.2" text-anchor="middle" >C/µmol/L</text>
<text transform="translate(395.4,372) rotate(-90)" font-size="19.5" text-anchor="middle">FL. intensity at 625 nm</text>
<text x="360.5" y="252.7" font-size="23.5" text-anchor="start" >(D)</text>
<line x1="445.42" y1="439.36" x2="622.24" y2="286.89" stroke="#e02a2a" stroke-width="1.8"/>
<rect x="443.42" y="434.68" width="4" height="4" fill="#1a1ae6"/>
<rect x="451.84" y="430.72" width="4" height="4" fill="#1a1ae6"/>
<rect x="468.68" y="421.64" width="4" height="4" fill="#1a1ae6"/>
<rect x="485.52" y="408.2" width="4" height="4" fill="#1a1ae6"/>
<rect x="502.36" y="390.43" width="4" height="4" fill="#1a1ae6"/>
<rect x="519.2" y="365.54" width="4" height="4" fill="#1a1ae6"/>
<rect x="536.04" y="349.36" width="4" height="4" fill="#1a1ae6"/>
<rect x="552.88" y="339.47" width="4" height="4" fill="#1a1ae6"/>
<rect x="569.72" y="329.21" width="4" height="4" fill="#1a1ae6"/>
<rect x="586.56" y="313.99" width="4" height="4" fill="#1a1ae6"/>
<rect x="603.4" y="302.14" width="4" height="4" fill="#1a1ae6"/>
<rect x="620.24" y="293.26" width="4" height="4" fill="#1a1ae6"/>
<text x="446.5" y="289.7" font-size="21.5" text-anchor="start" >y=830.4371+30.6351x</text>
<text x="447" y="314.7" font-size="21.2" text-anchor="start" >R<tspan font-size="11.5" dy="-7">2</tspan><tspan dy="7" font-size="21.8">=0.9896</tspan></text>
<text x="448.2" y="340.3" font-size="21.2" text-anchor="start" >LOD=3.5 µmol/L</text>
<path d="M97.6,670.78 L98.1,670.28 L98.6,669.62 L99.1,669.47 L99.6,668.47 L100.1,667.98 L100.6,667.68 L101.1,666.75 L101.6,666.35 L102.1,665.83 L102.6,664.94 L103.1,664.65 L103.6,663.92 L104.1,663.24 L104.6,662.49 L105.1,661.68 L105.6,661.54 L106.1,660.42 L106.6,659.8 L107.1,659.15 L107.6,658.45 L108.1,657.88 L108.6,656.94 L109.09,656.36 L109.59,655.82 L110.09,654.73 L110.59,654.18 L111.09,653.21 L111.59,652.66 L112.09,651.97 L112.59,651 L113.09,650.72 L113.59,649.33 L114.09,649.01 L114.59,647.97 L115.09,647.25 L115.59,646.2 L116.09,645.66 L116.59,644.81 L117.09,643.6 L117.59,643.03 L118.09,642.18 L118.59,641.52 L119.09,640.29 L119.59,639.79 L120.09,638.85 L120.59,638.19 L121.09,636.8 L121.59,636.33 L122.09,634.78 L122.59,634.13 L123.09,633.39 L123.59,632.33 L124.09,631.75 L124.59,630.59 L125.09,629.76 L125.59,628.8 L126.09,627.99 L126.59,626.79 L127.09,626.15 L127.59,624.98 L128.09,624.14 L128.59,623.21 L129.09,622.24 L129.59,621.05 L130.09,620.14 L130.59,619.18 L131.09,618.37 L131.58,617.4 L132.08,616 L132.58,615.04 L133.08,614.57 L133.58,613.22 L134.08,612.49 L134.58,611.23 L135.08,610.39 L135.58,609.29 L136.08,607.94 L136.58,607.21 L137.08,606.05 L137.58,604.74 L138.08,603.1 L138.58,602.06 L139.08,601.03 L139.58,599.85 L140.08,598.27 L140.58,596.68 L141.08,595.7 L141.58,594.76 L142.08,593.26 L142.58,592.45 L143.08,590.95 L143.58,590.14 L144.08,588.5 L144.58,587.59 L145.08,586.66 L145.58,585.3 L146.08,585.06 L146.58,583.65 L147.08,582.36 L147.58,581.56 L148.08,580.46 L148.58,579.55 L149.08,578.9 L149.58,577.79 L150.08,577.16 L150.58,575.94 L151.08,575.22 L151.58,574.28 L152.08,573.49 L152.58,572.32 L153.08,571.57 L153.58,570.66 L154.07,569.42 L154.57,568.93 L155.07,567.93 L155.57,566.82 L156.07,566.19 L156.57,565.33 L157.07,564.18 L157.57,563.45 L158.07,562.73 L158.57,561.66 L159.07,560.73 L159.57,559.82 L160.07,558.83 L160.57,558.33 L161.07,557.27 L161.57,556.3 L162.07,555.12 L162.57,554.82 L163.07,553.9 L163.57,553.19 L164.07,552.46 L164.57,551.67 L165.07,551.05 L165.57,550.44 L166.07,549.49 L166.57,548.95 L167.07,548.14 L167.57,547.75 L168.07,546.95 L168.57,546.35 L169.07,545.87 L169.57,545.25 L170.07,544.58 L170.57,544.19 L171.07,543.74 L171.57,543.07 L172.07,542.46 L172.57,542.26 L173.07,541.55 L173.57,540.88 L174.07,540.36 L174.57,539.99 L175.07,539.74 L175.57,539.28 L176.07,538.71 L176.56,537.92 L177.06,537.64 L177.56,537.53 L178.06,537.06 L178.56,536.59 L179.06,536.37 L179.56,535.87 L180.06,535.7 L180.56,535.48 L181.06,535.01 L181.56,535.13 L182.06,534.69 L182.56,534.69 L183.06,534.23 L183.56,534.5 L184.06,534.48 L184.56,533.84 L185.06,533.92 L185.56,533.49 L186.06,533.85 L186.56,533.15 L187.06,533.2 L187.56,533.04 L188.06,533.32 L188.56,532.72 L189.06,532.88 L189.56,532.92 L190.06,532.71 L190.56,532.52 L191.06,532.62 L191.56,532.45 L192.06,532.64 L192.56,532.63 L193.06,532.59 L193.56,532.74 L194.06,532.54 L194.56,532.61 L195.06,532.76 L195.56,532.88 L196.06,532.77 L196.56,533.02 L197.06,533.11 L197.56,533.09 L198.06,533.14 L198.56,533.17 L199.05,533.57 L199.55,533.3 L200.05,533.81 L200.55,533.56 L201.05,533.45 L201.55,533.94 L202.05,533.95 L202.55,533.95 L203.05,534.12 L203.55,534.22 L204.05,534.5 L204.55,534.3 L205.05,534.45 L205.55,534.99 L206.05,535 L206.55,535.02 L207.05,535.47 L207.55,535.27 L208.05,535.89 L208.55,535.55 L209.05,535.91 L209.55,536.07 L210.05,536.47 L210.55,536.51 L211.05,536.68 L211.55,536.9 L212.05,537.17 L212.55,537.39 L213.05,537.32 L213.55,537.56 L214.05,537.93 L214.55,537.84 L215.05,538.07 L215.55,538.68 L216.05,538.96 L216.55,539.09 L217.05,539.3 L217.55,539.56 L218.05,540.06 L218.55,540.64 L219.05,540.59 L219.55,541.06 L220.05,541.31 L220.55,541.65 L221.05,542.21 L221.55,542.2 L222.04,542.8 L222.54,543.41 L223.04,543.85 L223.54,544.06 L224.04,545.19 L224.54,545.88 L225.04,545.93 L225.54,546.82 L226.04,547.37 L226.54,547.97 L227.04,548.38 L227.54,549.44 L228.04,550.07 L228.54,550.55 L229.04,551.61 L229.54,552.05 L230.04,553.09 L230.54,553.66 L231.04,554.31 L231.54,555.51 L232.04,556.17 L232.54,556.84 L233.04,557.36 L233.54,558.29 L234.04,559.32 L234.54,560.02 L235.04,560.93 L235.54,562.1 L236.04,563.1 L236.54,563.89 L237.04,565.4 L237.54,566.45 L238.04,568.06 L238.54,568.99 L239.04,570.33 L239.54,571.64 L240.04,573.33 L240.54,574.65 L241.04,576.25 L241.54,577.95 L242.04,579.55 L242.54,580.89 L243.04,582.34 L243.54,583.89 L244.04,585.26 L244.53,587.2 L245.03,588.58 L245.53,589.76 L246.03,591.3 L246.53,592.95 L247.03,594.92 L247.53,596.01 L248.03,597.9 L248.53,599.66 L249.03,601.22 L249.53,603.21 L250.03,605.46 L250.53,607.4 L251.03,609.02 L251.53,611.53 L252.03,613.73 L252.53,616.3 L253.03,618.35 L253.53,621.13 L254.03,623.86 L254.53,626.23 L255.03,629.13 L255.53,631.84 L256.03,634.62 L256.53,637.08 L257.03,640.23 L257.53,642.37 L258.03,644.46 L258.53,646.82 L259.03,649 L259.53,651.37 L260.03,653.45 L260.53,655.61 L261.03,657.51 L261.53,659.26 L262.03,661.17 L262.53,663.17 L263.03,664.96 L263.53,666.28 L264.03,668.05 L264.53,669.84 L265.03,671.06 L265.53,672.62 L266.03,673.8 L266.53,675.46 L267.02,676.45 L267.52,677.62 L268.02,678.95 L268.52,679.95 L269.02,681.1 L269.52,682.31 L270.02,683.07 L270.52,684.04 L271.02,685.19 L271.52,685.74 L272.02,686.53 L272.52,687.48 L273.02,687.79 L273.52,688.87 L274.02,689.23 L274.52,689.7 L275.02,690.27 L275.52,690.71 L276.02,691.43 L276.52,691.63 L277.02,691.78 L277.52,692.43 L278.02,693.05 L278.52,693.25 L279.02,693.54 L279.52,693.8 L280.02,694.53 L280.52,694.55 L281.02,695.07 L281.52,694.9 L282.02,695.5 L282.52,695.67 L283.02,696.04 L283.52,696.35 L284.02,696.47 L284.52,696.81 L285.02,697.13 L285.52,697.1 L286.02,697.01 L286.52,697.52 L287.02,697.32 L287.52,697.54 L288.02,697.81 L288.52,697.72 L289.02,697.74 L289.51,697.79 L290.01,697.67 L290.51,697.86 L291.01,697.77 L291.51,698.12 L292.01,698 L292.51,698.13 L293.01,698.36 L293.51,698.35 L294.01,698.3 L294.51,698.43 L295.01,698.44 L295.51,698.34 L296.01,698.48 L296.51,698.6 L297.01,698.36 L297.51,698.47 L298.01,698.16 L298.51,698.31 L299.01,698.49 L299.51,698.4 L300.01,698.53 L300.51,698.45 L301.01,698.47 L301.51,698.5 L302.01,698.4 L302.51,698.6 L303.01,698.39 L303.51,698.54 L304.01,698.6 L304.51,698.56 L305.01,698.43 L305.51,698.45 L306.01,698.6 L306.51,698.6 L307.01,698.43 L307.51,698.44 L308.01,698.6 L308.51,698.41 L309.01,698.6 L309.51,698.6 L310.01,698.45 L310.51,698.53 L311.01,698.51 L311.51,698.51 L312,698.6 L312.5,698.27 L313,698.6 L313.5,698.6 L314,698.44 L314.5,698.31 L315,698.6 L315.5,698.3 L316,698.6 L316.5,698.6 L317,698.38 L317.5,698.6 L318,698.32 L318.5,698.28 L319,698.37 L319.5,698.45 L320,698.6 L320.5,698.38 L321,698.6 L321.5,698.6 L322,698.6 L322.5,698.6 L323,698.46" fill="none" stroke="#3a3a3a" stroke-width="1.6" stroke-linejoin="round"/>
<path d="M97.6,678.05 L98.1,677.79 L98.6,677.39 L99.1,677.28 L99.6,676.36 L100.1,675.88 L100.6,675.5 L101.1,675.08 L101.6,674.88 L102.1,674.56 L102.6,674.43 L103.1,673.69 L103.6,673.13 L104.1,672.85 L104.6,672.75 L105.1,671.87 L105.6,671.37 L106.1,671.18 L106.6,670.78 L107.1,670.34 L107.6,669.87 L108.1,669.49 L108.6,669.18 L109.09,668.73 L109.59,668.12 L110.09,667.54 L110.59,666.85 L111.09,666.41 L111.59,665.79 L112.09,665.46 L112.59,665.1 L113.09,664.73 L113.59,663.87 L114.09,663.84 L114.59,663.06 L115.09,662.25 L115.59,662.14 L116.09,661.41 L116.59,660.91 L117.09,660.54 L117.59,659.84 L118.09,659.53 L118.59,659.03 L119.09,658.69 L119.59,657.8 L120.09,657.23 L120.59,657.39 L121.09,656.29 L121.59,656.12 L122.09,655.34 L122.59,654.78 L123.09,654.71 L123.59,653.96 L124.09,653.2 L124.59,652.71 L125.09,652.36 L125.59,651.67 L126.09,651.26 L126.59,650.57 L127.09,650.06 L127.59,649.59 L128.09,648.96 L128.59,648.19 L129.09,647.89 L129.59,647.12 L130.09,646.64 L130.59,646.04 L131.09,645.33 L131.58,645.25 L132.08,644.02 L132.58,643.87 L133.08,642.79 L133.58,642.27 L134.08,641.84 L134.58,641.01 L135.08,640.35 L135.58,639.95 L136.08,639.02 L136.58,638.4 L137.08,637.48 L137.58,636.71 L138.08,635.95 L138.58,635.48 L139.08,633.85 L139.58,633.71 L140.08,632.95 L140.58,631.77 L141.08,631.32 L141.58,630.44 L142.08,629.51 L142.58,628.92 L143.08,627.87 L143.58,627.53 L144.08,626.21 L144.58,625.4 L145.08,624.7 L145.58,623.93 L146.08,623.2 L146.58,622.28 L147.08,621.36 L147.58,620.01 L148.08,619.51 L148.58,618.7 L149.08,618 L149.58,616.78 L150.08,616.18 L150.58,615.19 L151.08,614.3 L151.58,613.64 L152.08,612.84 L152.58,612.16 L153.08,611.4 L153.58,610.89 L154.07,610.21 L154.57,609.23 L155.07,609.08 L155.57,608.45 L156.07,607.78 L156.57,607.1 L157.07,606.87 L157.57,605.93 L158.07,605.53 L158.57,604.82 L159.07,604.54 L159.57,604.25 L160.07,603.51 L160.57,603.3 L161.07,602.56 L161.57,602.42 L162.07,602.23 L162.57,601.5 L163.07,601.16 L163.57,601.02 L164.07,600.66 L164.57,600.12 L165.07,599.84 L165.57,599.48 L166.07,599.32 L166.57,598.94 L167.07,598.55 L167.57,598.05 L168.07,597.58 L168.57,597.18 L169.07,597.26 L169.57,597.39 L170.07,596.6 L170.57,596.29 L171.07,595.75 L171.57,595.47 L172.07,594.83 L172.57,594.65 L173.07,594.03 L173.57,593.96 L174.07,593.24 L174.57,593.26 L175.07,592.69 L175.57,592.42 L176.07,591.99 L176.56,591.29 L177.06,590.94 L177.56,591 L178.06,590.53 L178.56,590.26 L179.06,590.15 L179.56,589.57 L180.06,589.42 L180.56,588.79 L181.06,588.39 L181.56,588.25 L182.06,587.94 L182.56,587.69 L183.06,587.49 L183.56,587.22 L184.06,587.03 L184.56,586.45 L185.06,586.14 L185.56,586.08 L186.06,585.89 L186.56,585.55 L187.06,585.3 L187.56,585.35 L188.06,584.87 L188.56,584.37 L189.06,584.26 L189.56,584.44 L190.06,584.11 L190.56,583.51 L191.06,583.43 L191.56,583.49 L192.06,583.2 L192.56,583.2 L193.06,582.78 L193.56,582.83 L194.06,582.76 L194.56,582.69 L195.06,582.48 L195.56,582.33 L196.06,582.21 L196.56,582.21 L197.06,582.13 L197.56,581.77 L198.06,581.66 L198.56,581.71 L199.05,581.4 L199.55,581.46 L200.05,581.84 L200.55,581.42 L201.05,581.16 L201.55,581.08 L202.05,580.98 L202.55,580.85 L203.05,580.93 L203.55,581.06 L204.05,581.06 L204.55,580.99 L205.05,580.47 L205.55,580.85 L206.05,580.65 L206.55,580.82 L207.05,580.79 L207.55,580.76 L208.05,580.64 L208.55,580.89 L209.05,580.96 L209.55,581.12 L210.05,581.13 L210.55,581.04 L211.05,581.58 L211.55,581.71 L212.05,581.48 L212.55,581.42 L213.05,582.2 L213.55,582.21 L214.05,582.18 L214.55,581.9 L215.05,582.63 L215.55,582.66 L216.05,582.49 L216.55,582.31 L217.05,583.15 L217.55,582.91 L218.05,583.19 L218.55,583.44 L219.05,583.66 L219.55,583.57 L220.05,583.88 L220.55,583.98 L221.05,584.06 L221.55,584.36 L222.04,584.4 L222.54,584.58 L223.04,584.79 L223.54,584.75 L224.04,585.13 L224.54,585.28 L225.04,585.86 L225.54,585.74 L226.04,586.66 L226.54,586.65 L227.04,586.96 L227.54,587.09 L228.04,587.61 L228.54,588.4 L229.04,588.52 L229.54,588.65 L230.04,589.53 L230.54,590.12 L231.04,590.19 L231.54,590.72 L232.04,591.48 L232.54,591.24 L233.04,592.38 L233.54,592.53 L234.04,593.24 L234.54,593.91 L235.04,594.38 L235.54,594.89 L236.04,595.61 L236.54,595.86 L237.04,596.66 L237.54,597.16 L238.04,598.07 L238.54,598.67 L239.04,599.4 L239.54,600.26 L240.04,601.52 L240.54,602.01 L241.04,603.14 L241.54,604.16 L242.04,605.46 L242.54,606.6 L243.04,608.02 L243.54,609.43 L244.04,611.39 L244.53,612.65 L245.03,614.08 L245.53,615.53 L246.03,617.45 L246.53,619.59 L247.03,621.07 L247.53,623.12 L248.03,624.86 L248.53,626.65 L249.03,628.4 L249.53,630.21 L250.03,631.92 L250.53,633.56 L251.03,635.36 L251.53,637.16 L252.03,638.66 L252.53,639.83 L253.03,641.75 L253.53,643.24 L254.03,644.58 L254.53,646.36 L255.03,647.84 L255.53,649.6 L256.03,650.42 L256.53,652.49 L257.03,653.72 L257.53,655.51 L258.03,657.15 L258.53,658.89 L259.03,660.22 L259.53,661.59 L260.03,663.42 L260.53,664.89 L261.03,666.51 L261.53,667.29 L262.03,669.23 L262.53,670.1 L263.03,672.07 L263.53,673.37 L264.03,674.53 L264.53,676.03 L265.03,677.23 L265.53,678.58 L266.03,679.79 L266.53,680.66 L267.02,681.68 L267.52,682.61 L268.02,683.96 L268.52,684.67 L269.02,685.56 L269.52,686.58 L270.02,687.18 L270.52,688.03 L271.02,688.8 L271.52,689.66 L272.02,689.93 L272.52,690.49 L273.02,691.13 L273.52,691.61 L274.02,692.05 L274.52,692.75 L275.02,692.92 L275.52,693.71 L276.02,693.9 L276.52,694.06 L277.02,694.33 L277.52,694.76 L278.02,695.34 L278.52,695.23 L279.02,695.21 L279.52,695.6 L280.02,696.4 L280.52,695.8 L281.02,696.07 L281.52,696.28 L282.02,696.3 L282.52,696.77 L283.02,696.52 L283.52,696.72 L284.02,696.92 L284.52,697.03 L285.02,696.96 L285.52,697.12 L286.02,697.15 L286.52,696.63 L287.02,697.45 L287.52,697.43 L288.02,697.43 L288.52,697.69 L289.02,697.26 L289.51,697.88 L290.01,697.6 L290.51,697.59 L291.01,697.63 L291.51,697.94 L292.01,697.81 L292.51,698.1 L293.01,697.76 L293.51,698.27 L294.01,698.06 L294.51,698.46 L295.01,698.24 L295.51,698.12 L296.01,698.18 L296.51,697.91 L297.01,698.24 L297.51,698.07 L298.01,698.2 L298.51,698.6 L299.01,698.17 L299.51,698.48 L300.01,698.48 L300.51,698.34 L301.01,698.39 L301.51,698.29 L302.01,698.6 L302.51,698.54 L303.01,698.6 L303.51,698.13 L304.01,698.43 L304.51,698.26 L305.01,698.6 L305.51,698.42 L306.01,698.34 L306.51,698.5 L307.01,698.52 L307.51,698.48 L308.01,698.6 L308.51,698.6 L309.01,698.55 L309.51,698.6 L310.01,698.46 L310.51,698.28 L311.01,698.53 L311.51,698.11 L312,698.6 L312.5,698.47 L313,698.21 L313.5,698.58 L314,698.6 L314.5,698.44 L315,698.54 L315.5,698.6 L316,698.36 L316.5,698.6 L317,698.51 L317.5,698.6 L318,698.6 L318.5,698.57 L319,698.6 L319.5,698.31 L320,698.34 L320.5,698.6 L321,698.47 L321.5,698.48 L322,698.6 L322.5,698.6 L323,698.6" fill="none" stroke="#e8202a" stroke-width="1.6" stroke-linejoin="round"/>
<path d="M97.6,681.85 L98.1,681.52 L98.6,681.2 L99.1,680.63 L99.6,680.37 L100.1,680.05 L100.6,679.93 L101.1,679.78 L101.6,679.83 L102.1,679.04 L102.6,678.99 L103.1,678.46 L103.6,678.22 L104.1,677.58 L104.6,678 L105.1,677.24 L105.6,676.83 L106.1,676.47 L106.6,675.81 L107.1,675.83 L107.6,675.34 L108.1,675.03 L108.6,674.75 L109.09,674.18 L109.59,673.53 L110.09,673.14 L110.59,672.51 L111.09,672.79 L111.59,671.68 L112.09,671.75 L112.59,670.95 L113.09,670.75 L113.59,670.3 L114.09,669.73 L114.59,669.69 L115.09,669.27 L115.59,668.78 L116.09,668.55 L116.59,668.34 L117.09,667.45 L117.59,667.21 L118.09,666.7 L118.59,666.45 L119.09,666.19 L119.59,665.85 L120.09,665.57 L120.59,665.51 L121.09,665.03 L121.59,664.46 L122.09,664.3 L122.59,663.75 L123.09,663.7 L123.59,663.1 L124.09,662.82 L124.59,662.25 L125.09,662.07 L125.59,662.19 L126.09,661.01 L126.59,661.12 L127.09,660.67 L127.59,660.34 L128.09,660.32 L128.59,659.59 L129.09,659.09 L129.59,658.97 L130.09,658.62 L130.59,658.39 L131.09,658.16 L131.58,657.65 L132.08,657.29 L132.58,656.63 L133.08,656.19 L133.58,656.01 L134.08,655.65 L134.58,655.29 L135.08,654.82 L135.58,654.2 L136.08,653.75 L136.58,653.67 L137.08,653.18 L137.58,652.24 L138.08,652.23 L138.58,651.78 L139.08,651.1 L139.58,650.58 L140.08,650.51 L140.58,649.99 L141.08,649.21 L141.58,649 L142.08,648.78 L142.58,648.03 L143.08,647.97 L143.58,646.97 L144.08,647.01 L144.58,646.29 L145.08,645.71 L145.58,645.39 L146.08,645.17 L146.58,644.34 L147.08,644.35 L147.58,643.84 L148.08,642.85 L148.58,642.9 L149.08,642.64 L149.58,641.86 L150.08,641.07 L150.58,641.28 L151.08,640.89 L151.58,640.55 L152.08,639.66 L152.58,639.21 L153.08,638.87 L153.58,638.78 L154.07,637.94 L154.57,637.7 L155.07,636.96 L155.57,637.11 L156.07,636.41 L156.57,636.01 L157.07,636.2 L157.57,635.34 L158.07,634.84 L158.57,634.32 L159.07,633.87 L159.57,633.21 L160.07,633.24 L160.57,632.63 L161.07,632.23 L161.57,631.57 L162.07,631.7 L162.57,631.1 L163.07,630.72 L163.57,630.2 L164.07,630.02 L164.57,629.7 L165.07,629.26 L165.57,628.58 L166.07,628.08 L166.57,628.02 L167.07,627.77 L167.57,626.85 L168.07,626.79 L168.57,626.51 L169.07,626.27 L169.57,626.12 L170.07,625.49 L170.57,625.4 L171.07,624.83 L171.57,624.74 L172.07,624.1 L172.57,623.89 L173.07,623.73 L173.57,623.25 L174.07,622.48 L174.57,622.55 L175.07,622.38 L175.57,621.99 L176.07,621.48 L176.56,621.28 L177.06,621.21 L177.56,620.94 L178.06,620.57 L178.56,620.05 L179.06,619.71 L179.56,619.99 L180.06,619.09 L180.56,619.23 L181.06,618.74 L181.56,618.53 L182.06,618.2 L182.56,617.79 L183.06,617.66 L183.56,617.08 L184.06,616.9 L184.56,616.72 L185.06,615.92 L185.56,616.39 L186.06,615.84 L186.56,615.57 L187.06,615.18 L187.56,615.1 L188.06,614.65 L188.56,614.51 L189.06,614.38 L189.56,614.33 L190.06,614.15 L190.56,613.88 L191.06,613.77 L191.56,613.85 L192.06,613.48 L192.56,613.79 L193.06,613.53 L193.56,613.19 L194.06,612.97 L194.56,613.16 L195.06,613.26 L195.56,613.01 L196.06,612.93 L196.56,612.57 L197.06,612.93 L197.56,612.51 L198.06,612.94 L198.56,612.6 L199.05,612.84 L199.55,612.61 L200.05,612.06 L200.55,612.36 L201.05,612.43 L201.55,612.53 L202.05,612.19 L202.55,612.26 L203.05,611.8 L203.55,612.1 L204.05,611.97 L204.55,612.07 L205.05,611.88 L205.55,611.8 L206.05,611.77 L206.55,611.85 L207.05,611.94 L207.55,611.79 L208.05,611.78 L208.55,611.33 L209.05,611.2 L209.55,611.22 L210.05,611.17 L210.55,611.43 L211.05,611.27 L211.55,611.2 L212.05,611.65 L212.55,611.15 L213.05,611.36 L213.55,611.19 L214.05,610.99 L214.55,610.89 L215.05,611.12 L215.55,611.34 L216.05,611.42 L216.55,611.62 L217.05,611.56 L217.55,611.89 L218.05,611.51 L218.55,611.61 L219.05,612 L219.55,611.93 L220.05,612.27 L220.55,612.48 L221.05,612.37 L221.55,612.35 L222.04,612.07 L222.54,612.6 L223.04,612.82 L223.54,612.65 L224.04,613.11 L224.54,613.21 L225.04,613.35 L225.54,613.65 L226.04,613.93 L226.54,613.64 L227.04,614 L227.54,614.3 L228.04,614.76 L228.54,614.72 L229.04,615.07 L229.54,615.24 L230.04,615.54 L230.54,615.84 L231.04,616.31 L231.54,616.52 L232.04,616.94 L232.54,617.15 L233.04,617.46 L233.54,617.91 L234.04,618.53 L234.54,618.83 L235.04,619.01 L235.54,619.89 L236.04,620.13 L236.54,620.49 L237.04,621.46 L237.54,622.4 L238.04,622.87 L238.54,623.47 L239.04,623.87 L239.54,624.51 L240.04,625.22 L240.54,626.05 L241.04,626.73 L241.54,627.65 L242.04,628.46 L242.54,629.07 L243.04,630.17 L243.54,630.54 L244.04,631.73 L244.53,632.67 L245.03,633.6 L245.53,634.69 L246.03,635.72 L246.53,636.88 L247.03,638.01 L247.53,638.76 L248.03,640.42 L248.53,641.54 L249.03,642.92 L249.53,644.21 L250.03,645.55 L250.53,646.76 L251.03,647.83 L251.53,649.42 L252.03,650.5 L252.53,651.78 L253.03,653.24 L253.53,654.95 L254.03,656.23 L254.53,657.52 L255.03,658.97 L255.53,660.32 L256.03,662.19 L256.53,662.91 L257.03,665.17 L257.53,666.67 L258.03,668.19 L258.53,670.02 L259.03,671.34 L259.53,673.16 L260.03,674.11 L260.53,676.13 L261.03,676.99 L261.53,678.53 L262.03,679.53 L262.53,680.71 L263.03,681.94 L263.53,683.13 L264.03,683.89 L264.53,684.79 L265.03,685.69 L265.53,686.37 L266.03,687.14 L266.53,688.12 L267.02,688.92 L267.52,689.54 L268.02,689.97 L268.52,690.58 L269.02,690.6 L269.52,691.4 L270.02,691.92 L270.52,692.51 L271.02,692.91 L271.52,693.18 L272.02,693.55 L272.52,694.27 L273.02,694.02 L273.52,694.49 L274.02,694.67 L274.52,694.89 L275.02,695.2 L275.52,695.52 L276.02,695.57 L276.52,696.26 L277.02,696.07 L277.52,696.24 L278.02,696.72 L278.52,696.85 L279.02,696.94 L279.52,697.02 L280.02,696.57 L280.52,696.91 L281.02,697.03 L281.52,697.02 L282.02,697.5 L282.52,697.47 L283.02,697.19 L283.52,697.15 L284.02,697.17 L284.52,697.28 L285.02,697.59 L285.52,697.72 L286.02,697.55 L286.52,697.98 L287.02,697.71 L287.52,697.86 L288.02,697.62 L288.52,697.81 L289.02,697.67 L289.51,697.95 L290.01,698.13 L290.51,697.97 L291.01,698.02 L291.51,698.29 L292.01,698.02 L292.51,698.33 L293.01,698.21 L293.51,698.06 L294.01,698.04 L294.51,698.26 L295.01,698.42 L295.51,698.23 L296.01,698.05 L296.51,698.2 L297.01,698.49 L297.51,698.39 L298.01,698.31 L298.51,698.35 L299.01,698.6 L299.51,697.9 L300.01,698.16 L300.51,698.6 L301.01,698.53 L301.51,698.49 L302.01,698.28 L302.51,698.6 L303.01,698.3 L303.51,698.34 L304.01,698.29 L304.51,698.56 L305.01,698.24 L305.51,698.58 L306.01,698.38 L306.51,698.6 L307.01,698.41 L307.51,698.6 L308.01,698.45 L308.51,698.49 L309.01,698.41 L309.51,698.41 L310.01,698.51 L310.51,698.56 L311.01,698.24 L311.51,698.4 L312,698.56 L312.5,698.4 L313,698.54 L313.5,698.6 L314,698.6 L314.5,698.6 L315,698.6 L315.5,698.6 L316,698.27 L316.5,698.46 L317,698.4 L317.5,698.47 L318,698.6 L318.5,698.57 L319,698.23 L319.5,698.6 L320,698.6 L320.5,698.6 L321,698.5 L321.5,698.42 L322,698.39 L322.5,698.38 L323,698.6" fill="none" stroke="#2f6fd3" stroke-width="1.6" stroke-linejoin="round"/>
<path d="M97.6,690.01 L98.1,690.19 L98.6,690.08 L99.1,689.62 L99.6,689.63 L100.1,689.32 L100.6,688.97 L101.1,688.74 L101.6,688.84 L102.1,688.63 L102.6,687.85 L103.1,687.88 L103.6,687.34 L104.1,687.34 L104.6,687.42 L105.1,687 L105.6,686.61 L106.1,686.65 L106.6,686.42 L107.1,686.18 L107.6,686.02 L108.1,685.66 L108.6,685.44 L109.09,685.26 L109.59,685.06 L110.09,685.16 L110.59,684.29 L111.09,684.08 L111.59,683.86 L112.09,683.46 L112.59,683.38 L113.09,683.12 L113.59,683.25 L114.09,683.05 L114.59,682.39 L115.09,682.4 L115.59,681.94 L116.09,681.82 L116.59,681.77 L117.09,681.45 L117.59,681.22 L118.09,681.3 L118.59,680.89 L119.09,680.44 L119.59,680.2 L120.09,679.84 L120.59,679.86 L121.09,679.9 L121.59,679.62 L122.09,679.14 L122.59,678.76 L123.09,678.63 L123.59,678.23 L124.09,677.8 L124.59,677.57 L125.09,677.83 L125.59,677.43 L126.09,677.05 L126.59,677.24 L127.09,677.01 L127.59,676.9 L128.09,676.42 L128.59,676.06 L129.09,676.08 L129.59,675.52 L130.09,675.42 L130.59,675.46 L131.09,674.81 L131.58,674.8 L132.08,674.49 L132.58,674.09 L133.08,674.41 L133.58,673.63 L134.08,673.49 L134.58,673.37 L135.08,673.35 L135.58,672.99 L136.08,672.54 L136.58,672.29 L137.08,672.34 L137.58,671.96 L138.08,671.7 L138.58,671.5 L139.08,671.31 L139.58,670.97 L140.08,671.01 L140.58,670.92 L141.08,670.14 L141.58,669.99 L142.08,669.96 L142.58,669.64 L143.08,669.24 L143.58,668.92 L144.08,668.72 L144.58,668.71 L145.08,668.5 L145.58,667.92 L146.08,667.89 L146.58,667.38 L147.08,667.56 L147.58,667.01 L148.08,666.72 L148.58,666.38 L149.08,666.41 L149.58,666.22 L150.08,665.53 L150.58,665.72 L151.08,665.1 L151.58,664.91 L152.08,664.58 L152.58,664.63 L153.08,664.53 L153.58,663.78 L154.07,663.82 L154.57,663.32 L155.07,663.41 L155.57,662.87 L156.07,662.45 L156.57,662.56 L157.07,662.02 L157.57,661.78 L158.07,661.59 L158.57,661.06 L159.07,660.92 L159.57,660.64 L160.07,660.34 L160.57,659.66 L161.07,659.69 L161.57,659.56 L162.07,659.26 L162.57,658.73 L163.07,658.54 L163.57,658.12 L164.07,657.83 L164.57,657.42 L165.07,657.37 L165.57,657.19 L166.07,656.8 L166.57,656.61 L167.07,656.22 L167.57,655.96 L168.07,655.63 L168.57,655.37 L169.07,654.85 L169.57,654.72 L170.07,654.29 L170.57,653.99 L171.07,654.27 L171.57,653.5 L172.07,653.19 L172.57,652.42 L173.07,652.82 L173.57,652.58 L174.07,651.94 L174.57,652.02 L175.07,651.91 L175.57,651.36 L176.07,651.48 L176.56,651.05 L177.06,650.92 L177.56,650.45 L178.06,650.39 L178.56,650.24 L179.06,650.06 L179.56,649.59 L180.06,649.39 L180.56,649.48 L181.06,648.95 L181.56,648.75 L182.06,648.63 L182.56,648.24 L183.06,648.42 L183.56,647.74 L184.06,647.68 L184.56,647.7 L185.06,647.39 L185.56,647.01 L186.06,647.12 L186.56,646.88 L187.06,646.64 L187.56,646.26 L188.06,646.29 L188.56,645.68 L189.06,646.01 L189.56,645.79 L190.06,645.17 L190.56,645.05 L191.06,644.98 L191.56,644.96 L192.06,645.1 L192.56,644.61 L193.06,644.73 L193.56,644.44 L194.06,644.19 L194.56,643.88 L195.06,644.1 L195.56,643.89 L196.06,643.42 L196.56,643.42 L197.06,643.65 L197.56,643.17 L198.06,643.38 L198.56,643.17 L199.05,643.08 L199.55,642.85 L200.05,642.82 L200.55,642.94 L201.05,642.74 L201.55,642.01 L202.05,642.27 L202.55,642.54 L203.05,642.01 L203.55,642.07 L204.05,641.93 L204.55,642.21 L205.05,641.72 L205.55,641.93 L206.05,641.84 L206.55,641.98 L207.05,641.69 L207.55,641.54 L208.05,641.5 L208.55,641.36 L209.05,641.28 L209.55,641.4 L210.05,640.82 L210.55,640.91 L211.05,641.14 L211.55,641.3 L212.05,640.98 L212.55,640.86 L213.05,640.83 L213.55,640.6 L214.05,640.88 L214.55,640.99 L215.05,640.91 L215.55,640.86 L216.05,640.98 L216.55,640.73 L217.05,640.88 L217.55,640.81 L218.05,640.64 L218.55,640.8 L219.05,640.88 L219.55,641.21 L220.05,641.05 L220.55,641.09 L221.05,641.38 L221.55,640.93 L222.04,640.98 L222.54,641.33 L223.04,641.5 L223.54,641.53 L224.04,641.64 L224.54,641.67 L225.04,641.23 L225.54,641.7 L226.04,641.58 L226.54,641.96 L227.04,641.99 L227.54,641.7 L228.04,641.86 L228.54,641.78 L229.04,642.33 L229.54,642.14 L230.04,642.39 L230.54,642.37 L231.04,642.24 L231.54,642.38 L232.04,642.22 L232.54,642.55 L233.04,642.66 L233.54,642.73 L234.04,642.81 L234.54,643.44 L235.04,643.48 L235.54,643.37 L236.04,644.26 L236.54,644.92 L237.04,645.34 L237.54,645.66 L238.04,645.96 L238.54,646.56 L239.04,647.15 L239.54,647.44 L240.04,647.98 L240.54,648.57 L241.04,649.24 L241.54,649.83 L242.04,650.33 L242.54,651.17 L243.04,651.79 L243.54,652.58 L244.04,652.88 L244.53,654.09 L245.03,654.16 L245.53,655.34 L246.03,656.18 L246.53,657.04 L247.03,657.77 L247.53,658.84 L248.03,659.25 L248.53,659.85 L249.03,660.54 L249.53,661.78 L250.03,662.68 L250.53,663.37 L251.03,664.68 L251.53,665.63 L252.03,666.39 L252.53,667.31 L253.03,667.98 L253.53,669.24 L254.03,670.29 L254.53,670.95 L255.03,671.91 L255.53,672.71 L256.03,673.94 L256.53,674.61 L257.03,675.76 L257.53,676.43 L258.03,677.48 L258.53,678.53 L259.03,679.32 L259.53,680.27 L260.03,681.06 L260.53,681.76 L261.03,683.02 L261.53,683.36 L262.03,684.45 L262.53,685.43 L263.03,686.03 L263.53,686.89 L264.03,687.35 L264.53,688.32 L265.03,689.1 L265.53,689.52 L266.03,689.81 L266.53,690.45 L267.02,691.39 L267.52,691.7 L268.02,691.95 L268.52,692.34 L269.02,692.85 L269.52,693.19 L270.02,693.67 L270.52,693.9 L271.02,694.23 L271.52,694.7 L272.02,694.6 L272.52,694.65 L273.02,695.03 L273.52,695.55 L274.02,695.55 L274.52,695.67 L275.02,695.86 L275.52,695.72 L276.02,696.23 L276.52,696.18 L277.02,696.81 L277.52,696.48 L278.02,696.58 L278.52,696.77 L279.02,697.09 L279.52,696.85 L280.02,697.16 L280.52,697.03 L281.02,697.72 L281.52,697.5 L282.02,697.38 L282.52,697.41 L283.02,697.58 L283.52,697.3 L284.02,697.65 L284.52,697.95 L285.02,697.44 L285.52,697.52 L286.02,697.57 L286.52,697.89 L287.02,697.78 L287.52,697.95 L288.02,698.2 L288.52,698.08 L289.02,697.98 L289.51,698.28 L290.01,697.87 L290.51,698.05 L291.01,698.32 L291.51,698.2 L292.01,698.6 L292.51,697.97 L293.01,698.09 L293.51,698.31 L294.01,698.34 L294.51,698.52 L295.01,698.45 L295.51,698.52 L296.01,698.52 L296.51,698.22 L297.01,698.38 L297.51,698.36 L298.01,698.6 L298.51,698.49 L299.01,698.6 L299.51,698.45 L300.01,698.54 L300.51,698.6 L301.01,698.37 L301.51,698.4 L302.01,698.59 L302.51,698.6 L303.01,698.6 L303.51,698.43 L304.01,698.6 L304.51,698.6 L305.01,698.47 L305.51,698.4 L306.01,698.41 L306.51,698.6 L307.01,698.18 L307.51,698.6 L308.01,698.17 L308.51,698.4 L309.01,698.48 L309.51,698.55 L310.01,698.43 L310.51,698.3 L311.01,698.49 L311.51,698.6 L312,698.54 L312.5,698.6 L313,698.39 L313.5,698.6 L314,698.6 L314.5,698.6 L315,698.39 L315.5,698.6 L316,698.6 L316.5,698.6 L317,698.53 L317.5,698.57 L318,698.52 L318.5,698.5 L319,698.16 L319.5,698.6 L320,698.57 L320.5,698.3 L321,698.6 L321.5,698.29 L322,698.6 L322.5,698.6 L323,698.6" fill="none" stroke="#3a9e6a" stroke-width="1.6" stroke-linejoin="round"/>
<path d="M97.6,690.42 L98.1,690.64 L98.6,690.72 L99.1,690.45 L99.6,690.73 L100.1,690.46 L100.6,690.73 L101.1,690.52 L101.6,690.65 L102.1,690.53 L102.6,690.28 L103.1,690.41 L103.6,690.41 L104.1,690.35 L104.6,690.42 L105.1,690.29 L105.6,690.34 L106.1,689.99 L106.6,690.32 L107.1,690.12 L107.6,689.91 L108.1,689.95 L108.6,689.71 L109.09,689.71 L109.59,689.94 L110.09,689.92 L110.59,689.64 L111.09,689.27 L111.59,689.4 L112.09,689.65 L112.59,689.54 L113.09,689.49 L113.59,689.15 L114.09,689.23 L114.59,689.29 L115.09,689.26 L115.59,689.04 L116.09,689.01 L116.59,689.05 L117.09,688.78 L117.59,688.67 L118.09,688.9 L118.59,688.72 L119.09,688.4 L119.59,688.77 L120.09,688.75 L120.59,688.49 L121.09,688.27 L121.59,688.25 L122.09,688.22 L122.59,687.96 L123.09,688.03 L123.59,687.72 L124.09,687.76 L124.59,687.44 L125.09,687.49 L125.59,687.43 L126.09,687.02 L126.59,687.31 L127.09,687.26 L127.59,687.23 L128.09,687.1 L128.59,686.91 L129.09,686.59 L129.59,686.92 L130.09,686.55 L130.59,686.17 L131.09,686.23 L131.58,686.26 L132.08,686.25 L132.58,686.11 L133.08,686.24 L133.58,685.61 L134.08,685.74 L134.58,685.43 L135.08,685.37 L135.58,685.65 L136.08,685.37 L136.58,685.59 L137.08,685.38 L137.58,685.21 L138.08,685.07 L138.58,684.7 L139.08,684.63 L139.58,684.57 L140.08,684.39 L140.58,684.38 L141.08,684.61 L141.58,684.24 L142.08,684.01 L142.58,683.86 L143.08,683.86 L143.58,683.96 L144.08,683.63 L144.58,683.42 L145.08,683.63 L145.58,683.19 L146.08,682.96 L146.58,682.9 L147.08,682.8 L147.58,682.61 L148.08,682.68 L148.58,682.82 L149.08,682.37 L149.58,681.98 L150.08,682.23 L150.58,682.15 L151.08,681.78 L151.58,681.63 L152.08,681.8 L152.58,681.92 L153.08,681.33 L153.58,681.65 L154.07,681.45 L154.57,681.11 L155.07,680.84 L155.57,680.44 L156.07,680.7 L156.57,680.35 L157.07,680.62 L157.57,680.2 L158.07,680.33 L158.57,679.9 L159.07,680 L159.57,679.68 L160.07,679.78 L160.57,679.28 L161.07,679.26 L161.57,679.1 L162.07,679.1 L162.57,679.4 L163.07,678.91 L163.57,678.67 L164.07,678.45 L164.57,678.9 L165.07,678.73 L165.57,678.22 L166.07,677.89 L166.57,677.62 L167.07,678.02 L167.57,677.97 L168.07,677.43 L168.57,677.46 L169.07,677.41 L169.57,677.33 L170.07,676.9 L170.57,676.86 L171.07,676.72 L171.57,676.46 L172.07,676.66 L172.57,676.36 L173.07,676.61 L173.57,676.3 L174.07,676.03 L174.57,675.95 L175.07,675.78 L175.57,676.21 L176.07,675.58 L176.56,675.34 L177.06,675.32 L177.56,675.17 L178.06,675 L178.56,675.15 L179.06,674.97 L179.56,674.84 L180.06,674.85 L180.56,674.75 L181.06,674.37 L181.56,674.54 L182.06,674.28 L182.56,674.07 L183.06,674.04 L183.56,673.85 L184.06,673.5 L184.56,673.56 L185.06,673.16 L185.56,673.44 L186.06,673.02 L186.56,673.11 L187.06,673 L187.56,672.67 L188.06,672.9 L188.56,672.49 L189.06,672.5 L189.56,672.2 L190.06,672.38 L190.56,672.38 L191.06,672.06 L191.56,671.96 L192.06,671.61 L192.56,671.68 L193.06,671.44 L193.56,671.65 L194.06,671.16 L194.56,671.27 L195.06,671.1 L195.56,671.21 L196.06,670.97 L196.56,670.4 L197.06,670.89 L197.56,670.38 L198.06,670.61 L198.56,670.07 L199.05,670.29 L199.55,670.31 L200.05,669.67 L200.55,669.78 L201.05,670.4 L201.55,669.86 L202.05,670.18 L202.55,669.82 L203.05,669.61 L203.55,669.59 L204.05,669.55 L204.55,669.53 L205.05,669.61 L205.55,669.45 L206.05,669.64 L206.55,669.35 L207.05,669.15 L207.55,669.34 L208.05,669.14 L208.55,669.35 L209.05,669.15 L209.55,668.96 L210.05,669.09 L210.55,668.84 L211.05,668.92 L211.55,668.67 L212.05,669.23 L212.55,668.74 L213.05,668.56 L213.55,668.31 L214.05,668.93 L214.55,668.93 L215.05,668.66 L215.55,668.43 L216.05,668.57 L216.55,668.4 L217.05,668.31 L217.55,668.53 L218.05,668.54 L218.55,668.24 L219.05,668.54 L219.55,668.25 L220.05,667.76 L220.55,668.06 L221.05,668.4 L221.55,668.3 L222.04,668.42 L222.54,668.34 L223.04,668.48 L223.54,668.04 L224.04,668.38 L224.54,668.59 L225.04,668.15 L225.54,668 L226.04,668.22 L226.54,668.33 L227.04,668.38 L227.54,668.37 L228.04,668.85 L228.54,668.16 L229.04,668.2 L229.54,668.49 L230.04,668.3 L230.54,668.35 L231.04,668.49 L231.54,668.8 L232.04,668.44 L232.54,668.35 L233.04,668.72 L233.54,668.79 L234.04,669.05 L234.54,668.84 L235.04,668.91 L235.54,668.97 L236.04,669.13 L236.54,669.11 L237.04,669.42 L237.54,669.37 L238.04,669.9 L238.54,669.98 L239.04,670.28 L239.54,670.36 L240.04,670.74 L240.54,670.91 L241.04,671.63 L241.54,671.71 L242.04,671.88 L242.54,672.34 L243.04,672.69 L243.54,672.94 L244.04,673.04 L244.53,673.96 L245.03,673.99 L245.53,674.31 L246.03,674.7 L246.53,675.34 L247.03,675.55 L247.53,676.13 L248.03,676.51 L248.53,676.99 L249.03,677.52 L249.53,677.66 L250.03,677.89 L250.53,678.54 L251.03,679.08 L251.53,679.55 L252.03,679.96 L252.53,680.11 L253.03,680.63 L253.53,681.08 L254.03,681.29 L254.53,681.72 L255.03,682.74 L255.53,682.78 L256.03,683.5 L256.53,683.94 L257.03,684.61 L257.53,685.18 L258.03,685.66 L258.53,686.14 L259.03,686.93 L259.53,688.04 L260.03,688.23 L260.53,688.55 L261.03,689.31 L261.53,689.89 L262.03,689.96 L262.53,690.54 L263.03,691.06 L263.53,691.3 L264.03,691.63 L264.53,692.17 L265.03,692.34 L265.53,692.62 L266.03,692.9 L266.53,693.31 L267.02,693.66 L267.52,693.67 L268.02,694.21 L268.52,693.73 L269.02,694.44 L269.52,694.76 L270.02,695.17 L270.52,695.3 L271.02,694.91 L271.52,695.39 L272.02,695.61 L272.52,695.53 L273.02,695.7 L273.52,695.95 L274.02,696.14 L274.52,696.48 L275.02,696.57 L275.52,696.38 L276.02,696.65 L276.52,696.6 L277.02,697.25 L277.52,697.02 L278.02,697.13 L278.52,697.28 L279.02,697.24 L279.52,697.63 L280.02,697.52 L280.52,697.63 L281.02,697.48 L281.52,697.67 L282.02,697.47 L282.52,697.75 L283.02,697.68 L283.52,697.85 L284.02,697.6 L284.52,697.75 L285.02,697.32 L285.52,697.52 L286.02,697.81 L286.52,697.65 L287.02,697.82 L287.52,698.2 L288.02,697.74 L288.52,698.08 L289.02,697.79 L289.51,697.94 L290.01,698.05 L290.51,697.94 L291.01,697.91 L291.51,698.2 L292.01,698.29 L292.51,697.84 L293.01,697.99 L293.51,698.18 L294.01,698.39 L294.51,698.52 L295.01,698.12 L295.51,698.37 L296.01,698.42 L296.51,698.1 L297.01,698.22 L297.51,698.15 L298.01,698.38 L298.51,698.23 L299.01,698.38 L299.51,698.16 L300.01,698.11 L300.51,698.36 L301.01,698.31 L301.51,698.6 L302.01,698.47 L302.51,698.6 L303.01,698.53 L303.51,698.56 L304.01,698.02 L304.51,698.27 L305.01,698.28 L305.51,698.42 L306.01,698.48 L306.51,698.59 L307.01,698.49 L307.51,698.06 L308.01,698.6 L308.51,698.48 L309.01,698.55 L309.51,698.44 L310.01,698.6 L310.51,698.6 L311.01,698.31 L311.51,698.48 L312,698.6 L312.5,698.6 L313,698.6 L313.5,698.51 L314,698.6 L314.5,698.55 L315,698.6 L315.5,698.5 L316,698.6 L316.5,698.4 L317,698.6 L317.5,698.41 L318,698.6 L318.5,698.6 L319,698.6 L319.5,698.5 L320,698.6 L320.5,698.54 L321,698.6 L321.5,698.6 L322,698.4 L322.5,698.6 L323,698.6" fill="none" stroke="#d6aa2a" stroke-width="1.6" stroke-linejoin="round"/>
<path d="M97.6,689.8 L98.1,690.2 L98.6,689.65 L99.1,689.95 L99.6,689.67 L100.1,689.63 L100.6,689.86 L101.1,689.84 L101.6,689.75 L102.1,689.53 L102.6,689.64 L103.1,689.48 L103.6,689.64 L104.1,689.11 L104.6,689.44 L105.1,689.58 L105.6,689.27 L106.1,689.22 L106.6,689.09 L107.1,689.26 L107.6,689.16 L108.1,689.33 L108.6,688.96 L109.09,689.2 L109.59,689.01 L110.09,688.84 L110.59,688.89 L111.09,688.74 L111.59,688.63 L112.09,688.91 L112.59,689.41 L113.09,688.88 L113.59,689.07 L114.09,688.94 L114.59,688.79 L115.09,689.07 L115.59,688.73 L116.09,689.21 L116.59,688.85 L117.09,689.34 L117.59,689.21 L118.09,689.11 L118.59,689.06 L119.09,689.05 L119.59,689.08 L120.09,689.2 L120.59,689.27 L121.09,689.22 L121.59,689.15 L122.09,689.29 L122.59,689.15 L123.09,689.49 L123.59,689.2 L124.09,689.5 L124.59,689.27 L125.09,689.5 L125.59,689.45 L126.09,689.52 L126.59,689.68 L127.09,689.47 L127.59,689.41 L128.09,689.57 L128.59,689.81 L129.09,690.01 L129.59,689.57 L130.09,689.32 L130.59,689.53 L131.09,689.89 L131.58,689.84 L132.08,690.01 L132.58,689.92 L133.08,690.1 L133.58,689.97 L134.08,689.89 L134.58,690.14 L135.08,689.85 L135.58,689.8 L136.08,689.94 L136.58,689.49 L137.08,689.59 L137.58,689.55 L138.08,689.67 L138.58,689.6 L139.08,689.23 L139.58,689.68 L140.08,689.49 L140.58,688.87 L141.08,689.33 L141.58,688.98 L142.08,688.85 L142.58,688.8 L143.08,689.25 L143.58,688.67 L144.08,688.84 L144.58,688.66 L145.08,688.94 L145.58,688.46 L146.08,688.19 L146.58,688.37 L147.08,688.37 L147.58,688.01 L148.08,688.05 L148.58,687.6 L149.08,687.42 L149.58,687.74 L150.08,687.44 L150.58,687.44 L151.08,687.14 L151.58,686.97 L152.08,686.96 L152.58,686.86 L153.08,686.8 L153.58,686.69 L154.07,686.54 L154.57,686.67 L155.07,686.34 L155.57,685.97 L156.07,686.36 L156.57,686.5 L157.07,686.36 L157.57,686.25 L158.07,685.96 L158.57,685.78 L159.07,685.62 L159.57,685.81 L160.07,685.72 L160.57,685.85 L161.07,685.87 L161.57,685.3 L162.07,685.39 L162.57,685.25 L163.07,685.38 L163.57,685.32 L164.07,685.14 L164.57,685.23 L165.07,684.9 L165.57,685.22 L166.07,685.06 L166.57,685.04 L167.07,684.97 L167.57,684.69 L168.07,684.21 L168.57,684.95 L169.07,684.24 L169.57,684.31 L170.07,684.62 L170.57,684.3 L171.07,684.23 L171.57,684.35 L172.07,683.72 L172.57,684.14 L173.07,683.62 L173.57,683.79 L174.07,684.05 L174.57,683.8 L175.07,683.72 L175.57,683.37 L176.07,683.56 L176.56,683.33 L177.06,683.27 L177.56,683.53 L178.06,683.24 L178.56,683.27 L179.06,683.05 L179.56,683.23 L180.06,682.7 L180.56,682.7 L181.06,682.81 L181.56,682.5 L182.06,682.76 L182.56,682.73 L183.06,682.54 L183.56,682.57 L184.06,682.45 L184.56,682.8 L185.06,682.41 L185.56,681.95 L186.06,682.3 L186.56,681.82 L187.06,682.26 L187.56,682.24 L188.06,681.6 L188.56,681.8 L189.06,681.63 L189.56,681.59 L190.06,681.46 L190.56,681.64 L191.06,681.52 L191.56,681.27 L192.06,680.9 L192.56,681.24 L193.06,681.07 L193.56,681.51 L194.06,681.05 L194.56,681.1 L195.06,680.81 L195.56,680.46 L196.06,680.79 L196.56,680.44 L197.06,680.92 L197.56,680.73 L198.06,680.92 L198.56,680.46 L199.05,680.45 L199.55,680.76 L200.05,680.48 L200.55,680.36 L201.05,680.33 L201.55,680.15 L202.05,680.02 L202.55,680.14 L203.05,680 L203.55,679.85 L204.05,679.9 L204.55,679.87 L205.05,679.68 L205.55,679.88 L206.05,679.99 L206.55,679.64 L207.05,679.82 L207.55,679.64 L208.05,679.55 L208.55,679.66 L209.05,679.32 L209.55,679.63 L210.05,679.43 L210.55,679.4 L211.05,679.46 L211.55,679.71 L212.05,679.34 L212.55,679.44 L213.05,679.2 L213.55,679.07 L214.05,679.19 L214.55,679.33 L215.05,679.24 L215.55,679.09 L216.05,679.36 L216.55,679.08 L217.05,679.33 L217.55,678.89 L218.05,678.99 L218.55,678.92 L219.05,678.95 L219.55,679 L220.05,678.97 L220.55,678.75 L221.05,678.62 L221.55,678.74 L222.04,678.75 L222.54,678.81 L223.04,678.87 L223.54,678.76 L224.04,678.98 L224.54,678.74 L225.04,678.54 L225.54,679.06 L226.04,679 L226.54,678.78 L227.04,679.02 L227.54,678.37 L228.04,678.81 L228.54,678.59 L229.04,678.95 L229.54,678.92 L230.04,678.98 L230.54,679.02 L231.04,678.97 L231.54,679.07 L232.04,678.98 L232.54,679.21 L233.04,679.25 L233.54,679.09 L234.04,679.67 L234.54,679.19 L235.04,679.39 L235.54,679.33 L236.04,679.24 L236.54,679.7 L237.04,680.07 L237.54,680.19 L238.04,680.05 L238.54,680.49 L239.04,680.49 L239.54,680.54 L240.04,680.51 L240.54,681.2 L241.04,681.46 L241.54,681.48 L242.04,681.49 L242.54,681.9 L243.04,682.06 L243.54,682.17 L244.04,682.42 L244.53,682.57 L245.03,683.03 L245.53,682.93 L246.03,682.93 L246.53,683.59 L247.03,683.73 L247.53,684.07 L248.03,684.02 L248.53,684.35 L249.03,684.72 L249.53,684.62 L250.03,684.73 L250.53,685.01 L251.03,685.55 L251.53,685.42 L252.03,685.8 L252.53,686.03 L253.03,686.41 L253.53,686.58 L254.03,686.98 L254.53,687.01 L255.03,687.82 L255.53,688.58 L256.03,688.3 L256.53,688.63 L257.03,688.82 L257.53,689.73 L258.03,689.8 L258.53,690.6 L259.03,691.17 L259.53,691.51 L260.03,692.03 L260.53,691.9 L261.03,692.2 L261.53,693.11 L262.03,693.21 L262.53,693.56 L263.03,693.64 L263.53,693.9 L264.03,694.13 L264.53,694.24 L265.03,694.91 L265.53,695.16 L266.03,695.26 L266.53,695.51 L267.02,695.45 L267.52,695.33 L268.02,695.67 L268.52,696.18 L269.02,696.27 L269.52,696.13 L270.02,696.34 L270.52,696.63 L271.02,696.57 L271.52,696.51 L272.02,696.64 L272.52,696.92 L273.02,696.85 L273.52,697.16 L274.02,697.07 L274.52,697.28 L275.02,697.18 L275.52,697.39 L276.02,697.5 L276.52,697.59 L277.02,697.68 L277.52,697.99 L278.02,697.73 L278.52,697.65 L279.02,697.76 L279.52,697.44 L280.02,697.71 L280.52,697.68 L281.02,698.01 L281.52,697.89 L282.02,698.12 L282.52,697.95 L283.02,697.8 L283.52,697.97 L284.02,697.81 L284.52,698.03 L285.02,698.08 L285.52,697.96 L286.02,697.91 L286.52,697.85 L287.02,698.15 L287.52,697.87 L288.02,698.29 L288.52,698.3 L289.02,698.13 L289.51,698.23 L290.01,698.37 L290.51,698.25 L291.01,698.16 L291.51,698.1 L292.01,698.21 L292.51,698.25 L293.01,698.23 L293.51,698.34 L294.01,697.92 L294.51,698.05 L295.01,698.06 L295.51,698.3 L296.01,698.17 L296.51,698.21 L297.01,698.56 L297.51,698.6 L298.01,698.36 L298.51,698.22 L299.01,698.2 L299.51,698.39 L300.01,698.06 L300.51,698.45 L301.01,698.21 L301.51,698.6 L302.01,698.3 L302.51,698.39 L303.01,698.25 L303.51,698.6 L304.01,698.2 L304.51,698.47 L305.01,698.4 L305.51,698.46 L306.01,698.46 L306.51,698.48 L307.01,698.57 L307.51,698.52 L308.01,698.52 L308.51,698.4 L309.01,698.33 L309.51,698.36 L310.01,698.38 L310.51,698.2 L311.01,698.49 L311.51,698.46 L312,698.49 L312.5,698.6 L313,698.6 L313.5,698.45 L314,698.46 L314.5,698.45 L315,698.6 L315.5,698.53 L316,698.36 L316.5,698.46 L317,698.6 L317.5,698.6 L318,698.6 L318.5,698.6 L319,698.35 L319.5,698.47 L320,698.6 L320.5,698.45 L321,698.58 L321.5,698.6 L322,698.44 L322.5,698.6 L323,698.2" fill="none" stroke="#22c3cc" stroke-width="1.6" stroke-linejoin="round"/>
<path d="M97.6,693.41 L98.1,693.31 L98.6,693.29 L99.1,693.33 L99.6,693.39 L100.1,693.02 L100.6,693.61 L101.1,693.3 L101.6,693.75 L102.1,693.52 L102.6,693.51 L103.1,693.68 L103.6,693.4 L104.1,693.61 L104.6,693.22 L105.1,693.58 L105.6,693.27 L106.1,693.51 L106.6,693.6 L107.1,693.52 L107.6,693.31 L108.1,693.58 L108.6,693.26 L109.09,693.49 L109.59,693.41 L110.09,693.57 L110.59,693.6 L111.09,693.4 L111.59,693.25 L112.09,693.25 L112.59,693.31 L113.09,693.32 L113.59,693.33 L114.09,693.35 L114.59,693.24 L115.09,693.2 L115.59,693 L116.09,693.26 L116.59,693.61 L117.09,693.12 L117.59,693.31 L118.09,693.21 L118.59,693.07 L119.09,693.34 L119.59,693.29 L120.09,693.41 L120.59,693.62 L121.09,693.09 L121.59,693.93 L122.09,693.43 L122.59,693.38 L123.09,693.45 L123.59,693.34 L124.09,693.52 L124.59,693.13 L125.09,693.02 L125.59,693.08 L126.09,693.27 L126.59,693.3 L127.09,693.18 L127.59,693.51 L128.09,693.4 L128.59,693.38 L129.09,693.37 L129.59,693.31 L130.09,693.58 L130.59,693.05 L131.09,693.49 L131.58,693.42 L132.08,692.9 L132.58,693.17 L133.08,693.22 L133.58,693.45 L134.08,693.22 L134.58,693.22 L135.08,693.12 L135.58,693.17 L136.08,693.42 L136.58,693.12 L137.08,693.01 L137.58,693.12 L138.08,693.13 L138.58,692.87 L139.08,693.03 L139.58,693.16 L140.08,693.21 L140.58,693.12 L141.08,693.29 L141.58,692.96 L142.08,693.17 L142.58,693.15 L143.08,692.69 L143.58,693.26 L144.08,693.16 L144.58,693.14 L145.08,693.22 L145.58,692.86 L146.08,692.8 L146.58,692.81 L147.08,692.92 L147.58,693.28 L148.08,693.19 L148.58,693.05 L149.08,692.95 L149.58,693.18 L150.08,692.75 L150.58,693.24 L151.08,692.93 L151.58,693.11 L152.08,693 L152.58,692.81 L153.08,693.12 L153.58,693.39 L154.07,693.03 L154.57,692.97 L155.07,692.84 L155.57,692.96 L156.07,693.15 L156.57,692.66 L157.07,693.04 L157.57,692.73 L158.07,693.06 L158.57,693.16 L159.07,692.88 L159.57,692.68 L160.07,692.86 L160.57,693.08 L161.07,692.82 L161.57,692.82 L162.07,692.81 L162.57,693.08 L163.07,692.92 L163.57,692.91 L164.07,692.63 L164.57,693.15 L165.07,693.04 L165.57,692.63 L166.07,692.51 L166.57,692.84 L167.07,692.78 L167.57,692.95 L168.07,692.8 L168.57,693.08 L169.07,693.02 L169.57,692.79 L170.07,692.76 L170.57,693.02 L171.07,692.79 L171.57,692.77 L172.07,692.84 L172.57,692.84 L173.07,692.99 L173.57,692.42 L174.07,692.59 L174.57,692.55 L175.07,693.04 L175.57,692.8 L176.07,692.69 L176.56,692.85 L177.06,692.24 L177.56,692.6 L178.06,692.57 L178.56,692.29 L179.06,692.59 L179.56,692.42 L180.06,692.45 L180.56,692.72 L181.06,692.75 L181.56,692.58 L182.06,692.62 L182.56,692.38 L183.06,692.65 L183.56,692.57 L184.06,692.33 L184.56,692.2 L185.06,692.56 L185.56,692.31 L186.06,692.34 L186.56,692.51 L187.06,692.3 L187.56,692.61 L188.06,692.24 L188.56,691.74 L189.06,692.38 L189.56,692.13 L190.06,691.84 L190.56,692.12 L191.06,692.03 L191.56,691.99 L192.06,692.36 L192.56,691.7 L193.06,691.85 L193.56,691.71 L194.06,691.64 L194.56,691.87 L195.06,691.92 L195.56,691.91 L196.06,691.74 L196.56,691.37 L197.06,691.66 L197.56,691.64 L198.06,691.33 L198.56,691.53 L199.05,691.77 L199.55,691.65 L200.05,691.38 L200.55,691.32 L201.05,691.33 L201.55,691.23 L202.05,691.41 L202.55,690.97 L203.05,691.16 L203.55,691.17 L204.05,690.94 L204.55,691.26 L205.05,691.11 L205.55,691.19 L206.05,691.04 L206.55,690.78 L207.05,690.75 L207.55,691.05 L208.05,690.71 L208.55,691 L209.05,690.85 L209.55,690.66 L210.05,690.69 L210.55,690.79 L211.05,690.62 L211.55,690.49 L212.05,690.76 L212.55,690.58 L213.05,690.64 L213.55,690.43 L214.05,690.49 L214.55,690.3 L215.05,690.23 L215.55,690.25 L216.05,690.11 L216.55,690.39 L217.05,690.32 L217.55,690.5 L218.05,690.38 L218.55,690.03 L219.05,690.25 L219.55,690.3 L220.05,689.72 L220.55,690.1 L221.05,690.14 L221.55,690.09 L222.04,690.41 L222.54,690.07 L223.04,690.3 L223.54,689.95 L224.04,690.14 L224.54,690.09 L225.04,690.34 L225.54,690.02 L226.04,689.87 L226.54,690.45 L227.04,689.82 L227.54,690.18 L228.04,690.02 L228.54,690.14 L229.04,690.25 L229.54,689.77 L230.04,690.32 L230.54,690.16 L231.04,690.37 L231.54,690.18 L232.04,690.49 L232.54,690.31 L233.04,690.14 L233.54,690.37 L234.04,690.39 L234.54,690.3 L235.04,690.17 L235.54,690.19 L236.04,690.26 L236.54,690.31 L237.04,690.35 L237.54,690.32 L238.04,690.45 L238.54,690.45 L239.04,690.91 L239.54,690.55 L240.04,690.77 L240.54,690.66 L241.04,691.21 L241.54,691.05 L242.04,691.36 L242.54,691.08 L243.04,691.35 L243.54,691.31 L244.04,691.91 L244.53,692.17 L245.03,691.86 L245.53,692.13 L246.03,692.11 L246.53,692.51 L247.03,692.27 L247.53,692.49 L248.03,692.36 L248.53,692.54 L249.03,692.63 L249.53,692.89 L250.03,692.85 L250.53,692.75 L251.03,692.98 L251.53,693 L252.03,692.84 L252.53,692.97 L253.03,693.21 L253.53,693.08 L254.03,693.11 L254.53,693.53 L255.03,693.39 L255.53,693.5 L256.03,693.95 L256.53,693.68 L257.03,694.01 L257.53,693.92 L258.03,694.49 L258.53,694.36 L259.03,694.52 L259.53,695.04 L260.03,695.28 L260.53,695.8 L261.03,695.74 L261.53,695.82 L262.03,696.02 L262.53,696.17 L263.03,696.5 L263.53,696.44 L264.03,696.56 L264.53,696.72 L265.03,697.04 L265.53,696.91 L266.03,697.11 L266.53,696.8 L267.02,697.27 L267.52,697.43 L268.02,697.18 L268.52,697.15 L269.02,697.75 L269.52,697.68 L270.02,697.35 L270.52,697.63 L271.02,697.75 L271.52,697.97 L272.02,698.01 L272.52,698 L273.02,698.14 L273.52,697.86 L274.02,697.96 L274.52,697.87 L275.02,698.12 L275.52,698.42 L276.02,698.07 L276.52,697.94 L277.02,697.76 L277.52,698.28 L278.02,698.26 L278.52,698.35 L279.02,697.81 L279.52,698.2 L280.02,697.84 L280.52,697.74 L281.02,698.06 L281.52,698.06 L282.02,698.06 L282.52,698.14 L283.02,698.19 L283.52,698.47 L284.02,698.06 L284.52,698.01 L285.02,698 L285.52,698.21 L286.02,697.91 L286.52,698.39 L287.02,698.07 L287.52,698.14 L288.02,698.1 L288.52,698.29 L289.02,698.12 L289.51,698.26 L290.01,698.43 L290.51,698.53 L291.01,698.56 L291.51,698.24 L292.01,698.41 L292.51,698.14 L293.01,698.44 L293.51,698.38 L294.01,698.33 L294.51,698.56 L295.01,698.6 L295.51,698.15 L296.01,698.47 L296.51,698.35 L297.01,698.51 L297.51,698.36 L298.01,698.48 L298.51,698.6 L299.01,698.6 L299.51,698.22 L300.01,698.6 L300.51,698.13 L301.01,698.3 L301.51,698.37 L302.01,698.49 L302.51,698.59 L303.01,698.54 L303.51,698.52 L304.01,698.5 L304.51,698.44 L305.01,698.6 L305.51,698.38 L306.01,698.6 L306.51,698.3 L307.01,698.43 L307.51,698.6 L308.01,698.6 L308.51,698.37 L309.01,698.6 L309.51,698.6 L310.01,698.57 L310.51,698.56 L311.01,698.6 L311.51,698.39 L312,698.6 L312.5,698.58 L313,698.24 L313.5,698.57 L314,698.41 L314.5,698.6 L315,698.6 L315.5,698.6 L316,698.44 L316.5,698.6 L317,698.26 L317.5,698.37 L318,698.6 L318.5,698.52 L319,698.6 L319.5,698.49 L320,698.27 L320.5,698.6 L321,698.49 L321.5,698.6 L322,698.58 L322.5,698.6 L323,698.6" fill="none" stroke="#f2702a" stroke-width="1.6" stroke-linejoin="round"/>
<line x1="97.5" y1="516.6" x2="97.5" y2="699.35" stroke="#111" stroke-width="1.5"/>
<line x1="96.75" y1="698.6" x2="323.5" y2="698.6" stroke="#111" stroke-width="1.5"/>
<line x1="120.17" y1="698.6" x2="120.17" y2="701.85" stroke="#111" stroke-width="1.1"/>
<line x1="188.17" y1="698.6" x2="188.17" y2="701.85" stroke="#111" stroke-width="1.1"/>
<line x1="256.17" y1="698.6" x2="256.17" y2="701.85" stroke="#111" stroke-width="1.1"/>
<line x1="324.18" y1="698.6" x2="324.18" y2="701.85" stroke="#111" stroke-width="1.1"/>
<line x1="154.17" y1="698.6" x2="154.17" y2="700.85" stroke="#111" stroke-width="0.9900000000000001"/>
<line x1="222.17" y1="698.6" x2="222.17" y2="700.85" stroke="#111" stroke-width="0.9900000000000001"/>
<line x1="290.17" y1="698.6" x2="290.17" y2="700.85" stroke="#111" stroke-width="0.9900000000000001"/>
<line x1="97.5" y1="699.1" x2="94.25" y2="699.1" stroke="#111" stroke-width="1.1"/>
<line x1="97.5" y1="672.42" x2="94.25" y2="672.42" stroke="#111" stroke-width="1.1"/>
<line x1="97.5" y1="645.74" x2="94.25" y2="645.74" stroke="#111" stroke-width="1.1"/>
<line x1="97.5" y1="619.06" x2="94.25" y2="619.06" stroke="#111" stroke-width="1.1"/>
<line x1="97.5" y1="592.38" x2="94.25" y2="592.38" stroke="#111" stroke-width="1.1"/>
<line x1="97.5" y1="565.7" x2="94.25" y2="565.7" stroke="#111" stroke-width="1.1"/>
<line x1="97.5" y1="539.02" x2="94.25" y2="539.02" stroke="#111" stroke-width="1.1"/>
<line x1="97.5" y1="685.76" x2="95.25" y2="685.76" stroke="#111" stroke-width="0.9900000000000001"/>
<line x1="97.5" y1="659.08" x2="95.25" y2="659.08" stroke="#111" stroke-width="0.9900000000000001"/>
<line x1="97.5" y1="632.4" x2="95.25" y2="632.4" stroke="#111" stroke-width="0.9900000000000001"/>
<line x1="97.5" y1="605.72" x2="95.25" y2="605.72" stroke="#111" stroke-width="0.9900000000000001"/>
<line x1="97.5" y1="579.04" x2="95.25" y2="579.04" stroke="#111" stroke-width="0.9900000000000001"/>
<line x1="97.5" y1="552.36" x2="95.25" y2="552.36" stroke="#111" stroke-width="0.9900000000000001"/>
<line x1="97.5" y1="525.68" x2="95.25" y2="525.68" stroke="#111" stroke-width="0.9900000000000001"/>
<text x="90.8" y="704.4" font-size="15.4" text-anchor="end" >0</text>
<text x="90.8" y="677.72" font-size="15.4" text-anchor="end" >2500</text>
<text x="90.8" y="651.04" font-size="15.4" text-anchor="end" >5000</text>
<text x="90.8" y="624.36" font-size="15.4" text-anchor="end" >7500</text>
<text x="90.8" y="597.68" font-size="15.4" text-anchor="end" >10000</text>
<text x="90.8" y="571" font-size="15.4" text-anchor="end" >12500</text>
<text x="90.8" y="544.32" font-size="15.4" text-anchor="end" >15000</text>
<text x="120.17" y="717" font-size="15.3" text-anchor="middle" >675</text>
<text x="188.17" y="717" font-size="15.3" text-anchor="middle" >750</text>
<text x="256.17" y="717" font-size="15.3" text-anchor="middle" >825</text>
<text x="324.18" y="717" font-size="15.3" text-anchor="middle" >900</text>
<text x="210.6" y="745.7" font-size="20.3" text-anchor="middle" >Wavelength (nm)</text>
<text transform="translate(42.6,608) rotate(-90)" font-size="20.6" text-anchor="middle">FL. intensity</text>
<text x="13.5" y="511.4" font-size="23.5" text-anchor="start" >(E)</text>
<text x="245" y="539.7" font-size="21" text-anchor="start" >100%</text>
<text x="266.5" y="594" font-size="21" text-anchor="start" >+ glycerol</text>
<text x="254" y="640" font-size="21" text-anchor="start" >40%</text>
<line x1="265.3" y1="551.5" x2="265.3" y2="616" stroke="#111" stroke-width="1.8"/>
<path d="M261,559 L265.3,551 L269.6,559" fill="none" stroke="#111" stroke-width="1.8"/>
<line x1="439" y1="516.4" x2="439" y2="699.4" stroke="#111" stroke-width="1.6"/>
<line x1="438.2" y1="698.6" x2="673.7" y2="698.6" stroke="#111" stroke-width="1.6"/>
<line x1="439" y1="698.6" x2="439" y2="701.9" stroke="#111" stroke-width="1.1"/>
<line x1="479" y1="698.6" x2="479" y2="701.9" stroke="#111" stroke-width="1.1"/>
<line x1="519" y1="698.6" x2="519" y2="701.9" stroke="#111" stroke-width="1.1"/>
<line x1="559.01" y1="698.6" x2="559.01" y2="701.9" stroke="#111" stroke-width="1.1"/>
<line x1="599.01" y1="698.6" x2="599.01" y2="701.9" stroke="#111" stroke-width="1.1"/>
<line x1="639.01" y1="698.6" x2="639.01" y2="701.9" stroke="#111" stroke-width="1.1"/>
<line x1="459" y1="698.6" x2="459" y2="700.9" stroke="#111" stroke-width="0.9900000000000001"/>
<line x1="499" y1="698.6" x2="499" y2="700.9" stroke="#111" stroke-width="0.9900000000000001"/>
<line x1="539" y1="698.6" x2="539" y2="700.9" stroke="#111" stroke-width="0.9900000000000001"/>
<line x1="579.01" y1="698.6" x2="579.01" y2="700.9" stroke="#111" stroke-width="0.9900000000000001"/>
<line x1="619.01" y1="698.6" x2="619.01" y2="700.9" stroke="#111" stroke-width="0.9900000000000001"/>
<line x1="659.01" y1="698.6" x2="659.01" y2="700.9" stroke="#111" stroke-width="0.9900000000000001"/>
<line x1="439" y1="674.6" x2="435.7" y2="674.6" stroke="#111" stroke-width="1.1"/>
<line x1="439" y1="638.3" x2="435.7" y2="638.3" stroke="#111" stroke-width="1.1"/>
<line x1="439" y1="602" x2="435.7" y2="602" stroke="#111" stroke-width="1.1"/>
<line x1="439" y1="565.7" x2="435.7" y2="565.7" stroke="#111" stroke-width="1.1"/>
<line x1="439" y1="529.4" x2="435.7" y2="529.4" stroke="#111" stroke-width="1.1"/>
<line x1="439" y1="692.75" x2="436.7" y2="692.75" stroke="#111" stroke-width="0.9900000000000001"/>
<line x1="439" y1="656.45" x2="436.7" y2="656.45" stroke="#111" stroke-width="0.9900000000000001"/>
<line x1="439" y1="620.15" x2="436.7" y2="620.15" stroke="#111" stroke-width="0.9900000000000001"/>
<line x1="439" y1="583.85" x2="436.7" y2="583.85" stroke="#111" stroke-width="0.9900000000000001"/>
<line x1="439" y1="547.55" x2="436.7" y2="547.55" stroke="#111" stroke-width="0.9900000000000001"/>
<text x="432.5" y="679.9" font-size="15.3" text-anchor="end" >3.0</text>
<text x="432.5" y="643.6" font-size="15.3" text-anchor="end" >3.3</text>
<text x="432.5" y="607.3" font-size="15.3" text-anchor="end" >3.6</text>
<text x="432.5" y="571" font-size="15.3" text-anchor="end" >3.9</text>
<text x="432.5" y="534.7" font-size="15.3" text-anchor="end" >4.2</text>
<text x="439" y="717" font-size="15.3" text-anchor="middle" >0.0</text>
<text x="479" y="717" font-size="15.3" text-anchor="middle" >0.6</text>
<text x="519" y="717" font-size="15.3" text-anchor="middle" >1.2</text>
<text x="559.01" y="717" font-size="15.3" text-anchor="middle" >1.8</text>
<text x="599.01" y="717" font-size="15.3" text-anchor="middle" >2.4</text>
<text x="639.01" y="717" font-size="15.3" text-anchor="middle" >3.0</text>
<text x="529" y="746.3" font-size="20.5" text-anchor="start" >Log<tspan font-size="9" dy="1">(</tspan><tspan font-style="italic" font-size="20" dy="-1">η</tspan><tspan font-size="9" dy="1">)</tspan></text>
<text transform="translate(394,647) rotate(-90)" font-size="20.8">Log <tspan font-style="italic">I</tspan><tspan dy="9.5" font-size="22.5">760</tspan></text>
<text x="367" y="510.5" font-size="23.5" text-anchor="start" >(F)</text>
<line x1="447" y1="678.94" x2="655.68" y2="536.76" stroke="#e02a2a" stroke-width="1.8"/>
<rect x="446.2" y="678.17" width="4" height="4" fill="#1a1ae6"/>
<rect x="455.2" y="670.54" width="4" height="4" fill="#1a1ae6"/>
<rect x="472.4" y="656.39" width="4" height="4" fill="#1a1ae6"/>
<rect x="492.2" y="644.77" width="4" height="4" fill="#1a1ae6"/>
<rect x="517.94" y="623.72" width="4" height="4" fill="#1a1ae6"/>
<rect x="540.01" y="605.69" width="4" height="4" fill="#1a1ae6"/>
<rect x="591.61" y="587.54" width="4" height="4" fill="#1a1ae6"/>
<rect x="619.14" y="563.46" width="4" height="4" fill="#1a1ae6"/>
<rect x="636.61" y="547" width="4" height="4" fill="#1a1ae6"/>
<rect x="653.54" y="527.64" width="4" height="4" fill="#1a1ae6"/>
<text x="452.5" y="540" font-size="21.3" text-anchor="start" >y=2.9191+0.3754x</text>
<text x="453" y="566" font-size="21" text-anchor="start" >R<tspan font-size="11.5" dy="-7">2</tspan><tspan dy="7" font-size="21.6">=0.9901</tspan></text>
</svg></body></html>
